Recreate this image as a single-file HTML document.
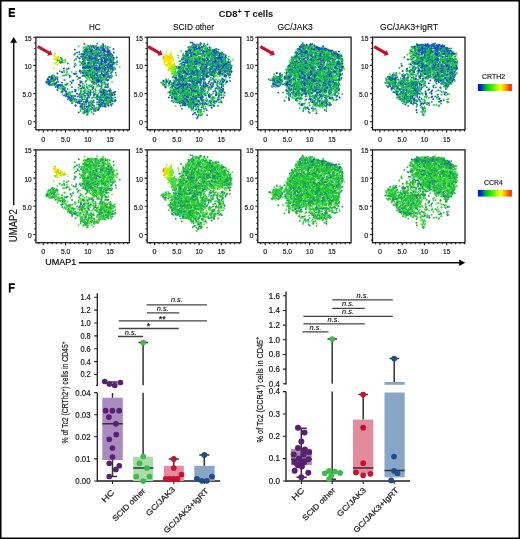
<!DOCTYPE html><html><head><meta charset="utf-8"><style>html,body{margin:0;padding:0;background:#fff}svg{display:block;will-change:transform}text{font-family:"Liberation Sans",sans-serif;stroke:#222;stroke-width:0.22px}</style></head><body>
<svg width="520" height="539" viewBox="0 0 520 539">
<rect x="0" y="0" width="520" height="539" fill="#fff"/>
<defs><path id="c0m0" d="M55 9.9h0m-4.3 1.3h0m3.7-.2h0m1.3 .1h0m12.1 .4h0m-28.9 1h0m21.1-.8h0m-1.6 1.6h0m9.4-.8h0m1.2 .9h0m-25.7 1.4h0m10.2-.2h0m18 .1h0m2.2 .3h0m4.2 .3h0m-25.3 .3h0m4.2 .3h0m1.3-0h0m4.6-.2h0m2.1-0h0m8.8 .2h0m.3-.2h0m-18.5 1.2h0m16.9-.1h0m-8.1 1.7h0m7.8-.4h0m1.2-.5h0m3.1 .7h0m-22.6 .7h0m17.9-.2h0m5 .1h0m-31.2 .7h0m5.6 .1h0m24.2 .5h0m2.7 .3h0m-30.7 1.5h0m4.3 .3h0m8.8-.7h0m-1.4 .9h0m12.6 .6h0m-11.9 .8h0m10.9 .4h0m2.3-0h0m1.1-.5h0m-26.6 .9h0m8.6 .8h0m3.4-.6h0m-13.2 1.5h0m13.1-.7h0m1-0h0m13.3 .1h0m-25.6 1.2h0m17.5-.1h0m.9-.3h0m.5 .5h0m1.9-.3h0m2.9 .5h0m6.2-.2h0m-3.4 .5h0m-24.6 1.5h0m18.5 .4h0m5.4-.9h0m2.8 .7h0m-21.2 .7h0m19-.2h0m-19.7 1.1h0m5.4 .1h0m2-0h0m1.3 .1h0m7.3-.5h0m5.9 .4h0m-45.5 1h0m16.7-.4h0m16.7 .1h0m10.5 .8h0m-15.8 .1h0m-35.2 1.3h0m22.9 .2h0m4.1-.5h0m2 .5h0m3.7-.1h0m6-.2h0m1.1-.2h0m6.2 .8h0m-8 1h0m14.3-.7h0m-22.6 1h0m21.3 .3h0m-21.7 1.3h0m1.2-.7h0m-26.4 1.7h0m33.6-.7h0m2.6 .5h0m-30.4 1.8h0m23.3 1.3h0m7.5-.6h0m-46.3 1.5h0m38.8-.2h0m7.1 .6h0m3.8-.2h0m-39.2 .6h0m37.6 0h0m-55 1h0m2.3 .1h0m1.7-.2h0m2.5 .6h0m3.4-.1h0m39.7-.8h0m4.7 1.5h0m.8 .4h0m2.2 .1h0m-50.3 .1h0m40.3 .1h0m-44.8 1h0m44.5-.1h0m4.3 .7h0m-48.8 .7h0m12 .3h0m.3-.6h0m31.2 1.9h0m14.3 .6h0m-45.6 .7h0m1.5 .9h0m45.6 1.3h0m-3.6 1.1h0m-2.6 1.8h0m-19.6 1.1h0m11.3-.1h0m7 .4h0m7.4-.9h0m-11.8 2.4h0m-12.1 .9h0m4.2 .5h0m-7.7 .4h0m5 .7h0m25-.8h0m-9.9 1.6h0m4.1-.1h0m-33 .5h0m7.2 .2h0m22.9 .3h0m7.1 1.1h0m-34.3 .5h0m1.4 .7h0m8.9-.4h0m14.8-.4h0m1.1 1.2h0m1.3 .5h0m-21.5 .8h0m22.8-.6h0m.2 2h0m-10 1.5h0m4.2-.1h0m-11 2h0m3.7 .2h0m-5.3 .5h0m1.4 .9h0m.2 .2h0m6.2 .2h0m-6.8 1.7h0m6.1 1.1h0"/><path id="c0m1" d="M61.3 6.3h0m-9.5 2.2h0m3.2-.2h0m-6.1 1.6h0m14 .3h0m3.2 .2h0m-4.4 .3h0m8.4-.1h0m.3 .1h0m-21.1 1.5h0m.4-.4h0m13.6 .8h0m5.2 .5h0m-.2 1h0m-11.3 1.2h0m3.3 0h0m13.3-.6h0m-22.5 .9h0m.4 .5h0m-6.3 .8h0m3-.2h0m1.1 1.2h0m10.1 .1h0m1 .3h0m9.7-.4h0m3.7-.1h0m-9.7 1h0m-8.7 .9h0m18.1-.2h0m.3 .7h0m-15.1 .7h0m1.5-.1h0m7.9 .3h0m1.4-.3h0m.4 .7h0m-21.2 .7h0m13.2 .2h0m9.7-.4h0m-11.1 1h0m-4.3 .8h0m5.8 0h0m10.2-.2h0m1.2 .3h0m1.8 .2h0m-19.4 .6h0m1.6 .2h0m5.7 .3h0m-15.6 1.1h0m25.1 .1h0m8.3 .9h0m-33.7 1.1h0m6.6-0h0m13.3-.3h0m4.8-.4h0m-23.7 1.6h0m10.4 .2h0m1.5-.7h0m1.9 .3h0m3.9-.1h0m1.6-.1h0m5.7 .1h0m1 .2h0m-21.3 .9h0m7.3 .2h0m10.6-.5h0m7.7 .1h0m-15.8 .8h0m2.9 .2h0m6.6-.3h0m3.4-.1h0m-7.3 1.9h0m6.1-.5h0m1.1-.1h0m-44.8 .7h0m18 .8h0m16.7 .2h0m3.6-.5h0m-6.2 .5h0m10.6 .4h0m-47.8 .9h0m5.5-0h0m26.6 .2h0m1.4-0h0m16.6-.2h0m-25.6 .9h0m-32.5 2.5h0m39.6-.1h0m6.2 .2h0m3.1-.1h0m9.1-.1h0m4.7 0h0m-14.9 .5h0m-12.8 1h0m11.1 .2h0m11.4 .4h0m-59.5 .3h0m40.7 .1h0m0 .3h0m4-.2h0m-31.9 2.1h0m15.9 .9h0m16.9 .7h0m.9-.8h0m5.5 1.8h0m-56 .1h0m2.2 .4h0m33.1 .4h0m11.3-.3h0m14 .4h0m-59.6 .4h0m18.3-.1h0m19.8 .4h0m-36.1 1h0m33.8 .1h0m5.9 .9h0m-11.7 1.3h0m3.8 0h0m-24.2 .7h0m6.9 0h0m2.6 .7h0m13.8 .1h0m7.1 .4h0m3.7-.2h0m18-.3h0m-44.3 2.2h0m27.7-.1h0m-23 1.4h0m33.1-.7h0m.9 .6h0m5.1-.7h0m-25.5 1.8h0m20.2-.6h0m-36.7 .8h0m1.4 .6h0m25.3-.3h0m11.6 0h0m2.4 .7h0m-38.1 .2h0m10.1 .3h0m7.3 0h0m13-.5h0m9.7 0h0m.6 .5h0m-35.8 .6h0m-6.7 1.3h0m33.4 .2h0m-31.9 .5h0m39.7 .3h0m-42 1.1h0m11.3 .4h0m3.8 0h0m1.8-.2h0m19.7-.3h0m.4-.1h0m-28.3 2.2h0m15.7 .8h0m18 .3h0m-25.7 .9h0m4 .4h0m-5.8 .7h0m6.4 .1h0m17.9-.6h0m-24.6 1.8h0m22.5 .2h0m-22.6 1.1h0m5.3 .7h0m9.5 0h0m-3 .8h0m2.5 .1h0m-15.6 .6h0m8.7 1.3h0m8.2-.1h0m-8.6 .4h0m.5 .2h0m-4.4 1h0m.5-.1h0m5.9 .5h0m-8.2 .9h0m3.2 1.6h0"/><path id="c0m2" d="M52.9 8.9h0m6.8 .5h0m-6 .8h0m13.9-.3h0m-13.3 1.5h0m7.8-.6h0m15.5 .9h0m-21.1 1h0m6.1 .2h0m3.7-.1h0m1 .6h0m.9-.5h0m-18.7 .7h0m4.9 .2h0m1.9 0h0m-15.2 1.6h0m9.2-.7h0m1 .1h0m16.7 .4h0m4.2-.6h0m-18.4 1h0m9.4 .6h0m-24.1 .3h0m34.6 0h0m-23 2h0m4-.3h0m15.6-.5h0m1.9 .2h0m-30.6 1.4h0m9.2 .7h0m9.4-.3h0m12.8 .5h0m-25.1 1.1h0m1.3-.5h0m8 0h0m3.8 .2h0m9.4 .1h0m-22 .5h0m9.9 .2h0m.2-.1h0m7.5 .8h0m9.1-.1h0m2.7-.7h0m-20.7 .8h0m11.8 .8h0m2.5-.4h0m2.5-.3h0m-19.6 1.7h0m13.2 .2h0m9.8-.1h0m-30.3 .3h0m10-.1h0m13.3 .7h0m6.8-.6h0m-24.4 1.7h0m11.7-.8h0m-24.8 2.1h0m13-.1h0m4.6 .6h0m3.3 .3h0m4.4-.9h0m-26.4 1.8h0m9-.9h0m3.7 .5h0m23.4 .2h0m-24.8 .5h0m-.6 1.3h0m2-.1h0m1 .3h0m8 .2h0m10-.1h0m-11.9 .3h0m4.7 .3h0m5 .1h0m.6 .4h0m3.6-.2h0m-20 1.2h0m4.2-.2h0m9.9-.2h0m-22.5 1.3h0m10.3-.5h0m13.4 .1h0m-17 1.2h0m15.3-.3h0m4 0h0m-17.7 1.1h0m3.7 .3h0m12.8-.6h0m-16.5 1h0m.3 .1h0m6.4 .1h0m13.2 0h0m-19.3 1.4h0m11.5-.5h0m3 .3h0m-15.4 .6h0m9.9 .3h0m6.3 .2h0m1.1-.2h0m-49.5 1.3h0m32.4-.1h0m-31.8 .8h0m40-.2h0m-3.1 .8h0m-42.4 1.4h0m2.3-.3h0m20.4 .6h0m20.5-.3h0m5.2 .5h0m.7-.5h0m.7-.1h0m.7 .7h0m7.5-.8h0m-56.9 1.2h0m49.2 .1h0m-54.4 1.1h0m1.9-.4h0m13.7 .7h0m32-.7h0m-22.4 1.1h0m8.7-.2h0m12.8 .3h0m3.1-.1h0m-40.8 .8h0m23.5 .8h0m-20.5 .9h0m7.5-.7h0m39.8 0h0m-21.9 3.4h0m9.3-.1h0m10.7 1.4h0m-2.7 .9h0m1.5 .1h0m8 .1h0m-25.8 .1h0m22.1 .7h0m-.5 .6h0m-1.8 1.4h0m.9-.4h0m5.7 .1h0m2.3-.1h0m-36.5 .7h0m30 .9h0m2.7-.1h0m1.4-.4h0m-23.4 .8h0m10.1 .2h0m7 .3h0m4.9-.2h0m1.7 .3h0m-43 .7h0m16.5-.4h0m8.7-.1h0m9.9 .4h0m3.2 .6h0m-38.8 .1h0m36-.1h0m.6 .7h0m-35.7 1.1h0m39.2 0h0m-37.3 .5h0m.8 .4h0m34.8-.5h0m4.9 1h0m-24 1.7h0m21-.1h0m1.4-.1h0m-23.8 .6h0m3.6 .6h0m3.6-.6h0m10.5 .2h0m-12.4 .8h0m16.8 .7h0m-5.4 .1h0m4.4 .7h0m-31.4 .8h0m14-.3h0m19.1 .7h0m-28.4 .7h0m19.9 .1h0m2.4-.3h0m2.1 .2h0m-20.4 .3h0m2 0h0m-4.1 1.5h0m11.6 1.4h0m-8.9 .8h0m4.7-.6h0"/><path id="c0m3" d="M50.6 9.7h0m4 .7h0m-3.7 1h0m.5 .1h0m19.3-.4h0m-18.5 2.1h0m9.7-.2h0m-4 .9h0m-4.6 1.3h0m2.3 .1h0m10.3-.5h0m4.2-.2h0m-20.4 1.7h0m9.4 .1h0m9.2 .4h0m4.1-.2h0m-22.9 1.8h0m7-.9h0m1.5 .8h0m1.8-.7h0m16.8 .8h0m-22.6 .4h0m15-.1h0m5.3 .8h0m1.7-.5h0m-25.9 .8h0m-2.3 1.6h0m-0 .6h0m.2-0h0m.6-.3h0m22.2 .6h0m-22.9 1.1h0m5.8-.4h0m-0-.4h0m3.2 .8h0m13.8-.4h0m-16.1 1h0m1.4-.1h0m.2-.2h0m14 .3h0m7-.2h0m3.9 .5h0m-36.9 .5h0m5.5 .4h0m-10.7 1.1h0m7.5-.3h0m17.5-.3h0m9 .2h0m6.7-.1h0m-28 .7h0m.3 .5h0m1.9-.1h0m-.5 2.5h0m3.7-.1h0m9.1-.7h0m6.9 .3h0m-24.2 .8h0m2.7 .5h0m19.4-.3h0m-5.8 .9h0m-16.9 1.3h0m7.8-.4h0m19.7 .2h0m-16.1 1.5h0m-11.5 .4h0m7.6 .3h0m.7-.5h0m13.6 .9h0m-34.4 .3h0m11.6 .4h0m6.1 .1h0m4 0h0m-7.1 1h0m8.4 .5h0m-31.9 1.6h0m28.7-.6h0m7 .3h0m5.4-.2h0m-51.5 1.3h0m18.5 .2h0m16.6-.1h0m-37.3 .3h0m3 .8h0m36-.2h0m2.9 0h0m1.6-.2h0m3.4 1h0m.3-.1h0m-49.2 .8h0m41.4 .7h0m2.6 .4h0m1.9 .6h0m1.4-.1h0m8.3 .1h0m-0-.8h0m3.6 .5h0m-14.1 1.3h0m3.2-.4h0m15.7 .7h0m-59.7 2.7h0m4.2-.8h0m36.3 .8h0m11.4-.2h0m-44 .6h0m10 .1h0m12 .3h0m8-.5h0m-26.5 1.3h0m16.7 .3h0m15.9 .2h0m8.2 .6h0m-24.5 1.3h0m-19.1 .6h0m23.6 .1h0m.7-.5h0m15.8 .8h0m-15.3 .2h0m20.6 .7h0m-21.8 .5h0m10.7 .2h0m-4.8 1.5h0m8.1 .6h0m3.1-.3h0m2.5 .2h0m1.4-.5h0m2 .8h0m-39.9 .9h0m21.1-.2h0m15.1 .5h0m3.9-.4h0m4.7 .2h0m-42.3 .8h0m16.4-.1h0m20.3 .2h0m-18.3 .6h0m14.5 .7h0m2.8-1h0m-21.3 1.2h0m8.7 .2h0m3.7-.3h0m-26.9 .9h0m14.2 .6h0m27 .4h0m-8.2 .2h0m1.2 .2h0m-32.1 1.5h0m7.1 1h0m27.6-.1h0m8.7-.8h0m-24.9 1.3h0m14.5-.3h0m-15.7 1.9h0m9.6-.7h0m.7-.1h0m-18.7 1.5h0m17.9-.1h0m2.1-.1h0m.3-.3h0m3.8 .7h0m-4.3 .5h0m5 2.1h0m-24.8 .6h0m16.4-0h0m-8.1 2.3h0m.3-.2h0"/><path id="c0m4" d="M55.9 9.4h0m13.6-.3h0m-13.5 .5h0m9.7 .3h0m6.1-.1h0m-16.4 1h0m9.7 .3h0m-16.4 1.4h0m7.1-.3h0m7.8-.1h0m8.4-.3h0m-21.3 1.3h0m9.7-.5h0m2.7 .6h0m.1-.1h0m.2-.1h0m-15.8 1.1h0m1.8 .4h0m3.8-.2h0m15.6-.5h0m-15.9 1h0m9.8 .4h0m-14.2 1h0m8 .2h0m1-.1h0m.7 0h0m5.2-.7h0m9-0h0m-26.6 1.1h0m6.9 .7h0m22-.7h0m-23 .9h0m3.2 .8h0m11.3-0h0m.7-.2h0m6.1-.6h0m1 .6h0m-14.3 .5h0m11.2 .7h0m4.2-.7h0m-20.5 2.6h0m2-0h0m13.8-0h0m-23.6 .7h0m3.2-.2h0m18.8-0h0m-0-.2h0m4.2-.1h0m-34.4 1.5h0m8.9 .2h0m.6-.3h0m5.5 .3h0m18.9-.3h0m.3-0h0m4-.4h0m-20.8 1.7h0m16.5 .8h0m6.1 .4h0m-32.7 1h0m8.9-.4h0m6.3-.5h0m4.6 .1h0m-26.2 1.4h0m9.3-.4h0m2.9 .4h0m23.6-0h0m-20 .8h0m12.9-0h0m7 .7h0m-27.7 1.3h0m1.1 .5h0m19.1-.5h0m-3.2 1.6h0m5.4-.7h0m2.1-.1h0m-16.2 1.7h0m10-.2h0m4.3-.3h0m4.3 .1h0m5-.3h0m-34.3 2.5h0m23.9-.3h0m-20.4 1.2h0m20.2-.5h0m-8 1.9h0m-20.8 .2h0m7.7-0h0m3.1 .4h0m15.2 .4h0m.4 .6h0m-25.2 1.1h0m14-0h0m-33.5 1.2h0m42.4-.3h0m-12.8 1.2h0m19.3-.6h0m-13.2 1.2h0m2.3 .5h0m3.2-0h0m4.3-.8h0m2.4 .3h0m1 .7h0m-51.3-0h0m41.7 .2h0m9.9 .1h0m-53.2 1.1h0m18.9-.4h0m20.4 .9h0m-44.3 .8h0m55.9-.3h0m-50.7 1.6h0m2.3-.8h0m2.3 1.7h0m-6.4 .2h0m2.6 .5h0m2.7 .2h0m4.5 .1h0m39.9-.7h0m0 .9h0m-38.7 1h0m42.4 .2h0m1.2-0h0m-13.9 .9h0m-27.8 1h0m9.9 .8h0m20.6-.6h0m4.9 .1h0m1.5 1.8h0m5.6 .4h0m-40.9 .9h0m5.8-.5h0m18.3 .5h0m11-.3h0m11.9 .6h0m-33.2 .6h0m21.3 1.3h0m8.4 .1h0m-44.2 1.6h0m22.9-.3h0m-9 1.2h0m20 .1h0m6.4 .1h0m1.1 .1h0m1.5-.1h0m6.5 .1h0m-45.9 1.3h0m2.1-.5h0m.1-0h0m20.6-.3h0m-4.9 1.7h0m9.9-.5h0m.1 .1h0m3.2 .2h0m5.7 .3h0m1.8-.8h0m5-.1h0m-41.6 1.5h0m3.1-.3h0m11.9 .3h0m25.3 1.1h0m3-.2h0m-35.2 1.2h0m.2-.3h0m9.1 .4h0m4.8-.1h0m3.7-.1h0m1.7-.4h0m7.8 .5h0m-28.9 .6h0m14 .9h0m7.3 1.2h0m3.1 1.1h0m-20.3 1.1h0m6.8-0h0m-5.6 2.3h0m12-.7h0m-14.5 2h0m7 3.4h0"/><path id="c0m5" d="M67.2 7h0m.2 1.5h0m-6.6 1.6h0m-8.9 1.4h0m-1.1 .7h0m9.6-.1h0m1.8 .8h0m-6.4 .8h0m1.5 .7h0m7.5-.7h0m5 .5h0m-20.7 .8h0m6.3-.2h0m2.8 .8h0m10.3 1.1h0m6.1 .3h0m-2.8 1.3h0m2-.6h0m2.6 .4h0m-28.9 .7h0m1.8 .5h0m3.2 0h0m1.5-.3h0m.1-.1h0m1.8 0h0m2.4-.3h0m16.2 .1h0m6.3 1.6h0m-33.8 .5h0m18.4 .1h0m.4 .5h0m7-.2h0m1.8 .9h0m-25.8 .6h0m6.3-.2h0m14.5 .3h0m-3.9 .8h0m7.5 .7h0m-7.7 .8h0m.6-.4h0m11.6 .8h0m3.6-.8h0m-34.9 1.4h0m.2-.4h0m1 .3h0m1.6 .3h0m16.7 .1h0m2.4-0h0m-15.8 .8h0m21.1 .1h0m-15.8 1.1h0m13.5-.4h0m-14.8 .7h0m17.5-0h0m-27.2 1.8h0m13.6-.2h0m12.9-.1h0m-45.3 1h0m4.7 .1h0m20.2-.6h0m7.8-.1h0m10.8 .5h0m-13.3 1.4h0m9.9-.9h0m1.3 .8h0m-8.7 .2h0m7.6 .2h0m9.3-.2h0m-29.5 .9h0m12.2 .6h0m12-.5h0m-15.5 1.8h0m8.7-.8h0m6.3 .1h0m-22.1 1.4h0m.4 .1h0m15.8 .3h0m-35.4 .8h0m21.3-.7h0m14.2 .2h0m1.1 .7h0m3.7-.2h0m-37.1 1.2h0m14.8-.2h0m.1-0h0m2.3-.2h0m4.4-.3h0m-8.7 .9h0m-30.7 1.7h0m39.7-.4h0m3.1 .5h0m9.5-.8h0m3.1 .1h0m-56.1 1.4h0m43.7 .1h0m7-.7h0m-46.9 1.1h0m2.5 .3h0m-7 1.1h0m47.4 .2h0m9.4-.1h0m-60.8 1.3h0m11.9-.1h0m27.3-.1h0m13.8-0h0m-49.2 .9h0m41.7-.5h0m-42.3 .9h0m-1 1.4h0m59.2 .7h0m-50.6 1.4h0m42.4-.1h0m-12.8 .6h0m-5.5 1.8h0m9.1 1.9h0m-28.2 .8h0m12.9 .3h0m29.2 0h0m4.9-.6h0m-4.3 1.5h0m9.1 .1h0m-29.1 .4h0m3.5 1.2h0m6-.5h0m-30.4 1.9h0m2.4-.1h0m38.5-.5h0m-27.1 1.4h0m-8.2 1h0m28.4-.4h0m13.8 .7h0m-14.3 1h0m8.1 .4h0m.7 .7h0m2 .9h0m-37.4 .2h0m8.8 .5h0m11-.3h0m-18.1 .6h0m5.8 0h0m.2 .1h0m.7 .7h0m31.1-.2h0m-8.4 .4h0m-15.9 1.4h0m17.3 .4h0m-19 .4h0m8.4 .1h0m7.7 .5h0m7.2-.3h0m-26.4 1.5h0m8.3-.8h0m9.7 1.6h0m-7 .5h0m6.4 .9h0m-20 3.5h0m5.2-.2h0m.9 .3h0"/><path id="c0m6" d="M42.9 9.3h0m9 0h0m17.9 1h0m-19.6 .2h0m9 .5h0m.4-.4h0m7.9 .2h0m-13.7 2h0m3.7 2.6h0m2.3 .5h0m.4 .5h0m-14.3 1.5h0m28.9-.2h0m-26.9 1.3h0m3.4 .2h0m-9.3 1.3h0m22.9-.4h0m1.2-.6h0m2.5 1h0m5.3-.4h0m-26.7 .6h0m27.1 .1h0m-24.6 1.7h0m7.2 .3h0m4.8-.2h0m-13.1 1.6h0m6 .1h0m17.6-.3h0m1.6-.2h0m-6.7 1.5h0m5.1-.5h0m-24.9 1.1h0m6.4 .5h0m7.4-.5h0m15.3 .5h0m-36.8 .5h0m7.6 .6h0m7.7-.3h0m-6 1.2h0m3.4-.7h0m4.3 .7h0m7-.8h0m12.7 .5h0m-16.1 .7h0m11.4 .6h0m0 .7h0m12.2-.4h0m-33 .9h0m15 .2h0m6 .5h0m-18.2 .4h0m0 .4h0m17.1-.6h0m5.2 .5h0m-25.4 .5h0m6.1 1h0m.9-.7h0m9.8 .2h0m-26.9 1.2h0m6.6-.1h0m2.9-.5h0m.9 .2h0m6.2-.3h0m3 .9h0m-31.7 .7h0m25.4 .3h0m-21.7 1.6h0m17.5 .3h0m3.1-.4h0m2.3 .2h0m6.5-.2h0m-45 1.1h0m13.9-.1h0m25 .1h0m6.6-0h0m3.9-0h0m-45 1.4h0m35 .1h0m3.4-.3h0m-44.9 .9h0m.2 .4h0m2.8-.5h0m32.9-.1h0m1.1 .5h0m13.7-.8h0m.1 .3h0m4.7 .3h0m-57.2 .4h0m52.2 .4h0m2.9 .4h0m-26 .7h0m10.1-.1h0m15.2-0h0m-12.5 1.5h0m9.5-.9h0m-45.6 2.2h0m.3 .1h0m-8 1.4h0m5.7 .5h0m12.1 .6h0m37.8-.5h0m-10.3 1.4h0m-32.9 .4h0m39.1 .2h0m-9 1h0m-28.8 1.2h0m18.2 1.2h0m22.2-.2h0m-19.9 .9h0m-16.3 .6h0m16.8 .5h0m6.9-.2h0m14.1 .4h0m-6.5 1h0m-28.9 .5h0m3.3-.2h0m12.3 .5h0m5.4 .4h0m23.4-.8h0m.4 .6h0m.1-.7h0m-49.5 1.4h0m52.2-.2h0m-41.6 1.4h0m40.1 0h0m-31.8 .5h0m-8.1 .9h0m22.7 .9h0m5.5-.2h0m-2.1 1.7h0m6.1 .4h0m2.3-.3h0m1.1 0h0m-28 1.3h0m10.4 0h0m-18.9 1.1h0m1.7-.6h0m1.2-.1h0m15.5-.2h0m20.9 .1h0m-6 1.6h0m-19.8 1.7h0m15.7-.4h0m2.5 .6h0m2.9 .3h0m3.7-.7h0m-24.8 1h0m-4.8 .8h0m.6-.1h0m-.7 3h0m15.8 .8h0m-10.6 2.1h0m.5 0h0"/><path id="c0m7" d="M60.8 8.9h0m3.8 1h0m2.5 .9h0m.7 .6h0m-11.9 .8h0m4.3 1.2h0m-11 2.1h0m11.4-.6h0m6.8 .5h0m-13.2 .9h0m18.4-.1h0m-24.5 1.1h0m14.1-.7h0m3.1 .9h0m7-.3h0m2.7-.5h0m-7 1.3h0m-22.9 1.2h0m10.6 .2h0m14.4-.6h0m1.6 .2h0m1 .2h0m-8.3 .3h0m2.2 .9h0m9.2-.6h0m-22.9 1.5h0m4.8-.5h0m1.8-.3h0m.8 .5h0m7.8 .2h0m6.6-.4h0m-34.5 .9h0m14.3 .4h0m10 .3h0m7.5-.1h0m2-.7h0m-.6 1.7h0m-14.3 .9h0m-0 .3h0m16.4 .3h0m.3-.3h0m-17 2h0m2.1-.7h0m1.4 .5h0m6.5-.1h0m-4.9 .9h0m9.4 .3h0m-22.6 1.1h0m1.1-.7h0m6.6 .1h0m2 .1h0m14.5 0h0m-24.5 2.2h0m2.5-.6h0m2 0h0m10 .9h0m9.1-.4h0m-8.6 .4h0m-13.3 2.9h0m24.7-.4h0m-22.3 .8h0m7.3 .1h0m7.8-.3h0m-18.2 1.4h0m6.6-.4h0m17.1 .6h0m4.7 .3h0m-42.2 .9h0m2.5-.1h0m4.9-.5h0m6.9 .2h0m2.7 1.2h0m4.6-.5h0m-11.8 1.7h0m7.3-.1h0m2.1-.2h0m-40.8 .9h0m33.4 0h0m18.9 .1h0m3.6-.2h0m.6 .2h0m.7 .3h0m1-.8h0m-18.1 1.5h0m1.9 .2h0m6.9 0h0m5.7-.4h0m1.7-.4h0m3.1 .9h0m-32.6 .3h0m17.4 .6h0m0-.4h0m-45.2 1.4h0m1 .9h0m2.3-.2h0m52 0h0m-35.8 1.4h0m26.2-.7h0m-49.6 1.3h0m5.5 1.5h0m14.1 .7h0m29.8-.4h0m9.5 .1h0m-14.4 2.4h0m-35.8 .5h0m16.3 .2h0m10.9-.3h0m1.2 .6h0m17.1-.8h0m6.9 .3h0m-45.1 1.2h0m24.4-.1h0m14.1-.3h0m-38.5 1.4h0m-.2 2.5h0m20.8-.1h0m.8-.1h0m-23.1 .5h0m19.5-.3h0m10 .4h0m19.7-.1h0m-41.5 .8h0m36.2 .2h0m-25.6 1.1h0m2.4 .5h0m12.5-.4h0m1 .3h0m7.7 .1h0m3.8-.1h0m-35.4 1h0m7.5-.6h0m24.5 .3h0m6.7 .2h0m-21.9 .8h0m22-.1h0m-28.2 .7h0m-0 .6h0m18.2-.4h0m3.2 0h0m-16.5 1.6h0m13.8-.7h0m4.3 .7h0m-30 .4h0m-5.3 1.1h0m6.8-.1h0m11.1 .4h0m11.5-.2h0m1.3-.1h0m.6 .3h0m1-.3h0m6.8 .5h0m6.3-.5h0m-28.6 .7h0m25.6 .2h0m.1 0h0m.3 .3h0m.3-.1h0m-29.2 .6h0m15.6 .1h0m-27.4 1.3h0m40.5 .5h0m-11.9 .2h0m-19.1 1.3h0m6.8 .8h0m5.8 0h0m-3.4 2.7h0m-4.1 2.5h0"/><path id="c0m8" d="M48.6 6.7h0m8.5 1.8h0m.7 1.2h0m.6 1.1h0m9.1 .5h0m-17 .9h0m3-.5h0m1.5 1.2h0m13.8-.1h0m2.8-.2h0m2 .9h0m-.6 .2h0m-1.6 1h0m.5 .3h0m-16.4 .8h0m18.9 .7h0m-28.2 .4h0m1.7 .1h0m3.5 .2h0m5.2-.6h0m4.7 .5h0m-7.3 1h0m5.4 .1h0m9.9 .3h0m1.9-.8h0m.5 .2h0m-24.4 1.3h0m7.7 .1h0m6.8-.6h0m1.6-.2h0m-13.8 1.8h0m4.1-.7h0m-10.1 1.5h0m5.6-.4h0m3.9 .7h0m.6-.6h0m4.9 .4h0m9.7-.4h0m4.1 .6h0m5-.9h0m-21.2 1.1h0m2.8 .6h0m16-.5h0m-22.8 1.5h0m8.2-0h0m1.9-.7h0m4 .8h0m4.7-.6h0m3.8 .4h0m-12.8 .5h0m7.9 .6h0m4.9 .3h0m-27.8 .7h0m.2-.3h0m.8 .1h0m5.4 .5h0m15.4-.9h0m.1 .9h0m6.1-.7h0m-22.8 .8h0m5.6 .9h0m7-.8h0m-17.5 1.2h0m18.9 .3h0m6.4-.5h0m4.1 .2h0m-6.7 1h0m4.5 .3h0m-24.7 1.1h0m6-.5h0m8-0h0m4.4 .4h0m7.9-.2h0m-24.6 .7h0m1.7-0h0m.9 .7h0m2.6-0h0m1.8-.2h0m13.2-.1h0m1.8 .1h0m-24.7 .8h0m14.7-.5h0m1.1 .8h0m2.2-.5h0m2.9-.1h0m7.4 .4h0m-15.5 1.2h0m14.3-.7h0m-31.9 1.6h0m10-.1h0m-27.7 2h0m-4.9 1.1h0m25.6-.4h0m23.6-.1h0m-32 1.1h0m22.1-.2h0m11.1 .9h0m-13.2 .5h0m2.3 .4h0m6.3-.6h0m.6 .5h0m1.3-.8h0m-11.1 1.2h0m9.7-.2h0m-54.4 1.2h0m2.2-.1h0m40.1 .3h0m6.8 .6h0m-45.7 .5h0m27.4-.3h0m13.3 .1h0m16.1-.3h0m-62 1.6h0m.7-.1h0m3.6-.3h0m41.8 .4h0m3.4 .4h0m-44.5 .6h0m44.7 .3h0m2.1-.6h0m-50.1 .7h0m49.6 .8h0m-17 .3h0m16.3 .4h0m-41.8 .9h0m-1.9 1h0m5.9 .6h0m-5.7 0h0m3.9 .8h0m2.2 .2h0m19.6 0h0m-22.7 1.4h0m6.4 2.3h0m-6.5 .6h0m6.9 0h0m11.6 .3h0m28 0h0m1.1 .1h0m-39.2 1.1h0m38.1-.5h0m6.1 .1h0m5.1 .6h0m-26.5 .2h0m11.4 0h0m1.7 .4h0m1.7-.1h0m-37 1.4h0m20.7-.1h0m2.9-.3h0m11.8 .4h0m10-.5h0m-44.8 1.3h0m36.3-.1h0m11.4 .4h0m-24.2 .2h0m12.8 .3h0m1 .1h0m5.1 0h0m2.9-.3h0m-40.6 1.6h0m3.1-.5h0m22.2-.1h0m3.7-.3h0m-20.2 1.2h0m23 0h0m-30.1 1.2h0m14.2-.1h0m19.8-.2h0m2.4 .1h0m-27.5 1.5h0m17.3-.1h0m6.5-.5h0m-12.5 1.6h0m11.7-.2h0m6-.1h0m4 .2h0m-33.9 .9h0m5.4-.3h0m16.7 .3h0m-17.9 .6h0m-5.7 1.6h0m28-.5h0m-25.5 1h0m16.3 .7h0m2.3-.3h0m4.1-.3h0m5.9 .4h0m-35.5 1.4h0m5.4 .4h0m24.3-0h0m-17.8 .8h0m-2.3 2h0m13.2 .8h0m-2.7 1h0m-8 1.1h0"/><path id="c0m9" d="M59.1 8.7h0m1.3 .2h0m5.2-.4h0m.6 .8h0m7.7 1h0m-26.2 .4h0m3.8 .1h0m1.4 .5h0m2.1-.1h0m7.2 2.2h0m-14.9 1h0m9.9-.3h0m3.2 .2h0m.7-.4h0m-2.5 1.3h0m-7.7 1.1h0m3.9-.5h0m4.4 .1h0m.8 .3h0m6.1-.4h0m.3 .4h0m-23 .9h0m9.3 0h0m-14.4 .5h0m16-.1h0m.3 .9h0m3.8-.3h0m-8.3 1.4h0m11.8-.2h0m5.8-.4h0m2.9-.4h0m-23.6 2h0m27.3-.4h0m-22.4 1.1h0m23.6 .3h0m-11.4 .3h0m8.3-.2h0m4.3 .2h0m-27.5 1.5h0m9.4-.3h0m18.3 .3h0m-33.2 .8h0m9.5 .1h0m10.9 .3h0m17.5-.6h0m-36.3 1.5h0m2 0h0m9.1-.1h0m4.8-.7h0m-14 1.2h0m21.2 .7h0m-14 .3h0m13.1 .1h0m-23.1 1h0m5.3 .3h0m6.1 .2h0m13.2-.8h0m-1.8 1h0m-10.7 1.8h0m.5 0h0m10.4 0h0m-19.3 1.4h0m17.5 .2h0m12.1 .3h0m-49.7 1.2h0m19.8-.9h0m1.3 1.7h0m8.6-.3h0m8.5-.2h0m-14.4 1.2h0m.2 .1h0m3.5 .2h0m7.5-.1h0m5.3-.4h0m.4 .4h0m.7-.6h0m-19.7 1.9h0m19.9-.5h0m2.9 .2h0m-19.6 .4h0m-.1 1.5h0m18.7-.2h0m-53 .8h0m40.4 .6h0m11.9 .2h0m5.5-.5h0m-18.6 1.2h0m6.5-.7h0m-45.4 1.6h0m34.7-.3h0m-35.8 1.1h0m40.1 .6h0m2-.5h0m5.4-.2h0m-50.6 1.6h0m1.5-.1h0m34.4 .1h0m16.4-.8h0m-6.8 2.9h0m4.8-.3h0m-49.2 2h0m2 .1h0m14.2-.8h0m33.8 .3h0m-12.7 1.4h0m8.7 .3h0m-38.6 1.8h0m5.3-.3h0m.7 .5h0m37.7 1.7h0m-7 1.2h0m3.8-0h0m-12.6 .5h0m18.2 .3h0m-35.6 .9h0m23.6 .2h0m17.8-.5h0m-21.9 .8h0m12.2 .8h0m-36.4 .8h0m18.9-.4h0m13 .7h0m6.5 .6h0m5.5-0h0m-34.8 .7h0m7.3 .4h0m1.9-.5h0m18.1-0h0m1.4 .1h0m7.7-.2h0m-15.3 1.6h0m9.1-.2h0m.3-.4h0m-7.7 1.4h0m16-0h0m-13.5 1.3h0m6.3-0h0m4.7-.2h0m-33.8 1h0m31.4 1.3h0m1.2-.7h0m-17.8 1.7h0m2.6-.1h0m13.3 .5h0m1.6 .1h0m-11.7 1.1h0m-5.9 .8h0m.1 1.5h0m11.7-.6h0m8.5-.1h0m-12.1 1.3h0m-15.4 .9h0m3.8-0h0m4.1-0h0m-6.8 1.6h0m8.4 0h0m4.1 .2h0m-14.2 2.7h0m4.5 .4h0"/><path id="c0y0" d="M21.4 22.6h0"/><path id="c0y1" d="M21 20.9h0"/><path id="c0y2" d=""/><path id="c0y3" d="M21.5 19.9h0m.8-.3h0m0 1.4h0m-2.5 1h0"/><path id="c0y4" d="M21.5 23h0"/><path id="c0y5" d="M20 21.8h0"/><path id="c0y6" d="M18.6 16.6h0m-.9 2h0m1 .7h0m2.5 1.9h0m-2.9 .6h0"/><path id="c0y7" d="M19.3 16.7h0m.6 4.3h0m.5 1.9h0"/><path id="c0y8" d="M20 20.1h0m-.5 1.2h0m.1 1.2h0m2 .4h0"/><path id="c0y9" d="M18.6 18.9h0m3.1 5.2h0"/><path id="c0t0" d="M18.8 26.2h0"/><path id="c0t1" d=""/><path id="c0t2" d=""/><path id="c0t3" d="M19.2 26h0"/><path id="c0t4" d=""/><path id="c0t5" d="M21.5 27.3h0"/><path id="c0t6" d=""/><path id="c0t7" d=""/><path id="c0t8" d="M20.9 25.2h0m-.3 2h0m-2.7 3.6h0"/><path id="c0t9" d=""/><path id="c0e0" d="M25.8 22.6h0"/><path id="c0e1" d="M21.5 22.4h0"/><path id="c0e2" d="M24.4 24h0m1.9 1h0"/><path id="c0e3" d="M24.9 23.2h0m2 .5h0m-2 1.6h0"/><path id="c0e4" d="M24.1 23.5h0m3.9 1.4h0"/><path id="c0e5" d="M21.8 22.7h0m1.2 0h0"/><path id="c0e6" d="M24.8 20.6h0m-3 2.7h0m7.3-.6h0m-5.2 2.2h0"/><path id="c0e7" d="M29.6 24.7h0"/><path id="c0e8" d="M22 20.3h0m.4 1.9h0m2.2 .5h0m3.5 1.2h0"/><path id="c0e9" d="M25.9 21.8h0m-.2 2.9h0m-.7 1h0m7 .5h0"/><path id="c1m0" d="M59.1 9.9h0m-16.6 1.1h0m7 0h0m1 .5h0m2.1 .1h0m7.5 .7h0m9.5 .2h0m1.9-.1h0m-25.5 .6h0m5.1-.4h0m14.7 .8h0m-5.8 .7h0m.4-.6h0m5.2 .1h0m-14.1 1.6h0m.9-.1h0m4.6 .3h0m3.6 .4h0m3.1 .3h0m1.9-.2h0m1.5-.4h0m3.9 .4h0m1.3 .1h0m-32.9 .9h0m4.5 .6h0m4.3-.9h0m3.1 .2h0m1.6 0h0m5.5 .5h0m17.3-.5h0m-39.8 1.1h0m13.7 .4h0m7.9-.6h0m4.8 .3h0m6.2-.5h0m.1 .1h0m4.1 .3h0m1.9 .3h0m-30.5 1h0m12.7-.5h0m18.5 .3h0m-29.9 1.4h0m-8.1 .3h0m4.4 .3h0m8.8-.2h0m1.9 .4h0m7.5-.5h0m12.7 .7h0m-28.9 .8h0m21.5 .1h0m-24.4 1.1h0m5.6-.4h0m6-.1h0m3-.4h0m5.3 .6h0m12.4-.2h0m-35 .9h0m1.2-.2h0m10.8 .6h0m11.3-.3h0m4 .4h0m15.6-0h0m-27.2 .5h0m14.9 .2h0m12.2 .3h0m-40.4 1.1h0m1.9-.3h0m.5-.2h0m7.1-.1h0m-12.8 1.6h0m17.4-.2h0m.1-.3h0m1.1 .1h0m18.4 .5h0m-22.5 .2h0m5.8 .2h0m-26.3 1.5h0m7.7-.4h0m1.5 .3h0m16.8 .1h0m2-.5h0m15.8-.1h0m5.1 .4h0m-31 .6h0m5.3-0h0m3.8 .2h0m6.2-0h0m-28.3 .5h0m4.9 .3h0m3.3 .2h0m5.1-.1h0m5.6-.2h0m6.4 .7h0m7.1-.4h0m3-.2h0m3.3-.1h0m-39.9 .8h0m19.3 .8h0m.8-.3h0m4.1 .3h0m1.1-.6h0m6.5 .1h0m3.5 .4h0m3-.1h0m-34.5 1.1h0m2.2-.1h0m2.1-0h0m1.9-.5h0m22.3 .1h0m13.8-.1h0m-39.6 1.6h0m5.9 .1h0m9.6-0h0m10.9-.1h0m-37.4 .5h0m5.3-.2h0m9.2 .9h0m4.7-.4h0m7.2 .2h0m6 .1h0m1.9-.5h0m7.7-0h0m-36.4 .9h0m11.3 .1h0m12.4 .6h0m13 .1h0m-34 .8h0m.4-.3h0m18.4-0h0m6.8-.1h0m16.5-.3h0m-34.8 1.8h0m13.8-.2h0m18.6-.1h0m-35.9 1.4h0m-10.4 .5h0m10.5-.2h0m-8.1 1.5h0m9.4-.6h0m1.1 1.4h0m-18.5 1.4h0m5.6-.4h0m.5-.3h0m4.1 .3h0m2.1-.2h0m.8 0h0m7.9-.2h0m2.7 .4h0m2-.5h0m1.9 .2h0m12.4-.1h0m1 .7h0m10.1-.6h0m-61.2 1.2h0m15-.2h0m7.5 .4h0m.1-.6h0m10.1 .4h0m3.8-.1h0m26.9 .5h0m3-.6h0m-63.2 1.2h0m38.6 .3h0m12.4-.7h0m5 .5h0m3.7-.2h0m-47.2 1.4h0m2.1-.2h0m19.3 .1h0m-17.6 .5h0m11.1 .4h0m2.6-.3h0m22.8 .1h0m2.1 .3h0m-45.8 1.2h0m17-.1h0m4.4 .2h0m9.6 0h0m4.8 0h0m-35 1h0m41.2 0h0m-38.5 .3h0m3.2 .2h0m6.3 .3h0m16 .1h0m.7-.9h0m-17.3 1.4h0m2.5-.4h0m1 .7h0m31.3 .1h0m-24.9 .3h0m20.2-.1h0m4.9 .7h0m-26.8 .7h0m2.4 .1h0m23.6 .4h0m-48.6 .9h0m6.7-.1h0m-.2 .7h0m20.2 0h0m1.3 .5h0m17.4-.7h0m1.2-.2h0m-50.3 1.2h0m9.8 .6h0m7-.1h0m16.2-.2h0m3.9-.1h0m-35.8 1h0m13.3-.2h0m6.3 .3h0m9.6-.1h0m3.6 .2h0m-33.9 .9h0m6.2 .4h0m.3-.1h0m10.7 0h0m2.6-.6h0m28.7 .3h0m-46.1 1.1h0m1.8-.1h0m.6-.4h0m21.1 .6h0m-21.4 1h0m35.9 .2h0m2.8-.4h0m-41.5 1h0m7.5 0h0m.2 .5h0m2.4-.3h0m8.1-.7h0m3.4 .5h0m-13.5 1.1h0m5.1 .1h0m11.3 1.2h0m5.7-.1h0m-10.6 .7h0m4.7 0h0m19.5 .1h0m-42.2 .8h0m6.5-.1h0m5 .3h0m29.8 1.1h0m-27.8 .4h0m7.6 .5h0m16.6 0h0m-28.4 1h0m1.5-.1h0m11.6-.1h0m7.6 .3h0m8.2-.5h0m-13.7 1.9h0m-4.1 6.8h0m4.8 .8h0m3.3-.2h0m-4.1 2.7h0"/><path id="c1m1" d="M50.8 8.9h0m7.2-.3h0m.1 1.9h0m-11.3 .6h0m-.9 1.4h0m.2-.7h0m2.1 .8h0m10.5 .1h0m9.2-.1h0m.6 .7h0m-21.2 .4h0m15.1 .7h0m5.2-.8h0m-25.9 1.4h0m24.7-.4h0m-17.7 1.6h0m3.8 .2h0m13.3-.7h0m-22 1.5h0m12.6 .3h0m3.4-.9h0m8.6 .3h0m1.7-.3h0m6.6 .7h0m-1.6 .4h0m-31.6 1h0m2.2 .3h0m2.9 .1h0m12.4 0h0m-24.1 .8h0m30.4 .5h0m6.8-0h0m.4-.6h0m2-.2h0m0 .3h0m-37.4 1.4h0m4.9 0h0m3.3-.4h0m14.2-.3h0m8.4 .5h0m-15.8 1h0m14.2 .2h0m8.2 0h0m-36.4 .4h0m13.5 .7h0m.5-.2h0m2-.5h0m1.9 .5h0m14.6 .3h0m1.7-.3h0m3.9-.3h0m-44.6 .9h0m14.1-.3h0m22.5 .2h0m.8 .4h0m4.8 .1h0m-37.7 1h0m3.7-.4h0m25.5 .5h0m.5-.2h0m12.8-.4h0m-41.6 1.1h0m11.1 .3h0m9.8-.4h0m10.7 .2h0m-36.3 .9h0m16.4 .1h0m2.2 .1h0m9.4-.2h0m.7 .7h0m4-.7h0m4.5 .6h0m5.4-.7h0m.8-.1h0m-25.6 1.1h0m14 .4h0m6.6-.4h0m4.4 .7h0m3.1-.3h0m.7-.4h0m1 .7h0m-17.4 .4h0m6.4 .2h0m-37.7 1.4h0m3.4-.3h0m9 .1h0m1.5 .1h0m12 .1h0m-12.7 1.1h0m1.7-.6h0m8.6-.3h0m.1 .7h0m5.8-.6h0m9.5 .3h0m-39.8 .6h0m10.2 .4h0m1.9 .3h0m12.4 .1h0m.7-.7h0m8.5 .8h0m8.8-.3h0m-37.7 1.2h0m24.9-.3h0m10.6-0h0m6.4 .1h0m-37.5 .5h0m1.8-.1h0m7.3 .1h0m28.1 .5h0m-47.5 .9h0m16.3 .2h0m20.4-.2h0m6.9-0h0m.4-.2h0m7.1 .6h0m-33.6 .7h0m2.7-.6h0m-10.9 1.3h0m9.5-0h0m8-.4h0m8.4 .2h0m4.3 .2h0m1.2-.4h0m3.3 .7h0m7.7-.4h0m-43.7 1.1h0m5.6-.3h0m.8 .3h0m.9 .2h0m.8-.1h0m8.1 .4h0m11.5-0h0m1.7-0h0m4.3-.5h0m8.3-.2h0m-54.9 1.2h0m8.6-.4h0m8.6 .4h0m18.2 .4h0m-17.4 .8h0m5.5 .3h0m2-.8h0m1-0h0m-18.8 1.2h0m3.6 .3h0m.9-.1h0m2.1-.5h0m4.3 .9h0m.3 .4h0m4.9 .1h0m13.1 .3h0m2.2-.3h0m-32.5 1.3h0m.2-.7h0m.3 .2h0m23.7 .5h0m17.6-.5h0m-46.3 1.6h0m11.1-.4h0m3.4-.3h0m27.8 .1h0m-52.1 1.3h0m15.3-0h0m2.6 .2h0m8.1-.5h0m6.7-0h0m1.2 .7h0m-33.8 .3h0m2.9 .3h0m2.6-.4h0m3.2-0h0m8.4 .5h0m1.5-.4h0m11.5 .3h0m.9 .4h0m-18.5 1h0m8.5-.3h0m2.4 .1h0m5.5-.5h0m25.2-0h0m3 .5h0m-57.9 .7h0m4.1-.2h0m7.9 .4h0m7.5 .3h0m8.6-.4h0m2.1 .4h0m.5 .1h0m15.8-.1h0m-37.5 1h0m6.7 .1h0m6-.9h0m3.7 .1h0m1.6 .7h0m15.6-.5h0m-29.1 1h0m2.2-.2h0m2.5 .7h0m3.3-.4h0m7.9 .5h0m-14.8 .9h0m9.7-.7h0m-15 1.1h0m12.7-.2h0m28.1 .1h0m-33 2.1h0m1.1-.1h0m8.8-0h0m4.5 .6h0m.3-.3h0m.7-.1h0m18 .1h0m-28.5 1.4h0m2.7-.7h0m4.8 .6h0m5-.4h0m.7-.2h0m.7 .2h0m-26.2 1.3h0m2.2-.1h0m6.8 .4h0m12.3-.7h0m2-.1h0m-16.8 1.2h0m-9.2 1.2h0m3.4 .3h0m12.8-.8h0m7.6 .7h0m4.6-0h0m9.7 .2h0m6.7-1h0m7.5 .9h0m-44.8 .2h0m3.8 1.6h0m19.1-.1h0m-26.3 .5h0m14.1 .9h0m11.3-.6h0m4.8-0h0m-16.2 1.6h0m22-.8h0m7.6 .5h0m-45.5 .3h0m2.1 .1h0m17.8 .7h0m11.4-.4h0m1.9-.1h0m-32.2 1.3h0m6.7-.5h0m.9 .7h0m19.4-.2h0m-26.8 .5h0m6.5 .9h0m29-.1h0m-18.6 .6h0m-5.5 1.3h0m.7-.6h0m4.3 .1h0m3.3 .1h0m-6.9 .9h0m3.4 .3h0m21.6-.5h0m-32.8 1.3h0m.4-.3h0m11.1 .4h0m21.7 .3h0m-15.2 1.2h0m-2.7 1.6h0m3-.4h0m-.8 3.3h0m2.5 .9h0"/><path id="c1m2" d="M43.4 5.2h0m1.9 .5h0m1.2 1.5h0m13.8 .1h0m-14.5 .4h0m-4.7 2.2h0m2 .2h0m1.7 1.9h0m23.3 .3h0m.4 .2h0m-25 .7h0m9-.1h0m10.7-.6h0m-16.8 1.6h0m-2.7 1.2h0m16.3 .1h0m14.5-.1h0m-34.9 .2h0m16.2 .8h0m-17.1 .8h0m.1 0h0m5.5 0h0m10.5-.5h0m-10.7 1.1h0m1.8-.1h0m2.4 .3h0m17.8 .4h0m4.2-.3h0m-29.9 1h0m3 1h0m10.7 .2h0m12.2-.4h0m11.2 .7h0m-37.4 .3h0m29.3 .1h0m5.1 0h0m-16.6 .7h0m18.4 .4h0m-31.1 1.5h0m17.9-.1h0m.4 0h0m11.5-.9h0m2.9 .9h0m-37.6 .2h0m4.7 0h0m3.9 .1h0m1.9-.1h0m3.6 0h0m22.9 .8h0m-41.4 1h0m6.2-.5h0m.9 .4h0m7.3-.7h0m3.2 .3h0m15.9-.4h0m2.8 .5h0m9.7 .4h0m-34.9 .7h0m18.2-.5h0m12 0h0m1.5 0h0m3.4 .1h0m-41 1.7h0m16 0h0m5.6-.9h0m4.8 .1h0m2.6 .4h0m10.4 .3h0m-18.9 .2h0m6.3 1h0m7.9-.2h0m1.2-.5h0m-48.2 1.5h0m5.8-.4h0m2.4-.1h0m6.2 .2h0m10.9 .1h0m5.6-.3h0m6 .6h0m5.1-.2h0m8.2 .1h0m-47.3 .8h0m31.7 .2h0m1.4 .2h0m9.8 .9h0m5.5 0h0m-47.4 .7h0m.1 0h0m2.4 .3h0m8.3-.6h0m14.5-.2h0m9.9 .8h0m1.6-.6h0m13.8 .3h0m-51.3 1.4h0m22.5-.3h0m1.8-.1h0m17.5-.4h0m-33.2 1.8h0m.5-.2h0m12.1-.5h0m20 .3h0m4.7 .3h0m3.5-.3h0m-48.8 .6h0m12-.2h0m10.2 .7h0m.1-.1h0m1.6 .3h0m7.8 .1h0m-24.8 .9h0m9.5-.8h0m.2 .2h0m2.6 .1h0m15.7-.2h0m5 .6h0m-31.7 .9h0m2.2 0h0m-14.2 1.2h0m19.2-.5h0m7.5 .3h0m10.7-.4h0m16.7-.1h0m-46.6 1.5h0m.2 1.1h0m19.8-.4h0m3 0h0m-26.5 .7h0m2.6 .6h0m1.2-.2h0m3.2 .4h0m35.2 .1h0m-37.5 .2h0m11.8 .2h0m6.2-.3h0m.1-.1h0m-27.3 1.9h0m7.5-.8h0m4.7 .9h0m1.8-.7h0m11.4 .2h0m.6 .5h0m-19.1 .8h0m6.2-.5h0m6.5 .2h0m28.9-.2h0m-59.7 .9h0m10.6-.2h0m4 .5h0m3-.5h0m15.9 .4h0m1.7 .3h0m9.6-.6h0m4.2 .8h0m-20.6 .2h0m11.1 .9h0m16-.5h0m-56.7 .8h0m18.4-.2h0m7.6 .3h0m1.8 .4h0m22.1-.3h0m-48.8 .6h0m13.2 .5h0m1.2 .3h0m5.8-.5h0m11.9 .1h0m-31.1 1.3h0m12.6-.6h0m3 .7h0m-0-.4h0m1.3-.3h0m23.2 .3h0m7.6 0h0m8.7 .5h0m-46.5 .8h0m.6-.3h0m2 .4h0m1.5 0h0m30.6-.1h0m2-.5h0m9.6 .4h0m-37.9 .9h0m-7.2 .5h0m12.5-.1h0m-17.4 2.6h0m.9 .2h0m1.3 .1h0m30.8-.4h0m-34.7 .9h0m21.8 .4h0m32.9-.1h0m-51.4 .9h0m24.7 .4h0m1.1-.8h0m-15.2 1.1h0m1.3 .6h0m4.8-.2h0m26.9-.2h0m-34.5 1.3h0m3.1-.4h0m1.8 .4h0m4.1-.5h0m9.4 0h0m8.6 .1h0m-24.8 .8h0m11.5 .4h0m6.1 .1h0m-11.1 1.4h0m22.5 .6h0m-.9 .4h0m-40.4 1.8h0m9.5-.7h0m17 .6h0m-22.8 1.2h0m2.2-.9h0m-.6 1.8h0m6.3-.5h0m6.5-.2h0m3.4 .4h0m17.7-.6h0m-31.3 1.8h0m7.8 .5h0m.7 .1h0m.9 .2h0m4.9 0h0m4.4 .6h0m-7.4 2.6h0m20.4 .3h0m-16.6 5h0"/><path id="c1m3" d="M57.1 7.2h0m-9.9 .3h0m2 .5h0m7.2 1.2h0m-14 .5h0m1.8 .5h0m1.2 .1h0m3.3-.7h0m10.8 .3h0m-10.2 3.4h0m.4 .1h0m13.6-.2h0m2-.5h0m-12.4 1.7h0m2.6-.4h0m7.9-.4h0m.2 .7h0m1.2-.8h0m1.7 .5h0m-26.6 1.2h0m9.1-.3h0m9.2-.1h0m3.9-.2h0m6.9 .1h0m5 .6h0m-38.1 1h0m13.8-.4h0m7.9-.3h0m17.2 .2h0m-28.6 1h0m3.3 0h0m14.3 .6h0m.5-.6h0m-33.4 1.4h0m13-.7h0m12.4 1h0m1.6-.4h0m13.2 .2h0m-19.4 1h0m3.8-.4h0m.7 .1h0m7.8-.2h0m12.1 .3h0m5.7 .4h0m-50.4 .9h0m3.8-.2h0m13.7-.4h0m1.1 .7h0m14.6-.1h0m5 0h0m-32.2 .5h0m6.1 .2h0m12.6 .3h0m16.8-.5h0m3.6 .6h0m-37.3 .2h0m4.2 .4h0m6.5 0h0m15.8 .1h0m5.7-.3h0m1.9-.1h0m4 .2h0m8.1 .4h0m-40.1 .1h0m4.7 .1h0m.3 .4h0m3.9 0h0m10.9 .2h0m-23.3 .6h0m26.8 .4h0m1.4-.7h0m.1 .6h0m6 .2h0m-34.4 .8h0m2.2-.3h0m28.1 .1h0m-29 1.3h0m10.4 .2h0m1.7-.8h0m12.9 .4h0m5.2-.1h0m6 .1h0m-46.8 1.1h0m31.8-.1h0m2.2-.2h0m10.6 .6h0m-42.7 1h0m17 .1h0m26.6-.7h0m-14 .9h0m15 .2h0m-39.2 .8h0m14.7 .5h0m9.5-.4h0m.7-.3h0m-34.5 1.5h0m5.1-.5h0m5.5 .3h0m5.1 .2h0m6.3-.3h0m10.2 .2h0m10.6 .3h0m-38 .8h0m4.7 .3h0m16.7-.7h0m1.5 .6h0m14.4-.6h0m-34.5 1.8h0m4.9-.6h0m11.3 .2h0m1.2 .3h0m7.4-.6h0m-0 .5h0m2.6-.4h0m8 0h0m7.6 .3h0m-47.4 .5h0m1.8 0h0m11.8 .1h0m.9 .4h0m4.4-.1h0m23.3 .5h0m-42.8 .2h0m10.7 .2h0m6.6 .3h0m6.4 .3h0m2.7-.7h0m3.5 .5h0m8.2 .1h0m3.8-.6h0m4.4 .3h0m-40.7 .6h0m15.9-.1h0m1.4 .7h0m12.4 0h0m6.2-.8h0m5.8 .6h0m-51.3 .5h0m1.6 .4h0m1.2 0h0m1.8 .8h0m14.8-.3h0m10.6 .9h0m3 .1h0m7.1-.1h0m-35.8 .3h0m2.6 .5h0m5.7-.5h0m8.6-.2h0m8.1 .2h0m9.8 .6h0m4.7-.1h0m-43.2 1.2h0m37.4-.1h0m-32.2 1.1h0m16.3-.6h0m1.7 0h0m26-.2h0m.4 0h0m-57.9 1.3h0m18 .6h0m.1-.2h0m1.5-.7h0m5.4 .1h0m-12.6 1.4h0m38.2-.5h0m-53.4 1.7h0m35.7 .1h0m22.2-.3h0m-58.6 1.1h0m4.3-.1h0m5.2-.1h0m10.4 0h0m9.4 .5h0m6-.2h0m-22.4 .3h0m17.5 .1h0m-16.4 1.7h0m8.1-.9h0m11 .3h0m22.1 0h0m-43.8 1.2h0m2.2 .2h0m.1-.5h0m8.3 .4h0m2.7-.6h0m27 .2h0m5.7-.1h0m-39.7 1.9h0m20.9 .4h0m-33.4 .7h0m1.5 .2h0m5.7 0h0m25.1 .3h0m.8-.1h0m-16.9 .8h0m9.7 .6h0m1 .1h0m2.5-.2h0m-17.9 .3h0m1.8 .2h0m11.9 .6h0m5.6-.3h0m2.7 .3h0m-29.6 .5h0m11.7 .3h0m.4-.6h0m.2 .3h0m4.4-.2h0m3-.1h0m-18.7 1.9h0m4.5-.5h0m1.4 .2h0m10.1-.6h0m.6 .4h0m4.2 .3h0m26.4 0h0m-44.6 .4h0m9.8 .1h0m2.1 .7h0m1.6-.9h0m10.3 .3h0m.5 .5h0m-28 .6h0m10.1 .4h0m34.6-.8h0m-46 1.5h0m2.4-.5h0m19.3 0h0m10.4 .5h0m18.7-.3h0m-45.8 1.4h0m21.3-.7h0m-21.9 1.5h0m1.6-.2h0m9.3 .5h0m4.1-.7h0m.7-.1h0m6.2 0h0m11.6 .6h0m8.6-.6h0m-41.6 1h0m8.5 .1h0m2.5-.1h0m4.8 .8h0m24.5-.3h0m-29.4 1.3h0m7.3 .1h0m-2.3 .6h0m-5.4 1.2h0m4-.4h0m18.7 .4h0m3-.5h0m-22.3 1.3h0m8.9 .4h0m3.5-.4h0m8.1 .2h0m-25.2 .4h0m7.3 .9h0m9.6 1h0m-12.7 .5h0m18.3 .4h0m2.9-.7h0m-6.8 1.9h0m-12.4 2.5h0m-1.1 .9h0m8.3-.2h0m.6 1.6h0m3.1-.1h0m.9-.1h0m-3.2 .6h0m-2.3 3.3h0"/><path id="c1m4" d="M53.8 6.1h0m-3 1.2h0m1.1 1.8h0m-5.3 .5h0m7.5 .5h0m-9.4 .5h0m2.2 .5h0m11.2 0h0m-11 1.4h0m3.4-.9h0m4.8 .3h0m-4.1 1.3h0m12.2-0h0m-13 1.2h0m1.2-.6h0m-9.5 1.5h0m1.1 .6h0m.6 .1h0m6.8-.1h0m-9.4 1h0m2.8 .4h0m7.1-.6h0m12.9 .3h0m2 0h0m9.2-.4h0m-39 1.7h0m4.8-.1h0m2.8 0h0m11.2 .2h0m15.1-.6h0m8.4 .3h0m-39.9 1.1h0m8.2-.3h0m10.7 .6h0m4.4-.8h0m9.1-.1h0m-34.7 1.6h0m5.8-.3h0m19.1 .2h0m6.8 .2h0m5.9 .2h0m5-.1h0m-27.7 .5h0m3.5 .6h0m10.5-1h0m6.7 .3h0m6.2 .6h0m-41.9 .8h0m3-.5h0m17.4 .4h0m8.8 .1h0m8.3-.4h0m3.1 .4h0m1.4-.4h0m-35.8 1.4h0m8.1 .1h0m6.4-.5h0m-1.1 1.1h0m.4 .1h0m2.5-.2h0m.2-.2h0m4 .8h0m4.8-0h0m-24.9 .3h0m3.1 .1h0m7.1 .5h0m17.5-.6h0m3.8-0h0m-22.2 .9h0m-8.3 1.1h0m7.9 .5h0m.3-.4h0m1.8-0h0m11.5 .6h0m2.2-.8h0m.9 .9h0m1.5-.7h0m.2 .1h0m6.9 .4h0m3.2-0h0m2.8-.3h0m-48.2 .7h0m7.8 .4h0m13.9-.3h0m11.8-.3h0m1.2 .4h0m7.2 .2h0m-34.1 .6h0m.1 0h0m1.6 .8h0m.6-.6h0m.8-.2h0m.3-.1h0m33.2 0h0m-46.6 1h0m25.8 0h0m.5 .9h0m19-.6h0m-13.2 1.1h0m7.8-.3h0m.3 .2h0m10.5 .1h0m-47.4 1.2h0m20.1-.3h0m11.8 0h0m4.5 .4h0m3.7-.4h0m-33 .7h0m5.7 .3h0m14.1 0h0m18.7 .5h0m-47.4 .2h0m.8 .1h0m11.9 .3h0m12.7-.2h0m3.2-.3h0m15 .2h0m6.6 .2h0m-52 .9h0m8.9 .1h0m6.2 .2h0m24.3 .1h0m1.1-.3h0m6.3 .5h0m-37.5 .9h0m4.2-.7h0m15.9-0h0m11.7 .8h0m-39.6 1h0m14.7-.6h0m.9-0h0m.8 .3h0m2.7-.3h0m3.4-0h0m2 .1h0m16.8-.1h0m-36.5 1.2h0m6.2-.1h0m3.6 .1h0m11.8 .4h0m-26.1 .9h0m-8.5 .7h0m17.4-.4h0m2.6 .8h0m13.9-.6h0m-21.4 1.5h0m10.6-.3h0m27.4 1.1h0m-57 1.2h0m13.2-0h0m2.2-.1h0m28.9-0h0m-47.1 1.1h0m21.2-.8h0m5.3 .3h0m4.6-.1h0m3.6-0h0m16.2 .7h0m-39.7 1h0m6.7-.8h0m11.6 .8h0m7.9-0h0m12.7-.1h0m-31.6 .4h0m-10.3 1.5h0m4.2-0h0m3.4-.1h0m3.7-0h0m3.1 .4h0m6.7-.1h0m-14.8 .7h0m-0-.1h0m19.4 .3h0m25.2-.5h0m-20.4 .9h0m10.2 .6h0m11-.6h0m-58 .8h0m10 .5h0m13.6-.1h0m13.3-.4h0m7.3 .5h0m-35.2 1.4h0m9.5-.2h0m2.4-.7h0m-12.2 1.3h0m12.4 .4h0m5.1-.1h0m5.8 .3h0m5.5 0h0m17.1-.6h0m-47.7 1.4h0m2.6-.5h0m13.4 .6h0m13 .1h0m-27.5 .8h0m3.8-.3h0m.7 0h0m10.5-.1h0m6.1 .6h0m20.1-.8h0m8.1 .2h0m-42.7 .9h0m1.3 .8h0m5.5-.4h0m6.9 0h0m19.1-.5h0m-39.6 1h0m.6 .3h0m13.8 .2h0m3.8-.6h0m6.3 .3h0m-24.1 1.1h0m11.8 .4h0m.3-.7h0m7.2 .6h0m5.4-.3h0m10.8 .2h0m-11.4 1.2h0m-9.6 .8h0m5.6 .2h0m.7-.2h0m1.8 0h0m.4-.5h0m.5 .3h0m4.8-.2h0m7.6 .2h0m-38.2 .7h0m11.8 .7h0m3.3 0h0m7-.3h0m.7 .1h0m-22.3 .6h0m11.3 .3h0m2.4 .1h0m4.4 .3h0m1.1-.1h0m1.5 .7h0m2.6 .1h0m-16.9 1.2h0m18.7-.4h0m6.4-.1h0m-17.1 1.3h0m7.2-.3h0m5 .4h0m15.9-.2h0m-26.6 .6h0m9.2 0h0m23.9 .4h0m-32.8 1.2h0m5.1-.3h0m.8 .5h0m16.5-.7h0m-5.8 1.5h0m-19 .9h0m7.7 .1h0m15.8 0h0m-15.4 .4h0m19.9 .2h0m4.1-.2h0m-15.2 1.4h0m-11.5 1.5h0m12.6 .2h0m-6.3 2.4h0m-4.9 3.2h0m3.5 .3h0"/><path id="c1m5" d="M47.6 7.6h0m5.7 .1h0m3.1 1.1h0m-11.6 1h0m3.2 .2h0m.3 .6h0m11.4 .5h0m-18.2 .7h0m19.1 .4h0m-18.1 1.1h0m11.7-.3h0m13 .2h0m-28.5 1.1h0m18.3-.1h0m2.3-.5h0m0 .7h0m-16.4 .6h0m.1-.2h0m6.5 .6h0m-7.3 .2h0m25.4 .3h0m7.5 .6h0m-35.1 .7h0m25.7 0h0m1.9 .2h0m6.7-.2h0m-34.3 .9h0m.7-.4h0m16.9 .4h0m16.5-.4h0m-34.5 1.1h0m20.8 .5h0m1.6-.5h0m10.4 .4h0m6.1-.3h0m-10.4 1.3h0m6.9-.5h0m.3 .4h0m-27.8 1.3h0m7.4-.1h0m-20.2 .8h0m10.7-.3h0m6.7 .5h0m8.5-.3h0m20.9 .3h0m-43.3 .9h0m11.8-.6h0m12.9 .9h0m1.7-.3h0m3.4 0h0m7.2-.5h0m1.9 .7h0m-29 1.1h0m.7-.1h0m9.2-.3h0m8.7 .2h0m2.2-.5h0m5.1 .4h0m3.6 .2h0m5.7-.1h0m-22 .8h0m.9-.2h0m9.2-.2h0m3.9-.2h0m4.5 .9h0m-19.2 .2h0m2.8 .7h0m4.6-.4h0m.6 .3h0m-21.6 1h0m14.6 .1h0m5.3-.3h0m1.1 .5h0m-31 .4h0m18.7 0h0m3.7 .4h0m13.7-.3h0m5.4 .2h0m-31.4 1.2h0m7.9-.7h0m12.4 .6h0m2 .1h0m6.4-.2h0m7.6 .1h0m-26.9 .9h0m1.6-.1h0m6.2-.5h0m.7 .2h0m4.7 .5h0m13.4-.1h0m-51.7 .4h0m.8 1.2h0m1.4 .2h0m6.1 .4h0m3.2-.7h0m26.9 .6h0m5-.7h0m2.5-.1h0m3.9 .4h0m-44.4 1.6h0m31.4-.1h0m4.3-.2h0m1.8-.6h0m2.3 .4h0m-27.7 1.1h0m17 .1h0m7.3 .2h0m7.2-.2h0m-43.5 .7h0m.8 .2h0m17.9-.5h0m5.1 .3h0m12 .5h0m4.6-.4h0m4.8-.1h0m.1 0h0m-22.3 1h0m12 .1h0m-32 1h0m2.6-.1h0m3.4 .2h0m16.8-.4h0m4.4 0h0m4 .1h0m-25.6 .9h0m4.4 .4h0m3.9 .1h0m24.7 .2h0m-47.3 .3h0m29.4 .1h0m.1 .6h0m5.6-.6h0m11 .1h0m-39.6 .9h0m6.1 .7h0m-15.6 1h0m1-.8h0m8.5 .5h0m7.6 .1h0m3.5-.1h0m-10.3 .8h0m-4.7 .5h0m3.7 .9h0m-14.6 .4h0m16.3 .1h0m3.5 0h0m2.1-.3h0m.6 .9h0m1.5-.4h0m1.2-.5h0m-20.7 1.5h0m20.9 .1h0m.6 0h0m.9 .1h0m1.7-.4h0m.7 .4h0m4.2 .2h0m-16.9 .7h0m-20.9 1.1h0m44.6 .1h0m10.4-.7h0m-48.2 1.5h0m2.1-.7h0m2.3 .5h0m4.3-.2h0m.4-.2h0m18.6 .1h0m7 .5h0m-19.3 .4h0m-16.5 1.3h0m11.7-.4h0m-7.4 1.4h0m8 .4h0m5.7-.4h0m.6 .2h0m4.1-.6h0m1.6 .1h0m5.1 .2h0m3.4 .1h0m11.8-.1h0m-37.9 .8h0m7.4 .1h0m35.4 .6h0m2.1-.6h0m-48.6 1.1h0m8.5 .1h0m15.1 .5h0m3.2-.6h0m-29.9 1.3h0m2.5 0h0m7.8 0h0m1.8 .1h0m.5 .1h0m8.1-.7h0m-21.7 1.8h0m8-.2h0m16.8-.4h0m1.6-.1h0m1.9-.2h0m3.4 0h0m14.2 .7h0m-38.8 1h0m21.1-.1h0m22.6-.3h0m-44.8 .8h0m.4 .3h0m7.9 .6h0m1.3-.3h0m19.2-.7h0m14.6 1.2h0m-38 1.1h0m4.5 .4h0m6.9-.2h0m8.4-.3h0m7.2 .6h0m-20.9 .9h0m8.2-.5h0m1.7-.1h0m11.4 .2h0m14.1 .5h0m-48.7 .7h0m2.7 .4h0m6.8 0h0m17-.2h0m-16.1 .5h0m7.6 .2h0m.5-.2h0m3.1 .6h0m-12.9 .8h0m8.4-.4h0m25.9 .2h0m-24.2 1.5h0m16-.3h0m1.2-.3h0m6 .5h0m-25.4 1.1h0m-6.1 .8h0m3.6-.5h0m7.4 .7h0m.8 .1h0m8.5-.7h0m-19.9 1.4h0m2.1 .3h0m12.9-.8h0m6.4 .4h0m-17.2 1.1h0m.5 .5h0m3.7 .4h0m7.9 .8h0m-8.5 .7h0m5.4 2.1h0m8 .2h0m.4 5h0"/><path id="c1m6" d="M49.1 7h0m-4.3 1.7h0m6.9 .9h0m.1 .4h0m5.3 1h0m1.7-.3h0m4.9 .1h0m-22.3 1.3h0m3.7-.3h0m-4.9 1.7h0m10.3-.3h0m1-.4h0m10.6 .4h0m-28.3 .8h0m7.4 .1h0m4.9 0h0m6.2 .4h0m-10.9 .1h0m.3 .5h0m4.6-.2h0m3.1 .3h0m14.3-.2h0m7.7-.2h0m-24.2 1.7h0m1.9-.3h0m12.3 .1h0m1-.6h0m2.6 .5h0m-6.5 1.3h0m-13.1 .8h0m2-.5h0m11.9 .5h0m4.8-.3h0m10.6-.1h0m-26.9 1.4h0m-0-.1h0m12.2 .3h0m10.7-.2h0m-30.7 1.2h0m.2-.7h0m4.6 .3h0m2.6-.3h0m16.1 .7h0m4.6-.2h0m-28.7 .4h0m1.4 0h0m13.4 .2h0m3.7 0h0m19 .3h0m-32.3 1h0m2.4 0h0m16.8-.5h0m2.5-.1h0m.7 .4h0m2.6-.2h0m11.1-.2h0m-35.7 1.9h0m.9-.5h0m.2-.1h0m4.8-.2h0m.8 .7h0m18.7 0h0m4.2-.3h0m-30 .6h0m11.5 0h0m2.7 .8h0m-13 .5h0m30.8-.3h0m.5 .4h0m2.8-.4h0m3.3 .1h0m-39.1 1.2h0m17.3-.3h0m.8 .1h0m10.7 .6h0m-30.9 1h0m7.6-.5h0m3.5 .5h0m13.9-.8h0m7.1 .3h0m-30 1h0m2 0h0m5.2 .4h0m5.2-.6h0m.5 .2h0m1 .1h0m9.1 .2h0m8.8-.4h0m4.1 .1h0m2-.3h0m-45.6 1.3h0m9-.4h0m26.2 .7h0m1.9-.5h0m3.4 .3h0m-33.6 .6h0m6.3 .8h0m-4.8 .6h0m-11.4 1.1h0m12.6 .3h0m.7-.2h0m15-.4h0m3.1-.3h0m11.5 .5h0m.9 .4h0m1.4-.6h0m-40.3 1.2h0m13.2-.5h0m2.6 1h0m16.3-.3h0m1.2-.1h0m6.6 .4h0m-34.9 1.7h0m2.4-.7h0m5.7 .9h0m28.4 .1h0m1.5-.6h0m2.8-.2h0m-52.1 1.4h0m2.4 .2h0m.5-.4h0m2.9 .3h0m10.5 .2h0m6.7-.2h0m20.5-.6h0m-34 2.7h0m3.7 .2h0m3.6-.8h0m10.7 .7h0m-30.7 .9h0m4.1-.7h0m5.2 .8h0m.3-.5h0m32.1 .1h0m-34.1 1h0m.1-.3h0m13 .4h0m5.5 .3h0m-24 1.1h0m14.2-1h0m3.9 .9h0m-16 .8h0m.1 .2h0m29.1-.1h0m-40.8 1.1h0m5.1-.4h0m10.8 .3h0m1.8-.1h0m24.9-.3h0m-30.5 1.4h0m6.4-.6h0m6.1 .8h0m2.2-.3h0m-33.6 1h0m1.8-.2h0m17.9 .9h0m0 0h0m3.2 .3h0m11 .1h0m21.1-.7h0m4.7 .3h0m4-.1h0m-51.9 1.1h0m7.2 0h0m5.8-.3h0m19.5 .2h0m19.2-.1h0m-59.7 1.1h0m9.6 .1h0m3.5 .4h0m24-.5h0m-34.6 .9h0m7.2 0h0m12.8 .6h0m2.2-.2h0m11.5 .3h0m-24.7 .1h0m-5.2 1.4h0m5.8 .5h0m3.1-.7h0m4.7 .7h0m2.1-.8h0m17 .8h0m1.1-.3h0m4.5 .2h0m-35.4 .3h0m14 .5h0m.3-.5h0m-18.4 1.2h0m9.7 0h0m17.2-.3h0m4.5 .3h0m1-.2h0m15.7 .2h0m-38.3 1.7h0m17.1-.9h0m-0 .1h0m1.8 .5h0m20.3-.3h0m-35.4 1.4h0m3.1 0h0m2.2 .1h0m4.6-.2h0m5.9 .2h0m4.9-.7h0m-31.3 1.3h0m3.9 .3h0m5.6-.6h0m12.9 .3h0m10.1 .4h0m-36.1 .3h0m1.1 .3h0m1.8-.3h0m.9-.2h0m8.3 .2h0m12.6 .2h0m7.9-.3h0m10.3 0h0m7.3 .8h0m.8-.3h0m-47.4 1h0m1.3-.1h0m6 0h0m9.2 .4h0m4.6 0h0m6 0h0m-27.4 .4h0m13.4 .2h0m-8.1 1.1h0m2.4 .1h0m33.4-.2h0m-25.3 1.3h0m2.6-.6h0m21.3 .7h0m-37.8 1.1h0m3.9-.7h0m1.6 .2h0m2.2-.4h0m5.8 .6h0m.7-.2h0m1.1 .5h0m-16.6 .2h0m3.1 .3h0m11 0h0m29.8 .4h0m-45.8 1h0m3.8 .1h0m13.4-.5h0m21.8 .5h0m-22.6 .7h0m10.8-.4h0m15 .5h0m-31.5 .3h0m4.8 .3h0m1.1 .2h0m3.1-.2h0m4 .9h0m17.6-.2h0m-26.7 1.4h0m3.7-.1h0m9 .1h0m8.8-.1h0m3.4 .2h0m-36 .8h0m19.7 .5h0m7-.1h0m-6.3 1h0m.9 1.7h0m-3.3 1.4h0m5.3 1h0m.6 1.9h0m1.7 .6h0"/><path id="c1m7" d="M53.1 5.9h0m3.9 .9h0m-10.8 3h0m9.8 0h0m-3.9 .7h0m16.9 1.9h0m-21.7 .6h0m14.6-.4h0m.4 .8h0m6.5-.7h0m-13.2 1.3h0m9.9-.3h0m-26.4 2.1h0m20.7 .5h0m4.8-.8h0m10 1h0m-21.5 0h0m.6 .4h0m8.8 .2h0m2.1 .2h0m2.6-.1h0m2-.6h0m4.8 .7h0m2.6 .1h0m-38.8 1.1h0m13.7 .9h0m15.9-.3h0m.2-.5h0m5 .7h0m-32.8 .7h0m21.7-.3h0m3.2 .1h0m3.5 .2h0m-4.4 1.3h0m-27 .3h0m1.6 .3h0m2.9 .1h0m8.5 .5h0m15.1-.5h0m3.6 .5h0m-29.5 .8h0m5.1-.1h0m7.4-.1h0m23.5-.4h0m-42.9 1.2h0m12.1 .4h0m12.5-.1h0m12.1-.1h0m2.5-.2h0m7.1 0h0m-39.2 1.2h0m1.3 .2h0m19-.3h0m1.4 .3h0m-27 1h0m1.1-.6h0m8.8-.1h0m21.9 .9h0m.1-.8h0m2.2 .3h0m-22.9 1.4h0m11.4-.6h0m3 .1h0m1.9 .6h0m10.1-1h0m-34.8 1.5h0m3.9 .2h0m2.6 .1h0m12.4-.5h0m4.3 0h0m1.7 .1h0m1.1-.3h0m3.6 .6h0m13-.2h0m4.3 .2h0m-34.3 .7h0m18.9-.2h0m2.2-.1h0m2.8 .8h0m3.3-.9h0m1.9 .8h0m2-.6h0m1.3 .3h0m-48.5 .9h0m8.5-.3h0m6.9 .7h0m30.2-.6h0m2.1 .7h0m2.6 0h0m-48.6 1.1h0m4-.3h0m7.3-.3h0m18.1 .5h0m1.1 .1h0m6.2 0h0m7.9-.5h0m-43.4 1.5h0m3.6-.9h0m4.4 .9h0m12.1-.1h0m1.1-.8h0m5.6 .6h0m5.1-.6h0m9.6 0h0m-33.2 1.4h0m12.6-.3h0m2.2 .8h0m3.9-.6h0m-27 .7h0m9.4 .4h0m6.4-.3h0m8.5 .6h0m2.7-.7h0m12 .1h0m4.8 0h0m3.2 .6h0m-39.2 .7h0m19.8-.4h0m13.3 .6h0m-33 .6h0m3.1 .6h0m3.2-.2h0m4.3-.6h0m2.2 .3h0m8.6-.2h0m-33.7 .9h0m1.6 .3h0m13.4 .2h0m-14.2 1h0m5.2 0h0m11-.5h0m2 .1h0m2.1 .7h0m4.9 .1h0m6.4-.5h0m17.3-.1h0m-48.8 1.2h0m.4 .2h0m24.5 0h0m-30.3 1h0m4.9-.3h0m3.4 .4h0m7.5-.6h0m39.6 .5h0m-41.3 .4h0m1.7 .3h0m4.6-.3h0m8.2 0h0m10 .5h0m-28.5 .8h0m9.7 .3h0m4.8-.1h0m1.7-.5h0m.4 .4h0m20.8 .4h0m-45.5 .7h0m2.5-.1h0m12.1-.1h0m7.5-.5h0m-21.9 1.1h0m2.8 .7h0m10-.4h0m3.4 0h0m1.3 .4h0m0 .2h0m6.8-.5h0m22.5 .3h0m3.5-.4h0m-60.4 .8h0m30.7 .2h0m-19.9 .9h0m15.3 .2h0m2.9-.1h0m15.7-.1h0m6.3 0h0m-38.7 1.5h0m15-.3h0m-18 .7h0m10.1 .4h0m5.7 .4h0m12.1-.3h0m13.7-.1h0m-44.8 1.2h0m8.3-.5h0m11.5 .4h0m1 .8h0m.3 0h0m1.4-.5h0m3.3 .7h0m20.9-.1h0m-38.5 .9h0m.9 .2h0m4.6-.2h0m8.3-.4h0m8 .9h0m5.6-.7h0m-23.3 1.5h0m2.5-.1h0m-13.1 1h0m4.6-.4h0m3.9-.3h0m25.9 .3h0m-24.2 1.4h0m35.2-.4h0m-44 .7h0m12.7 .5h0m-12.9 1.2h0m5.1-.2h0m2.3-.3h0m18.3 .1h0m23.4 .1h0m-43.6 .8h0m4 .3h0m.6-.3h0m1.4-.2h0m4.4 .9h0m24.5-.5h0m-26.3 .7h0m11.1 0h0m.2 .4h0m-4.7 .9h0m-23.4 1.6h0m4.1-.4h0m22.1-.4h0m2.4 .7h0m1.5-.7h0m-23 1.2h0m4.9 .5h0m7.5-.2h0m-8.1 .6h0m2.6 .6h0m13.8-.2h0m-15.8 .8h0m2.7 .4h0m2.1-.7h0m.2 0h0m1.7-.1h0m1 1.1h0m6.1 .2h0m8.2 .2h0m7.3 .3h0m-23.7 1.1h0m3.2-.2h0m28.3-.1h0m-39 .9h0m.7-.1h0m16.9 .2h0m3.4 .3h0m-21.1 .1h0m.2 .9h0m.6-.8h0m1.4 1.1h0m29.3 .4h0m-18.5 .6h0m-2.8 2.6h0m12.6 0h0m-23.7 .1h0m19.1 1.2h0m-.1 5.6h0m-2.5 .3h0"/><path id="c1m8" d="M49 8.5h0m-.5 1.2h0m3.4 .3h0m2.8-.3h0m7.5 .4h0m-10.2 .9h0m1.1 .1h0m-5.9 1.3h0m2.2-.6h0m20 .1h0m-27.7 1.4h0m.6-.5h0m17.8 .6h0m.5-.2h0m5.1-.2h0m1.3 .3h0m-11 .7h0m10.5 .3h0m2.8-0h0m-29.6 .3h0m3.9 .8h0m1.9-0h0m14.8-.5h0m9.2-0h0m1 .2h0m-31.4 1.4h0m16.9-.6h0m7.1 .5h0m4.7-.5h0m2.1-.4h0m.7 .2h0m2.4 .5h0m-26.5 .8h0m.4 .3h0m.7-.6h0m1.6 .8h0m12 .6h0m11-.3h0m-33.3 .8h0m5.4 .2h0m-3.4 1.6h0m19-0h0m11.6-.4h0m1.5 .5h0m-20.6 .8h0m15.2 .1h0m1.9-.7h0m1.1 .7h0m2.5-.1h0m-24.8 .4h0m3.5-0h0m20.5 .2h0m.8 .3h0m.8 .1h0m-24.8 .3h0m7.6 .1h0m18.7 .3h0m-23.5 .7h0m14.4 .5h0m2.1-.2h0m-28.1 .8h0m7-.1h0m4.5 .7h0m22.4-.7h0m6.7 .4h0m-43.2 .4h0m7.8 .6h0m32.9 .2h0m-41.4 .9h0m11.5-.3h0m.9-.3h0m5.9 .1h0m2.9 .3h0m16.9-.2h0m.8 .5h0m.4-.3h0m2.8-.5h0m-41.8 1.5h0m34.2 .4h0m2.8-.3h0m.6 .3h0m2.4-0h0m.4-.2h0m1-.2h0m2.8-.2h0m-5.7 1.1h0m3.8-.2h0m-47.6 1.8h0m26.8-0h0m12.8-.7h0m4.3 .6h0m-34.1 .1h0m11.7 .2h0m30.7-0h0m-48.6 1.5h0m.4-.2h0m17.7-.1h0m9.8 .2h0m8.5 .3h0m2.2-.4h0m-29.1 .9h0m4.3-.3h0m.4 .1h0m32.5 .5h0m-44.7 .9h0m7.3 .2h0m10.3-.5h0m2.4 .1h0m8.5 .4h0m11.7-.6h0m-43.7 1h0m3.1 .4h0m1.3 .2h0m8.2-.2h0m4-.4h0m20.9 .4h0m12.8-.5h0m-52.9 1.4h0m7.3 .5h0m5.6-.6h0m12 .4h0m16.8-.5h0m7.4 .6h0m-41.3 .3h0m20.2-.1h0m4 .7h0m12.1-.5h0m-25 .9h0m14.9 .1h0m12.2-0h0m1.4 .7h0m-44 .8h0m.1-.8h0m3 .6h0m.3-.6h0m5.7 .8h0m15.5-.7h0m17.6 .4h0m-42.9 1.3h0m16.1-.1h0m9.2-.6h0m-31.1 1.1h0m6.2 0h0m12.7-.1h0m-17.7 1.9h0m2.1-.7h0m.9 .2h0m20.8-.5h0m2.7 .5h0m1.3-.3h0m-21.1 1.4h0m-20.3 .5h0m3.5 .5h0m26.1 0h0m27.6-.2h0m-50.9 1.3h0m29.6-.5h0m16.1 .4h0m7.6-.4h0m3.6 0h0m-57.3 1.7h0m3.8-.4h0m13.6 0h0m10.4 0h0m11.3 .2h0m12.9 .3h0m-43.4 1h0m3-.5h0m1.7 .2h0m2.9-.2h0m1.9 .1h0m2.1 .3h0m15.7-.6h0m-31.9 1.4h0m9.3-.7h0m1 .1h0m.6-.1h0m4.6 0h0m.7 .9h0m5.6-.1h0m10.9-.7h0m-3.8 1.6h0m1.7-.3h0m-38.2 1.4h0m6.5-.2h0m7.8-.6h0m7.7 .1h0m15.7 .1h0m-25.5 1.4h0m-1.6 1h0m8.2 .2h0m6.7-.4h0m2.4 .5h0m9.5 0h0m-14.1 .8h0m5.2 .1h0m-1.3 .4h0m2.2 .1h0m2-.2h0m25 .1h0m-24.1 1.6h0m-23.2 1.1h0m-1.7 .6h0m-0-.3h0m16.7 .6h0m.4-.4h0m10.9-.3h0m-2.3 1.1h0m7 .7h0m2.9-.1h0m7.1-.2h0m-32.7 .9h0m-0 .1h0m3.8 .1h0m10 0h0m3.4-.5h0m.1 .2h0m-31.6 1.4h0m14.6-.4h0m10.3 .4h0m8.8-.2h0m16.1-.3h0m2.8 .7h0m-45.9 1h0m20.8-.4h0m4-.6h0m-23.9 1.9h0m9.9-0h0m5.4-.2h0m2.9 0h0m7.2-.7h0m16.4 .7h0m-34.9 1h0m.8 .2h0m2.8-.6h0m14.8 .2h0m9.6 .4h0m-12.3 1h0m-19.4 .5h0m2.3 .3h0m6.2-.5h0m5.4 .5h0m16.8-.3h0m3.3 0h0m-29.1 .8h0m9.7 .6h0m8-.2h0m-10.9 1.1h0m2.5-.4h0m1.8 .2h0m1.1 .3h0m.6-.4h0m5.1-.2h0m-17.4 1.3h0m5-.4h0m21.1 .8h0m-22.2 1.3h0m7.1 2.7h0m1 8.7h0"/><path id="c1m9" d="M52.1 7.4h0m-3 .5h0m-4.1 .9h0m-1.2 1.2h0m12.1 .2h0m-13.6 .6h0m20.2 .5h0m-9 1h0m4.3-.8h0m7.9 .9h0m-7.8 .4h0m2.2 0h0m9-.2h0m-16.1 1.6h0m-10.8 1.2h0m3.1-.9h0m2.2 .1h0m12.8 .7h0m1.4-.6h0m-21.2 1.3h0m10.8 .1h0m11.4 0h0m7.6 0h0m-31.8 1.2h0m10.7 .1h0m.2-.2h0m5.1-.5h0m2.6 .6h0m3.4-.1h0m.6-.7h0m-2.7 1.1h0m5.6 .3h0m5.5-.2h0m1.3 .5h0m-16.9 1.2h0m12.6-0h0m-27 .8h0m21.7-.6h0m.8 .4h0m3.6 .2h0m-17.9 .3h0m9.7 .9h0m7.5-.3h0m-20.3 .5h0m4.6 .1h0m1.9 0h0m15.1 .7h0m9.1 0h0m1.8-.3h0m-12 .8h0m7.5 .4h0m-36.8 .7h0m9.7-.4h0m5.7 .1h0m.8 .2h0m10.8-.1h0m13.5 .6h0m.5-.4h0m1-.2h0m-23.9 .7h0m3.3 1h0m15.7-.4h0m4.8 .1h0m-33.2 .4h0m1.8 .5h0m9.4-.2h0m15-0h0m-35.9 .6h0m33.9 .8h0m-21.4 .6h0m14.3-.1h0m7.2 .2h0m6.3-.5h0m6.7 .8h0m-45.3 .4h0m19.2 .2h0m23.5-.2h0m1.4 .2h0m4-.3h0m-47.7 1.3h0m5.5 .3h0m12.9 .1h0m1-0h0m26.3-.7h0m-47.4 1h0m2.7 .5h0m11 .1h0m13-0h0m4.3-0h0m6.2 .2h0m3.9-.1h0m-44.1 .8h0m1.8 .2h0m1.6-.4h0m7.3-0h0m1.3 .3h0m1.6-.2h0m29.2 .4h0m-40.4 .9h0m.4-.8h0m24.2 .5h0m10.4-.2h0m12.4 .1h0m-22 1.2h0m14.5-.1h0m-43.6 .8h0m2.2 .5h0m6.9-.5h0m3.6-.3h0m5 .2h0m5 .6h0m15.4-.2h0m-39.6 .8h0m4.1 .2h0m1.3 .1h0m23.7-.2h0m-0 .4h0m4 .1h0m8.2-.2h0m-42.3 .2h0m23.4 .3h0m14.3 0h0m-27.9 1h0m5.8-.2h0m22.9 .6h0m8-.4h0m6.4 .7h0m-42.5 .4h0m12.2 0h0m2-.3h0m-15.6 1h0m26.2 .9h0m-29.3 .9h0m9.4-.3h0m4.1-.3h0m1.6-.1h0m-30.7 1.5h0m13.3-.6h0m17.7 .1h0m19.1 .6h0m-31.1 .2h0m.8-0h0m7.9 .1h0m-18.1 1.4h0m10.7 .2h0m1.9-.1h0m15.6-0h0m-42.5 1.4h0m14.2-.3h0m9-.5h0m36.4 1.4h0m-45.5 1.2h0m12.6 .2h0m3.7-.1h0m-28.4 .2h0m7.9-0h0m25.7 .3h0m4.4 .5h0m-9.3 .9h0m3.4 .1h0m6.8-.6h0m20.7-0h0m-51.3 1.3h0m13.7-.6h0m.6 .5h0m10.9-.5h0m1.1 .6h0m4 .2h0m1-.3h0m2.6 .3h0m2.9-.4h0m-28 1.1h0m4.5-.2h0m7.8 .5h0m26.2-0h0m-34.6 .8h0m8.4-.5h0m1.7 .7h0m3.8-.2h0m12.8-.3h0m6.8-.2h0m-42.1 1.7h0m1.2-.2h0m3.3 .3h0m7.6-.8h0m9.9 .6h0m7.6 .2h0m-34 1h0m.8-.8h0m1.4 .7h0m11.9-0h0m-17 .9h0m2.5-.5h0m17.6-0h0m4.4 .7h0m.6 .1h0m8.7-.3h0m5.6-.6h0m-30.3 1.7h0m8.6-.5h0m2-0h0m2 .1h0m8.1-.2h0m2.4 .5h0m1.6-.3h0m16.7 .3h0m-41 .8h0m3.5 .2h0m3.9-.5h0m5.1 .4h0m14-0h0m-30.2 .6h0m.4-.2h0m12.3 .1h0m3 .8h0m21.4-.9h0m9.9 .5h0m-41.1 .8h0m2.8 .5h0m14-.2h0m.9-0h0m1.7 .4h0m1.4-.9h0m-25.1 1.1h0m36.7 .4h0m-18.9 .5h0m21 .7h0m4.2-.4h0m-41.1 1.2h0m18.8 .4h0m-17.4 .3h0m1.7 .7h0m3.6-.5h0m7.6 .3h0m2.3-.3h0m17.7 .3h0m-31.1 .5h0m4.8 .4h0m4.7-.3h0m6.5 .1h0m13.5-.4h0m10.5 .5h0m-42.2 .8h0m24.6 .4h0m1.7-.4h0m14.2 .2h0m-24.3 1h0m4.8 .3h0m8.6-.2h0m-19.4 .3h0m3.8 .5h0m-3.9 1.2h0m1.9-.2h0m.3-.2h0m3.1 .2h0m4.2 .7h0m3.8-0h0m-11.7 1h0m.7 .8h0m7.5 3.2h0m2.5-0h0"/><path id="c1Y030d040" d="M26.3 29h0m.1-.3h0m.2 .4h0m1.3 .3h0m-3.4 1.5h0m.6-.3h0m1.9 .1h0m.5 .4h0m1.5-.5h0m-5 2.5h0m1.6 0h0m.4 .4h0m2 .5h0m-2.6 1.1h0m2.3-.2h0m.8 .1h0m-2.8 2.3h0m.2-.8h0m1 1h0m.1-.5h0m-.5 1h0m1.3 .4h0"/><path id="c1Y040e040" d="M27.1 31.9h0m.8 .5h0m.6 .1h0m-1.9 2.1h0m2 .8h0m-1.7 1h0m1-.2h0m1-.5h0"/><path id="c1Y080e820" d="M23.6 18.1h0m1 1.7h0m.1 .5h0m.1 .3h0m-1.3 1.5h0m-.6 .6h0m1.5 2.5h0m.7 2.6h0m1.1 .4h0m-2.6 .6h0m.5-.1h0m1.4 .5h0m-2.8 1h0m.3 .1h0m.3 .1h0m.4-.4h0m1.3-.4h0m-2.4 1.4h0m.5 .2h0m1.6 .3h0m.4-.1h0m-4 1.1h0m2.7-.1h0m1.2 1h0m-1 .2h0m.9 1.8h0m-.6 1.7h0"/><path id="c1Y0a8f000" d="M26.1 22.9h0m1 4.3h0m.1-.4h0m-2.1 1.3h0m1.2 1h0m-.9 .7h0m1.3 .5h0m1-.2h0m-2.8 .5h0m1.1 .5h0m-.4 1h0m.4 .3h0m-2.2 .8h0m3-.2h0m-.4 .6h0m-1.7 3.3h0m1.4 0h0"/><path id="c1Y0d8f000" d="M23.7 16.9h0m-1.2 .8h0m-2 1.6h0m1.9 .2h0m-.3 .3h0m.3 .3h0m.3 .2h0m-1.4 .8h0m-1.2 .8h0m-.5 1h0m2.5-.2h0m.4 2h0m.9 .2h0m-1.7 3.1h0m0 .2h0m-1.1 .8h0m.7 1.2h0"/><path id="c1Y0f0f000" d="M22.4 18.1h0m1 .6h0m-.6 1.8h0m.3-.2h0m.9-.5h0m-.2 2.4h0m1.3-.3h0m.6 .5h0m.4-.7h0m-4.1 1.4h0m1.3-.3h0m1.7 .4h0m-2 1.2h0m1.2-.3h0m0 0h0m-.1 .8h0m.4 .5h0m.7 0h0m-2.3 .1h0m.9 .4h0m-.7 .8h0m-1.7 .8h0m2.1 .3h0m1.3-.1h0m-2.6 1.2h0m.4 .9h0m.6 3.2h0"/><path id="c1Y0ff9000" d="M18.6 18.2h0m-1.9 1.1h0m-.6 1.7h0"/><path id="c1Y0ffd000" d="M24.2 15.4h0m-5.4 2.4h0m4.2-.1h0m-5 1.4h0m2 .2h0m0 1.2h0m.9-.2h0m.4-.3h0m1.2-.2h0m.1 .4h0m.3 0h0m-5.3 .5h0m0 .7h0m4-.5h0m-1.3 1.5h0m-2 .2h0m1.3 .7h0m1.9 .2h0m-3.9 .5h0m1.2-.4h0m2.4 2.1h0m.8 .3h0m.3 .5h0m-1.9 .7h0m-2.2 .5h0m1.1 .1h0"/><path id="c1Y0ffe800" d="M19.4 15.2h0m-1.8 5.3h0m.2-.7h0m.5 .5h0m.8-.2h0m-1.6 .7h0m2.1 1.1h0m.1-.1h0m-2.7 1h0m0-.1h0m1.1 .3h0m.6 .5h0m1.6 .6h0m.2 0h0m-3.8 1h0m1.8-.5h0m-1 1.2h0"/><path id="c1Y130d040" d="M24.6 19.8h0m.2 .8h0m-.4 4.6h0m.7 2.6h0m1.1 .4h0m-2.6 .6h0m.5-.1h0m1.4 .5h0m.8-.2h0m.1-.3h0m.2 .4h0m1.3 .3h0m-5.2 .8h0m.3 .1h0m.7-.3h0m1.3-.4h0m-2.4 1.4h0m.5 .2h0m1.4-.3h0m.2 .6h0m.4-.1h0m0-.8h0m1.9 .1h0m.5 .4h0m1.5-.5h0m-5.2 1.8h0m.2 .7h0m1 .3h0m.6-.3h0m.4 .4h0m-2 .1h0m4 .4h0m-3.1 1.4h0m.5-.3h0m2.3-.2h0m.8 .1h0m-4.2 2.1h0m1.4 .2h0m.2-.8h0m1 1h0m.1-.5h0m-.5 1h0m1.3 .4h0"/><path id="c1Y140e040" d="M26.1 22.9h0m1 4.3h0m.1-.4h0m-.9 2.3h0m-.9 .7h0m1.3 .5h0m1-.2h0m-2.8 .5h0m1.1 .5h0m-.4 1h0m.4 .3h0m1.1-.5h0m.8 .5h0m-1.1 .6h0m1.7-.5h0m-2.1 1.1h0m.2 1h0m2 .8h0m-1.7 1h0m1-.2h0m1-.5h0m-4.2 1.2h0m1.4 0h0"/><path id="c1Y160e030" d="M23.7 16.9h0m-1.2 .8h0m1.1 .4h0m-3.1 1.2h0m1.9 .2h0m-.3 .3h0m.3 .3h0m.3 .2h0m2 0h0m-3.4 .8h0m-1.2 .8h0m3.4 .2h0m-3.9 .8h0m2.5-.2h0m.8 0h0m-.4 2h0m.9 .2h0m-1.7 3.1h0m-0 .2h0m-1.1 .8h0m.7 1.2h0m2 .2h0m-2.2 2.1h0"/><path id="c1Y180e820" d="M22.4 18.1h0m1 .6h0m-.6 1.8h0m.3-.2h0m.9-.5h0m-.2 2.4h0m1.3-.3h0m.6 .5h0m.4-.7h0m-4.1 1.4h0m1.3-.3h0m1.7 .4h0m-2 1.2h0m1.2-.3h0m0 0h0m-.1 .8h0m.4 .5h0m.7 0h0m-2.3 .1h0m.9 .4h0m-.7 .8h0m-1.7 .8h0m2.1 .3h0m1.3-.1h0m.3 .4h0m-2.9 .8h0m.4 .9h0m.6 3.2h0m.6 .2h0"/><path id="c1Y1a0f000" d="M19.4 15.2h0m-1.8 5.3h0m.7-.2h0m.8-.2h0m-1.6 .7h0m2.1 1.1h0m.1-.1h0m-2.7 1h0m1.1 .2h0m.6 .5h0m1.6 .6h0m.2 0h0m-3.8 1h0m1.8-.5h0m-1 1.2h0"/><path id="c1Y1c0f000" d="M24.2 15.4h0m-1.2 2.3h0m-3 2.8h0m.9-.2h0m.4-.3h0m1.2-.2h0m.1 .4h0m.3 0h0m-1.3 .7h0m-1.3 1.5h0m-.7 .9h0m1.9 .2h0m-.3 2.2h0m.8 .3h0m.3 .5h0m-1.9 .7h0m-1.1 .6h0"/><path id="c1Y1f0e800" d="M17.8 19.8h0m-.8 2.9h0"/><path id="c1Y1ff6000" d="M18.6 18.2h0m-1.9 1.1h0m-.6 1.7h0"/><path id="c1Y1ffd000" d="M18.8 17.8h0m-.8 1.3h0m2 .2h0m-2.4 1.4h0m0 .7h0m.7 1.2h0m-.7 1.4h0m1.2-.4h0m-.6 4.1h0"/><path id="c2m0" d="M43.8 7.5h0m8.6 .2h0m-6.2 1.7h0m4.7 1.1h0m-3.6 .7h0m3.1 .1h0m.3-.3h0m1.6 .3h0m-11.7 .4h0m11.8 .6h0m1.6-.5h0m1.3 0h0m-12.6 1.6h0m-1.8 .6h0m3.1 .1h0m8.5 .2h0m.4-.4h0m1.4-.1h0m5 .2h0m8.5-.3h0m-23.2 1.2h0m22.2 0h0m-13.5 1.2h0m.8-.4h0m19 .4h0m-28.6 1.1h0m13-.1h0m-7.1 1.2h0m15.5-.3h0m1.4 .1h0m1.7-.3h0m4.1-.1h0m5.4-.1h0m3.7 .6h0m-18.8 .9h0m13.2 0h0m-37 1.2h0m.8-.2h0m8.6 .2h0m.4-.3h0m9.3 .2h0m.3 .2h0m.8-.8h0m1.8-.1h0m11.9 .4h0m6.2 .2h0m.4-.2h0m-17.3 1.1h0m14.8-.5h0m4.1 0h0m-36.1 1.6h0m16.1 .2h0m13 .1h0m-39.6 .7h0m.1 .2h0m19.3-.2h0m2.2-.2h0m3.9 .4h0m6.3-.3h0m.9 .1h0m6.8-.5h0m-32 1.3h0m6.1 .2h0m1.5-.2h0m2.8 .6h0m.8-.3h0m-10.8 .9h0m9.2-.4h0m1.2 0h0m.9-.1h0m-10.1 1.8h0m5.9-.9h0m5 .5h0m2.3 .1h0m2.3 .2h0m-13.2 .8h0m14.6 0h0m13.5 .2h0m7.6-.2h0m-50.9 1.2h0m2.7 .1h0m6.9-.9h0m.9 .3h0m2.9 .6h0m9-.6h0m1.6-.2h0m9 .1h0m1.1 .6h0m.8-.6h0m15.6 .5h0m.4 .1h0m1.3-.7h0m-51.3 1.7h0m9.6 .1h0m15.2 0h0m3.7 0h0m.5-.4h0m-17.7 .9h0m1.8-.2h0m32.3 .7h0m-27.3 1h0m13.1-.8h0m.7 0h0m2.4 .2h0m.9-.2h0m-34.4 1.6h0m9.1-.4h0m.7 .7h0m22.2-.9h0m2.2 .7h0m1-.1h0m3.8-.2h0m7.5-.3h0m-49.4 1.2h0m8.9 .4h0m9-.7h0m.5-.1h0m22.2 .9h0m9.9-.6h0m-49.3 1h0m9.1 .3h0m12.7 0h0m9.9-.3h0m7.8-.2h0m1.9 .4h0m-36 .9h0m26.1 .4h0m6.2-.4h0m12.4 .5h0m-62.5 .1h0m13 .5h0m4.8 .2h0m8.9-.5h0m12.7 .5h0m10.3-.2h0m2 0h0m.8-.1h0m1.9-.3h0m7.9 .6h0m-45.9 1.2h0m3.2-.8h0m13.7 .3h0m.1-.4h0m13.3 .3h0m3.7 .1h0m4.7 .3h0m7.8 0h0m-53.4 .9h0m11-.1h0m2.7 0h0m9.7-.2h0m11.7 .1h0m3.8 0h0m10.2 .4h0m2.2-.5h0m2.6 .6h0m-59.4 .6h0m9.6-.2h0m1.4-.2h0m6.3 .3h0m.7 .2h0m13.6-.3h0m-15.8 1.2h0m2.6-.1h0m7.1 .5h0m11.4-.6h0m3.3 .7h0m10.3-.9h0m-58.7 1.7h0m27.4 .1h0m1.2-.4h0m1.2 0h0m24-.4h0m-48 1.8h0m9.7-.4h0m3.1 .3h0m7.4 .1h0m11.7-.7h0m1.4 .6h0m2.6-.2h0m3.4-.4h0m6.1 .5h0m9 .2h0m-60.6 .6h0m31.9 0h0m1.7 .2h0m11.5-.3h0m-0 .3h0m4-.4h0m6.1-.1h0m-35.8 1.5h0m7.3-.5h0m3 .7h0m9.5-.1h0m2.1-.3h0m1 .4h0m-23.5 .5h0m11.9 0h0m4.1-.4h0m6.5 .3h0m4.1 .3h0m18.8 .4h0m-39.9 .5h0m21.1 .1h0m-43 .8h0m11.5-.1h0m26.5 .2h0m-18.4 1.1h0m7.6-.3h0m21.2 .2h0m3.4 .5h0m1.1-.1h0m2.6-.7h0m-52 1.6h0m9.4-.8h0m8 .4h0m3.7 0h0m10.3 .3h0m2.9 .1h0m.9-.3h0m.6 .3h0m3.8 .2h0m1.2-.9h0m14.4 .4h0m-61.1 .5h0m26.3 1h0m.3-.6h0m8.5 .4h0m16.3-.5h0m6.1 0h0m4.3 .6h0m-45 .6h0m2.9 .2h0m3.6-.6h0m8.3 .2h0m2.6-0h0m25.2 .5h0m4.8-.4h0m-42.5 1h0m5.1-.3h0m13 .6h0m5.5 .1h0m12.1-.6h0m-40.7 1.3h0m1.1 .1h0m14.9-.4h0m7.7 .4h0m1-.2h0m2.4 .2h0m-18.6 1h0m7 .1h0m.4-.4h0m17.1-.2h0m4.5-.1h0m2.2 .1h0m1.4 .2h0m6.3 .7h0m-47.4 .4h0m12.3 .5h0m2.9-.8h0m5.4 .9h0m3.5-.9h0m23.2 .8h0m-43 .4h0m5.3 .4h0m4.1 .9h0m10 1.2h0m10.8-.5h0m6.3-.3h0m-19.2 1.9h0m9.4-.8h0m9.6 .8h0m.2-.6h0m-10.6 2.3h0m2.7 .4h0m-12.6 .8h0m3.8 1.4h0m1.6 .3h0m-.9 .9h0m.2 .5h0m8.1-.2h0m2.1-.6h0m-22.2 2.6h0m13.8 .2h0m-.7 .3h0m4.2 .5h0m3.2-.5h0m-7.2 .9h0m4.3-0h0m3.9 .3h0m-7.8 2.5h0"/><path id="c2m1" d="M46.5 10.4h0m1.6-.8h0m4.6 0h0m.1 0h0m1.3 .4h0m3.3 1h0m-15 .7h0m14.8 .4h0m12.9 .1h0m-30 1h0m6.6-.1h0m10.9-.4h0m4.4 .5h0m3.1-.2h0m.8-.3h0m-27.8 1.6h0m27.3 .1h0m-12.7 .4h0m14.9-.1h0m3.1 .3h0m-33.1 .6h0m4 .7h0m3.9-.2h0m17.4-.3h0m-5.1 .7h0m13.5 .1h0m-5.3 1h0m-.5 1.7h0m11.6-.8h0m2.4 .7h0m1.1 .2h0m-12.6 .6h0m1.1-.3h0m.9 .7h0m-8.7 .7h0m11.6 0h0m8-.6h0m.8 .7h0m-48.1 1.2h0m5.1 .1h0m5.6-1h0m9.5 .8h0m4-.7h0m14 0h0m4.2 .5h0m-24.6 1.3h0m.2-.1h0m.5-.6h0m5.8 .3h0m.4 .3h0m-16.2 .3h0m42.6 .2h0m-46.2 1.4h0m2.2-.3h0m6.6 0h0m.7-.2h0m17 .1h0m12.1 .5h0m2.3-.4h0m1.8-.3h0m-31.5 1.4h0m12.3-.5h0m3.9 .6h0m-33.4 1h0m9 0h0m5.6-.4h0m18.9 .3h0m-34.4 1.4h0m5.1-.6h0m4 .1h0m5.4 .3h0m4.2 .2h0m13.9-.8h0m12.6 .2h0m1.2 .2h0m-38.2 1.3h0m8.3-.6h0m2.1 .2h0m19.1-.2h0m3.4 .8h0m6.9-.9h0m-37 1.8h0m.1-.8h0m14.3 .5h0m4.3 .2h0m21.7-.6h0m.6 .3h0m-13.9 .9h0m7.4-.4h0m-33.8 1.6h0m10.7 .2h0m2.7-.7h0m11 .2h0m-34.9 1.1h0m24.2-.2h0m6 0h0m1.9-.1h0m3.8 .2h0m-36.9 1.1h0m24.4 .4h0m-12.2 .5h0m8.7 .3h0m23.2 .2h0m.4-.5h0m2.6 .2h0m-56.4 1h0m13.7 .4h0m17.7-.6h0m19.1-.3h0m3.9 .1h0m-60.5 1.5h0m33.8 .3h0m13.4 0h0m6.8-.5h0m.2 0h0m4 .4h0m4.8-.5h0m-49 .7h0m36 .7h0m2.9-.6h0m-45.1 1.3h0m4.6-.4h0m7.8 .9h0m4.8-.8h0m1.1-.1h0m3.1 .7h0m11.7-.2h0m1.9-.2h0m9.1 .5h0m1.2 .2h0m7.2-.3h0m-53.3 .6h0m6.2 .1h0m15.1-0h0m5.3-.1h0m18.6-0h0m.6-.2h0m5.1 .2h0m1.5 .1h0m-38.1 1.1h0m34.8 .3h0m1-.7h0m8.5 .4h0m-0 .2h0m-67 .5h0m2.2 .2h0m14.5 .3h0m14.1 0h0m-33.3 .8h0m18.9-.4h0m21.9 .5h0m1 .2h0m25.3-.5h0m-46.4 1.3h0m3.1-.4h0m9.9 .4h0m4.1-.1h0m21.7 0h0m2.5-.4h0m-55.2 1.3h0m32.5-.2h0m6.9 .4h0m11.8-.3h0m3.8-.2h0m-58.2 1.3h0m32.4 .5h0m2.9-.5h0m19.6 0h0m-48.5 .9h0m6.5 .3h0m3.9-.5h0m7.4 .7h0m5.4 .1h0m.3-.3h0m1.2-.4h0m3.6 .5h0m1.4 .1h0m2.2-.7h0m2 .1h0m10.4 .5h0m2.9-.6h0m7.3 .1h0m-38.1 1.5h0m1.1 .1h0m6.5-.8h0m8.5 .4h0m.1-.4h0m.8 .6h0m23.5 .3h0m-30.4 .8h0m28.5 .1h0m-37.9 .5h0m3.8 .3h0m1.1 .4h0m9-.6h0m15.7 .5h0m11.3-.4h0m-41 1.3h0m1.4 .1h0m7.1-.8h0m1.1 .6h0m5.2-.6h0m9.2 .5h0m5.4-.2h0m1.4 0h0m10.7 .3h0m-39.1 1.1h0m2.6-.1h0m7.5 .1h0m5.2-.1h0m18.7-.5h0m5.6 .1h0m-46.1 1.3h0m9.1 .4h0m29.6-.6h0m-43.8 .9h0m.1 .4h0m7 .1h0m6.9-.5h0m11.1 .4h0m2.4-.5h0m-32.6 1.6h0m13.2-.6h0m8.1 .5h0m1.8-.3h0m4.4 .3h0m3.3-.7h0m10.6 .7h0m-28.6 .4h0m16.3 .5h0m.2-.3h0m16.5-.1h0m-28.6 1h0m12.6 1.8h0m22.3-.7h0m-28.9 .9h0m.4 .2h0m2.9 .4h0m5.5 .9h0m-17.7 .9h0m17.9-.1h0m-19.2 1.2h0m15.6-.1h0m6.1 .5h0m9.8 1.5h0m2.2 2h0m-27.7 .5h0m27.8 1.5h0m-6 .4h0m-20.3 2.6h0m12.9 2.5h0"/><path id="c2m2" d="M52.6 7.1h0m-5.6 1.2h0m1.4 .4h0m4.8 .7h0m1.5 1h0m4.1 .9h0m5.2 .1h0m4.5 .4h0m-23.7 1.3h0m3 0h0m5.1 .1h0m3.6-.4h0m13 .6h0m1.4-.1h0m.3-.3h0m-27.1 1.1h0m5.2-.4h0m.9 0h0m9.6 0h0m1.6-.2h0m8.1 .6h0m4.1 .3h0m-31.5 .5h0m6.4 .3h0m-10.2 .3h0m8.3 .1h0m15.7 .2h0m3.8-.3h0m6.2 .2h0m-29.1 1.6h0m8.6-.4h0m10.2-.3h0m4.5 .6h0m-7.1 1.2h0m11.7-.5h0m5.5 0h0m3.7 .6h0m-41 .1h0m4.4 .3h0m17.7-.3h0m13.4 .3h0m-19.7 .7h0m1.5 .6h0m8.5 .1h0m7.8-.6h0m-16.7 1.2h0m5-.1h0m-5.2 1.6h0m13.1-.9h0m5.8 .1h0m.7 .8h0m2-.4h0m-34.1 1.5h0m9.4-.9h0m23.2 .4h0m-37.6 1.1h0m1-.6h0m.2 .3h0m13 .3h0m1.6-.3h0m12.5 .2h0m.7-.5h0m7.4 .6h0m-37.5 1.1h0m2.8-.1h0m22.2 .1h0m9.4 .2h0m8-.9h0m.6 .4h0m3.4-.2h0m-47.8 1.4h0m.8-.4h0m.4 .7h0m6.8-0h0m17.6-0h0m10.6-.7h0m.7 .1h0m5.6-0h0m-33.4 1.5h0m17.8-.2h0m18 .2h0m-35.7 .3h0m14 .6h0m19-.5h0m3.7 .8h0m-37.5 .1h0m3.4 .7h0m20.1 .2h0m11.7-.9h0m.9 .1h0m1.2 .4h0m-37.3 .6h0m8.7 .7h0m15.1-0h0m10.4-.2h0m6.4-.7h0m-54.5 1.1h0m2.2 .1h0m2.7 .3h0m8.1 .1h0m1.7-.2h0m2.4 .5h0m15.7-.8h0m5.7 .9h0m1.9-.7h0m6.2-.1h0m4.3 .6h0m-21.3 1.2h0m21.1-.8h0m.2 .7h0m-47.1 .2h0m.7 .4h0m13-.1h0m2.4 .5h0m14.3-0h0m10.7-.7h0m7.7 .2h0m.6-0h0m-41.7 1.1h0m.6 .3h0m27.6 .1h0m7.6-0h0m-43.3 .3h0m10.3-0h0m1.2 .1h0m5 .2h0m3.3-.1h0m2.9 .5h0m.5-.2h0m10.3 .2h0m2.9-.8h0m8 .7h0m-59.9 .7h0m14.6-0h0m3.5 .2h0m24-.4h0m7.1-.2h0m-19.5 1.3h0m4-.2h0m4 .1h0m11.4 .3h0m-34.6 .9h0m23.2-0h0m-9 1.3h0m6.7-.7h0m1.9-0h0m9.1 .3h0m-42.7 .8h0m13.9-.1h0m6.1-.1h0m8.8 .2h0m11 .2h0m8.8 .2h0m6 .3h0m-55.6 .5h0m.3 .6h0m13.4-.4h0m7.3-0h0m2.1-.5h0m5.3 .4h0m12.2 .5h0m3.2-.9h0m-54.2 1.6h0m5.6-.1h0m1.6-.5h0m1.2 .3h0m13.5 .5h0m4.2 .1h0m4.7-.2h0m4.5-.8h0m6.9 .7h0m.9-.5h0m3.6 .4h0m5.1-.1h0m2.5-.3h0m9.2 .3h0m1.7 .2h0m-60.8 .7h0m.4 .4h0m2.6 .2h0m29.6-.7h0m6.5 .4h0m8.3-.5h0m18.9 .1h0m-52 1h0m7.8-.2h0m2.1 .9h0m3.9-0h0m2.3-.4h0m6.5-.1h0m4.6 .1h0m10.6-.4h0m.6 .5h0m-50.4 1.1h0m21.9 .1h0m28.5-.9h0m3.1 .7h0m-56 1.2h0m4.9-.5h0m7.2 .4h0m14-.3h0m2.8-.5h0m27.3 .9h0m4.6-.3h0m-45.6 1.1h0m5.8 .2h0m2.6-.8h0m3.4 .6h0m.5-.4h0m15.6 .4h0m7.8-.5h0m-48 1.6h0m.2-0h0m9.6-.3h0m6.2 .4h0m.1-.1h0m13-.2h0m13.2-.5h0m4.9 .3h0m1.1-.2h0m9.2-0h0m-59.7 1.2h0m5-0h0m12.9-.3h0m17.9 .7h0m4.6-.4h0m-24.9 1.2h0m8.8-.2h0m17.9-.1h0m6.8 .4h0m.9-0h0m1.3-.3h0m2.3 .1h0m-29.2 1.3h0m14.4-.4h0m19.4-.2h0m-34.4 1.7h0m.9-.3h0m3.3-.2h0m8.6 .1h0m7.5 .4h0m6.4-.3h0m14.5-.1h0m-33.1 1.2h0m11 .1h0m2.1-.7h0m.3 .1h0m10.1 .2h0m6.3-.3h0m3.3 .6h0m-40.9 1h0m.8-.6h0m6.4 .8h0m1.2-.4h0m-28.1 1.4h0m15.4-.2h0m5.7-.1h0m7.4-.1h0m10.1 .3h0m9.1-.8h0m.4 .6h0m5-0h0m-32.5 1.2h0m6.2 .4h0m11.6 .8h0m-22.2 .3h0m15.4-.1h0m5.7 .4h0m.5 .9h0m21-.4h0m-36.5 1.8h0m17.6-0h0m8.1-.2h0m-9.1 .3h0m2.2 .3h0m-30.3 1.1h0m17 .4h0m26-.8h0m-43.1 1.3h0m7-0h0m15.6-.1h0m25.2-.2h0m-24.6 2.6h0m5.2 .1h0m5.4-0h0m3.1 1h0m-23.6 .9h0m20.1 .1h0m5.6 .2h0m2.9-.1h0m-9.7 1h0m5.2-.1h0m-21.3 2h0m2.2 .1h0"/><path id="c2m3" d="M47.4 9.2h0m.2 .9h0m.3-.2h0m.9 .5h0m8.4-.8h0m-11.6 1.9h0m7.8-1h0m.8 .2h0m5.8 .2h0m-4.4 .9h0m1 .5h0m.6-.5h0m3.4-.1h0m-14.1 1.5h0m10.2 .1h0m2.1 0h0m.8-.6h0m9 .3h0m-16.5 1.4h0m12.4-.3h0m7.4 0h0m-22.7 .6h0m-.4 1.7h0m9.1-.3h0m17.1 .4h0m-23.1 .5h0m.7-.2h0m.8 .5h0m6-.1h0m9.3 .1h0m.6-.8h0m10.1 .2h0m.5 .3h0m-33.1 .8h0m6.8 .3h0m4.9 .1h0m9.4 0h0m.6 .3h0m3.7-.4h0m3.8-.4h0m.6 .8h0m-29.8 .4h0m.4 .2h0m-7.8 1.3h0m.6-.3h0m12.9 .3h0m8.9-.4h0m1.5-.4h0m16 .6h0m-35.3 1h0m23.9 .3h0m3.2-.3h0m6.7 .2h0m-23.1 .6h0m1-.2h0m10.7 .4h0m2.6-.4h0m-33 1.3h0m1.9-.2h0m6.6 .5h0m13.7-.8h0m6.2 .4h0m-29.6 .9h0m7.9 .4h0m6.2-.1h0m6.6 .2h0m-18.3 .8h0m22.7-.6h0m1 0h0m1 .3h0m13.3-0h0m5.5 .4h0m-45.7 .6h0m18.1 .5h0m18.6-.3h0m2.9-.4h0m9.7 .6h0m-46.7 1.2h0m10.6-.8h0m9.3-0h0m1.9 .3h0m7.3-.4h0m.1 .2h0m2.8 .5h0m11.8-0h0m.2-.5h0m-47.3 1.4h0m1.1 .1h0m3.6-.1h0m1.3-0h0m7.2-.6h0m3.5 .6h0m4.3 .1h0m3.4-.4h0m5.4-.1h0m5.9 .4h0m7.1-.6h0m4.2 .5h0m2.4-.5h0m-42.5 1.1h0m3.5-.1h0m2.1 .8h0m3-.4h0m5.4 .3h0m10.3-0h0m10-.8h0m0 .3h0m2.2-.1h0m-44.2 1.5h0m10.1-.5h0m28.5 .8h0m11.6-.4h0m-53.5 1.1h0m20.3 .3h0m3.8-.1h0m4.4-.8h0m25.2 .3h0m1.3-.2h0m-56.3 1.6h0m1.5-.4h0m.2 .3h0m17.8 .2h0m23.8-.6h0m14.3-0h0m-20.7 1.4h0m14.5-.3h0m.5 .6h0m-50.5 .3h0m7.4 .2h0m.2 .1h0m2.1 .4h0m8.3-.2h0m8.8 .2h0m11.5-.2h0m-37.8 .7h0m7.5 .2h0m18.2-.2h0m2.6 .2h0m8-.6h0m13.4 .4h0m1 .4h0m-45.3 .6h0m4.1-.1h0m0-.1h0m1.5-0h0m17.9 .6h0m.1-.6h0m3.7-.1h0m4.2-.1h0m8.7 .5h0m-44.3 1.1h0m6.8-.4h0m8.7 .6h0m0-.7h0m10.4 .3h0m4.8-.4h0m10 .8h0m2.5-.3h0m-44 .8h0m.1 .6h0m.1-.8h0m18.6-.1h0m7.2 .8h0m6.8-.2h0m10.8-.4h0m.7 .2h0m-30.9 .9h0m9.5 0h0m4.3 0h0m18.2 .2h0m-44 1.4h0m6.1-.4h0m39.8-.3h0m-61.5 1.6h0m3.3-.7h0m7.2 .3h0m11.2 0h0m29.1 .3h0m2.8-.3h0m7-.2h0m1.1 0h0m-62.2 1.4h0m2.9-.3h0m12.5-.4h0m11.3 1h0m13-.1h0m12.9-.4h0m4.8 .2h0m-52.5 .5h0m14 .1h0m42-.3h0m-57.6 1.7h0m12.5 .1h0m20.5-.2h0m10.7-.2h0m10.5 .1h0m6.6 .1h0m-65.8 .4h0m33.5-0h0m23.8 1h0m-41.7 .6h0m6.2-.5h0m0 .7h0m1-.3h0m1.8 .1h0m14.3 .3h0m-8.5 .8h0m18.2-.4h0m3 .6h0m4.1-.3h0m-43.6 1.1h0m22.8 .2h0m17.8-.1h0m4.7-0h0m9.8-.4h0m-46.5 .9h0m7.3 .6h0m6.8-.7h0m5.1-.1h0m22 .7h0m1.2-.2h0m-60.2 1.1h0m11.2 .2h0m1.9-.6h0m16.5 .4h0m.8 .2h0m20.3-0h0m-33.4 .6h0m4.2 .3h0m3.6-0h0m4.4-.8h0m6.9 .2h0m3.5 .4h0m22.5 .4h0m-34.5 .3h0m29.7 .6h0m-45 .3h0m4.4 .1h0m34.9-0h0m.5 .4h0m-37.3 .3h0m16.4 .3h0m2.1-0h0m8 .3h0m2.7 .1h0m14 .1h0m-34.5 .9h0m25.7-.2h0m9.5 .5h0m-40.2 1h0m2.6-.3h0m15-.3h0m11.4-.1h0m6.6 .2h0m-34.6 1.3h0m14.9 .1h0m12.5-.8h0m-29.1 1.7h0m38.5-.6h0m-25.6 1.1h0m18.6-0h0m4.5-.2h0m-37.2 1.2h0m20.3-.1h0m4.9 .6h0m-23 1h0m4.5-.5h0m33.5-0h0m7 .5h0m-39.1 .5h0m10.7 .5h0m20.1-.4h0m-26.2 1.5h0m8.2-.4h0m11-.3h0m-4 .9h0m5.5-0h0m-26.2 1h0m26.3 .4h0m-20.8 1.1h0m9.7-.5h0m9.8 1.1h0m-24.4 1.1h0m23.5 .4h0m-3.5 1.5h0"/><path id="c2m4" d="M45.8 8h0m1.1 .9h0m2.7 1.5h0m1.6-.1h0m.9-.4h0m7.2 .4h0m1.5 .6h0m-1.6 1.2h0m1.3-.4h0m-15.1 .8h0m2.7 1h0m12-.2h0m8-.3h0m-21.1 1.3h0m10.2 .4h0m6.1-0h0m1.3 .7h0m-25.2 1h0m8.4 .1h0m.9-.9h0m8 .8h0m1.4-.5h0m18.9-.1h0m-22.4 1.5h0m2.4-.3h0m7 .1h0m4.9 .3h0m6.1 0h0m-13.4 .3h0m.2 .2h0m-25.1 1.1h0m3.4 .4h0m5-.4h0m7.1-.4h0m6.3 .1h0m1.5-.2h0m6.4 .9h0m13.5-.3h0m1.4-.5h0m-46.8 1.6h0m3-.6h0m12.6 .7h0m8.2-.2h0m5.7-.6h0m.1 .1h0m1.3 0h0m4.1 .2h0m2.7 1.4h0m-28 .7h0m5.4 .5h0m20.6-.6h0m.1 .4h0m-20.5 .5h0m5.3-.2h0m9.9 1h0m5.9-.5h0m-28.1 1.3h0m1.3-.2h0m3.8 .3h0m17.5-.5h0m4.2-.1h0m-16.2 .9h0m4.8-.1h0m22.5 .7h0m-48.2 .3h0m2.7 .5h0m8.5 .1h0m4-.3h0m28 .1h0m6.5-.2h0m2.2 .2h0m-42.3 1.3h0m2-.6h0m7.8 .2h0m11.4-.3h0m9.4 .5h0m-40.4 1h0m32.3-.5h0m7.6 .8h0m3.1-.4h0m4-.4h0m3.5 .9h0m-44 .8h0m7.4-.2h0m8.8 0h0m19.7 .1h0m2.7-.3h0m-39.6 1h0m3.2-.3h0m9.6 .2h0m6.6 .2h0m26.7 .2h0m.1 0h0m-44.5 .4h0m17.3 .2h0m6.3 .4h0m.6 0h0m9.4-.5h0m-41.9 1h0m1.3 .3h0m9.7 .3h0m20.4-.7h0m17.2 0h0m-43.1 1.8h0m20.4-.2h0m26.1-.7h0m0 1h0m-53.9 .2h0m12.2 .4h0m4.2-.4h0m10.8 .4h0m6-.5h0m3.2 .3h0m-15 1.5h0m8.1 .1h0m6.7-.7h0m8.1 0h0m2.2-.1h0m-38.4 .8h0m12.6 .8h0m3.8 .1h0m17.2-.4h0m1.8-.1h0m-38.8 1.1h0m6.9 .2h0m.5 .1h0m11.9-.7h0m5.1 .3h0m1.8 .2h0m8 .1h0m16.4-.5h0m-47.4 1.7h0m9.1-.7h0m1.6 .1h0m2 0h0m1.6 .6h0m9.2-.2h0m12.8-.2h0m-52.8 1.4h0m11.6-.2h0m13.9 .1h0m.9-.4h0m11-.3h0m5.8 .7h0m.6-.3h0m4.2-.1h0m1.7 .1h0m10.8 .4h0m.1-.6h0m-49.6 .8h0m23.3 0h0m6 .5h0m12.4 .2h0m-47 .5h0m20.8-.1h0m15.7 .4h0m4.4 .3h0m1.4-.9h0m-38.8 2h0m19.6-.8h0m6.5 .6h0m5.7 .1h0m13.5-.2h0m5.6 0h0m-47.7 .7h0m18.1 .2h0m4.6 .3h0m21.7 0h0m1.2-.3h0m2.4 .4h0m-60.7 .4h0m27.3 .1h0m6.9-.5h0m.1 1h0m3.5-1h0m4.4 .9h0m12.5-.9h0m-47.2 1.6h0m22 .3h0m.6-.9h0m2.3 .8h0m8.3-.6h0m14.2 .2h0m-52.7 .8h0m15.3 0h0m.2 .2h0m1.4 .5h0m3.3-.7h0m.7 .1h0m18.3-.2h0m15.5 .4h0m3.3-.2h0m-65.4 1.4h0m32.1-.4h0m.7 .2h0m.2-.1h0m.5 .2h0m2.9 .3h0m25.1-.2h0m2.3-.7h0m-50.1 1.4h0m.3 .4h0m31.2 .1h0m2.1-.2h0m17.3-.4h0m-49.8 1.1h0m3.4 .4h0m3 .1h0m8.4-.4h0m9.4 .2h0m-12.8 .6h0m11 .3h0m0-.1h0m.5 .3h0m5.4-.1h0m1.9-.6h0m.9 .2h0m.9 .1h0m18 .3h0m-44 .4h0m14.3 .8h0m1.5-.7h0m9.1 .5h0m14.6-.4h0m-33.2 1.1h0m5.2 .1h0m4.6 0h0m2.8 .4h0m.1-.1h0m4-.1h0m1.7-.5h0m4.3 1.1h0m8-.2h0m4.3 .6h0m1.6-.1h0m-20.4 .6h0m3.6 .5h0m-28 1.3h0m3-.7h0m13.5-.1h0m20.5 .1h0m-30 .8h0m4.3 .8h0m3.4-.6h0m18.7-.3h0m-32.6 1.8h0m2.9-.6h0m10.5 .5h0m-15.6 1.7h0m-1.6 1.3h0m9.5 .2h0m37.9-.6h0m-47.5 1.2h0m13.1 .2h0m12.1-.3h0m16.6-.2h0m-3.8 1.6h0m-42.3 1.2h0m12.6-.3h0m15.6 0h0m5.6-.3h0m-.9 2.2h0m2 .2h0m5.1-.5h0m-1.8 1.4h0m-5.8 .7h0m3.7 .3h0m-3.1 1.3h0m1.5-.5h0m5 0h0m1.8 1.1h0m-11.9 2.7h0m-10.5 1.1h0m21.3-.1h0m.1 .1h0m-16.2 1.6h0"/><path id="c2m5" d="M46.1 7.4h0m7.7 1.6h0m5.2 .6h0m-13.7 1.6h0m16.8-.2h0m-21.9 .6h0m14.8-.1h0m1.4 .4h0m-6.1 .8h0m3.4 .2h0m3.1 .5h0m.1-.4h0m3.6-.4h0m-18.2 1.3h0m9.9 .7h0m10.3 .1h0m.7-.2h0m3.4 .1h0m5.9 .2h0m-34.8 1.4h0m24.8 0h0m3.8-.3h0m-24.2 1.4h0m.6 .1h0m4.2-.1h0m11.8-.7h0m4.2-.1h0m3.3 .1h0m5.4 .1h0m4.9 .4h0m-37 1.1h0m6.4-.1h0m2.9 .3h0m8.5-.1h0m21.9-.3h0m4.5 0h0m-38.6 .8h0m2.4-.1h0m6.4 .5h0m1 .1h0m14-.8h0m3.5 1h0m11.5-.1h0m-28.8 .2h0m.6 .6h0m.2-.6h0m6.2 .6h0m5 .2h0m11-.2h0m-41.4 .3h0m3.3 .1h0m1.6 .6h0m11.8 .2h0m26-.4h0m-35 .8h0m21.2 .1h0m9.2 .1h0m6.2-0h0m3.2 .3h0m-43.1 .8h0m5.2-.3h0m8.5 .1h0m10.8-.3h0m3.2 .1h0m1.9 .6h0m10.1 .2h0m2.9-.2h0m-37.9 .4h0m22.1-.1h0m3.6 .9h0m5.1-.3h0m2.6 .3h0m-35.2 .1h0m4.8 .7h0m14.6-0h0m-24 1h0m11.3-.7h0m2.9 .1h0m7.7-0h0m4.7-.1h0m3.6 .1h0m4.5-.1h0m1-0h0m9.1 .3h0m-49 .8h0m16.3 .6h0m23.8 .1h0m8.5-.7h0m-50.4 1.4h0m20.6-0h0m20.2 .2h0m10.1-.5h0m-40.5 1.3h0m1.4 .4h0m.4-.1h0m4.6-.6h0m12.2 .7h0m.2-.6h0m6.1 .4h0m.4-.4h0m1.5 .5h0m11.3-.2h0m-51.7 1.1h0m2.5-.8h0m7.6 .7h0m29.1-0h0m5.6 .2h0m-38.5 .3h0m10.3 .2h0m2.2-.2h0m1.6 .1h0m-22.2 1.6h0m1.8-.1h0m8-.6h0m13.6 .5h0m.5-.4h0m2.3 .6h0m1.6-.8h0m22.3-0h0m-2.4 1.4h0m3-.2h0m-44.5 1.4h0m12.8-.3h0m5.1-0h0m17.8 .2h0m8.4-.5h0m.8 .4h0m-47.8 .7h0m4.3 .6h0m1.6-.6h0m.6-.1h0m2 .7h0m12.6-.5h0m3.2-.3h0m20.2-0h0m-33.4 1.1h0m3.9 .4h0m28.9 .1h0m-0-0h0m-32 1.1h0m1.6-.1h0m20.1-.6h0m3.2 .5h0m3.6 .1h0m8.3-.4h0m-44.1 1h0m21.5 .8h0m4.7-.1h0m5.8-.8h0m-50.6 1.1h0m15 .6h0m-0-0h0m.7-.8h0m5.8 .9h0m21.5-.7h0m5.3 .7h0m6.1-.3h0m-49.2 .7h0m14.5 .6h0m8.1-.5h0m11-.4h0m5.9 .9h0m-24.1 .1h0m1.2 .6h0m11.6-.3h0m3.6-.2h0m8.1 .6h0m10.1-.1h0m-50.3 .6h0m5.3 .2h0m21.6 .5h0m1.4-.2h0m13.1-.3h0m1.2 .4h0m1.7-.2h0m-48.2 .6h0m3.8 .2h0m.6-0h0m12.3 .5h0m12.8-.7h0m5.3 .6h0m7.6-.4h0m7.1-.2h0m-44.4 1h0m7.9 .6h0m23.1-.2h0m12-.4h0m7 .8h0m-54.5 .4h0m9.1-0h0m1.3-.3h0m11.4 .3h0m6.7-.2h0m13.4 .1h0m3.6 .7h0m14.1-.1h0m-58.4 .8h0m30-.2h0m.5-.4h0m3.7 .5h0m8.1-.5h0m3.4 .5h0m-50.5 1.2h0m20.1-.6h0m12.1 .2h0m8.8 .5h0m14.8-.2h0m7.9-.5h0m-47.5 1h0m.5 .7h0m2.9-.8h0m32.3 .3h0m-21.1 1.3h0m3.2 .3h0m4-.2h0m6.8 .1h0m1.4-.5h0m2.4-.3h0m4-.1h0m3.2 .6h0m5.7-.5h0m-46.7 1.4h0m13.7 .3h0m6.6-.3h0m10.2-.3h0m-23.5 .9h0m2.6 .1h0m16.8 .6h0m-16.8 .8h0m3.9-.2h0m2.6 .2h0m16.7-0h0m-30.7 .5h0m11.3 .6h0m.1-.3h0m7.4-.3h0m10.2 .5h0m-23.2 1.1h0m19.5-.1h0m9.7-.4h0m-26.4 1.3h0m6.3-0h0m30.2-0h0m-48.6 1h0m11 1.3h0m23.1-.3h0m.6 .4h0m12.6-.9h0m-25 1.4h0m4.8 .4h0m-27.7 1.6h0m40.3 .3h0m5.5-.1h0m-33.9 1.1h0m35.4 1.6h0m-24.5 2.7h0m13.3-1h0m6.9 1.5h0m-26.7 2.2h0m19.6-.1h0m.8 .7h0m-17.3 2.8h0m-2.6 2.4h0"/><path id="c2m6" d="M45 5.8h0m6.9 4.1h0m.8 1.6h0m-3 .8h0m10.2-.1h0m-12.9 .5h0m3.3-.1h0m6.9 .5h0m3 0h0m5-.1h0m1-.4h0m-24.7 1.4h0m8.8 0h0m4.5 .2h0m.6 .1h0m1-.3h0m-16.2 1.4h0m1.6-.2h0m2.7-.3h0m17.4-.1h0m-7.8 .8h0m7 .8h0m-11.2 .8h0m1.8 0h0m25.6 .1h0m4.8-.3h0m-31.4 .6h0m.5 .8h0m6.1-.4h0m14.9-0h0m-13.1 1.4h0m-10.6 .8h0m10.8-.1h0m1.3 .4h0m.1-.7h0m.2-.1h0m3.3 .7h0m9.2-.1h0m-34.8 .9h0m6.2-.6h0m9.3 .7h0m3.8 .8h0m8.3-.6h0m4.3 .7h0m-19.7 .8h0m17.6 .4h0m13.8-.7h0m-50.2 1.1h0m8.9 .6h0m.5-.7h0m8.4 .6h0m2.1 0h0m1-.3h0m4.9 .4h0m.3-.3h0m6-.2h0m3.1-.2h0m12 .2h0m-24.6 1.2h0m-16.7 1.3h0m4.9-.7h0m16.2 .5h0m-.3 1h0m4.9 .1h0m9.4-.7h0m-19 1.7h0m6 .1h0m1.7-.2h0m13.9 .1h0m-45.5 .7h0m4.3-.5h0m2.5 .7h0m12.4-.2h0m15.4 0h0m4.5 .4h0m10.3-.2h0m.9-.3h0m4.3-.4h0m-47.7 1.3h0m28-.2h0m11.9 .4h0m4.3 .3h0m-49.4 .9h0m4.3-.5h0m26.9 .5h0m-22.4 .7h0m4.9 .2h0m.3-.5h0m6.8 .8h0m.2-.7h0m2.8 .4h0m12.6 .3h0m5.7-.4h0m6.4 .3h0m3.5 0h0m-33.9 .3h0m5 .3h0m2.3 .6h0m23.6-.4h0m-50.7 .8h0m6-.4h0m3.7 1h0m3.4 0h0m4.5-.8h0m1.5 0h0m1.4 0h0m2.1 .7h0m8.5-.5h0m4.6 .6h0m16-.2h0m-55 1.1h0m3.1-.2h0m1.5-.4h0m11.7 .2h0m4.7 .4h0m15.7-.8h0m1.9 0h0m3.6 0h0m1.9 .6h0m2.9-.3h0m5.6 .3h0m1.6-.1h0m-42.8 1.2h0m33.3-.3h0m4.4 .3h0m1.6-.5h0m1.8 .1h0m2.2 .5h0m-49.6 .1h0m3.2 .9h0m12.6-.8h0m2.6 .5h0m1.8-.4h0m2.5-.2h0m1 .3h0m28.4 .5h0m-48.6 .5h0m10.9-.2h0m6.7 .8h0m3.6-.3h0m2-.5h0m.2 .9h0m9.4-.9h0m6.7 .1h0m-38.9 1h0m.3 .5h0m3.4-.4h0m19.9 .4h0m1.1 .3h0m4.2-.6h0m10.8 .3h0m-47 1.2h0m20-.1h0m6.9 0h0m3.7 .2h0m1.5-.2h0m8.7-.3h0m4.7 .2h0m-56.5 .5h0m.2-.2h0m.2 .3h0m.2-.3h0m19.9 .8h0m1.2-.4h0m14.9-.3h0m3.3 .7h0m4.2-.4h0m11.4-.3h0m3.7 .4h0m1-0h0m-65.8 1.2h0m11.1 .2h0m3.1-.3h0m33.1 .3h0m10.5-.9h0m1.6 1h0m4.1-.5h0m-57.8 .9h0m11.5 .5h0m.5-.1h0m7-.5h0m26.7-.1h0m5.1 .5h0m2.4-.5h0m3-.1h0m1.5 .8h0m-57.4 .2h0m3.9 .2h0m2 .5h0m8.3-.5h0m3.5 .5h0m45.5 .1h0m-64.2 .3h0m10.6-0h0m12.1 .4h0m10.9-.2h0m8.9 .3h0m.6-.3h0m2-.3h0m1.2 .1h0m1.4 .1h0m-30.9 1h0m4.6-.2h0m2.4 .5h0m29.7-.3h0m4 .2h0m-53.7 .8h0m20.7 .1h0m14.1 .5h0m5.5 .1h0m0-.3h0m1-.5h0m6.2 .2h0m4.8 .3h0m2.5-.5h0m-61.5 1.8h0m26.5-.4h0m18.8 .3h0m9.8-.4h0m1.3-.2h0m5.6 .6h0m-38 .8h0m5-.2h0m12.1 .4h0m4.9-.5h0m.2-.1h0m.1 .1h0m5.3 .2h0m6.7-0h0m.3-.4h0m-17.5 1.1h0m.6-.1h0m9.7 .7h0m.4 .1h0m8.7-.1h0m-45 .2h0m13.8-0h0m7 .7h0m1.1-.1h0m19.6 .1h0m-39 .7h0m.7 .4h0m4.6-.3h0m-8.7 .8h0m2.7 .5h0m19.2-.1h0m2.4-0h0m5.7-.1h0m5.9 .1h0m3.3-.1h0m10.6-.2h0m-41 1.5h0m28.9-.4h0m-22.6 .9h0m7.8 .7h0m1.9 .4h0m7.7-.1h0m19.5 .1h0m-38.4 1.3h0m29.6-0h0m3.6 .1h0m-34.2 .5h0m19.6 .2h0m6-.1h0m1.9-.3h0m5.1 .4h0m-37 1.1h0m1.8-.4h0m25.8 .1h0m-21.3 .5h0m17.6 .5h0m1.1 1.9h0m6.3-0h0m6.4 .5h0m2.7 .7h0m-16.2 1.1h0m.2 1.2h0m7.7-.2h0m2 .4h0m.5 1.8h0m-5.9 .3h0m-18.6 1.7h0m12.1-.5h0m-8.8 1.2h0m14.4 .3h0m3.9 1.2h0m-13.3 2.2h0"/><path id="c2m7" d="M45 8.8h0m-.1 1.6h0m3.3 .1h0m15.1 .7h0m.9-.1h0m-11 .9h0m.8-.4h0m10.9 1.3h0m-22.2 1.4h0m4.5-.7h0m.9 .4h0m-1.8 .9h0m2.6-.2h0m3 .5h0m12.8-.3h0m6.9 .1h0m-27.5 .6h0m3 .1h0m2.5 .7h0m4.7-.9h0m4.8 .6h0m-17 .7h0m15.7 .6h0m16.3-.4h0m-35.5 .7h0m12.1-.1h0m2 .2h0m.6 .3h0m16-.3h0m13.6 .5h0m-37 .7h0m4.6-.5h0m12.1 .1h0m6.6 .7h0m-35.5 .9h0m8.5-.6h0m8.1 .2h0m.6 .3h0m13.5-.5h0m15.4 .2h0m1.2-.1h0m-39.5 1.7h0m19.5-.3h0m2.8-.5h0m.1 .4h0m1.9-.2h0m4.6-.1h0m12.8 .7h0m-48.4 .8h0m15.6-.4h0m10.8 .2h0m9.1-.3h0m13.7-.1h0m-48.7 1.6h0m10.3 .1h0m.5-.4h0m.7 .5h0m3.7-.7h0m6 .5h0m15.5-.6h0m2.9 .8h0m9.9-.6h0m-45.5 .7h0m8.4 .7h0m7.6-.7h0m16 .1h0m-31.7 1.5h0m3.7-.3h0m29.6-.1h0m-37 .9h0m1-.1h0m1.2 .4h0m1.6 .5h0m6.3-.3h0m3.2 .2h0m7 .1h0m7.1-.7h0m21.5 .4h0m-25.5 .5h0m9.7 .4h0m3.6 .1h0m.9 0h0m7.5 .1h0m-45.6 .3h0m1.6 .8h0m33.7-.7h0m-24.4 1h0m6.7 .4h0m2.6-.1h0m8.7 .3h0m.5-.6h0m19 .6h0m-50.3 1.6h0m4.1 .5h0m2.7-.8h0m7.3 1h0m.2-.6h0m16 .1h0m4 .1h0m10.3-.4h0m.4 .4h0m6-.3h0m-42 1.6h0m13.5-.4h0m5.7 .3h0m5.4 0h0m6.7-.3h0m-34.6 .8h0m5.4 .5h0m.5-.8h0m1.5 .6h0m.1-.4h0m8.5 0h0m1.4 .6h0m4.8-.2h0m2.5-.4h0m-26.3 1.1h0m.3 .4h0m-0 0h0m5.8-.5h0m9.3 .1h0m6.1 .3h0m12.5-.5h0m10.2 .7h0m-36.2 1h0m13.5 0h0m2.4 .1h0m.3-.4h0m4.8-.2h0m6.2 .7h0m1.8-.2h0m-41 .6h0m10.7 .5h0m3.2-.8h0m22.3 .2h0m-45.5 1.6h0m20.4-.7h0m.9 .5h0m9.5 0h0m23.8-.4h0m-55.4 1.5h0m8.9-.3h0m8.7-.4h0m9.5 .6h0m6.4 .2h0m2-.5h0m2.1 .1h0m-28 1.3h0m4-.7h0m5 .3h0m.6 .2h0m8.7-.2h0m10.2-.1h0m9.2 .1h0m-55 .9h0m14.6 .4h0m1.8-.1h0m-4 .6h0m3.1 .5h0m22.3-.5h0m3.2-.1h0m2.3 .8h0m24.6-.9h0m-48.2 1.1h0m1.4-.1h0m3.2 .9h0m13.8-.5h0m29.6-.4h0m-34.6 1.6h0m.6 .2h0m7.4-.3h0m1.3 .5h0m8.5-.8h0m1.1 .7h0m-43.3 .5h0m7 .6h0m12.3-.9h0m11.4 .1h0m2.1 .5h0m2.8-0h0m3 .1h0m8.1-.3h0m1.2-.3h0m-56 1h0m2.9 .6h0m4.1-.2h0m10.2 .3h0m9.6-.1h0m23.4-.6h0m-44 1.3h0m4.7 .4h0m22.8-.1h0m.8-.1h0m1.9 .2h0m17.4-0h0m7.3-.1h0m-44.8 1.1h0m17.5-0h0m3.7-.4h0m.6 .5h0m12-.4h0m14.8 .1h0m-58.8 .4h0m30.7 .4h0m11.8-.1h0m6.3 .2h0m5.3 .3h0m3.1 .1h0m-41.1 1h0m27.1-.7h0m-5.7 1.6h0m12.7-.4h0m5.8 .4h0m-47.6 .3h0m11.5 .2h0m3.9-.2h0m1.6 .4h0m5.9-0h0m3-.6h0m7.1 .2h0m3.3 .6h0m6.7-.1h0m-38.1 1h0m3-.3h0m7.5 .4h0m6.7-.3h0m5.6-0h0m-26 1.2h0m18.3-0h0m1.2 .1h0m12.7-.7h0m-19.4 1.1h0m10.7 .4h0m16.2-0h0m-36.9 .5h0m24.8 .7h0m-29.2 .8h0m8-.3h0m-7.8 .9h0m27.5 .4h0m-15 .6h0m15.5 .6h0m3.8-0h0m2.8 .1h0m11.1-.7h0m-39.4 1.4h0m3.7-.5h0m6.6 .6h0m15.8-.5h0m1 .6h0m3.6-.7h0m2.1 .3h0m-14.3 .8h0m-17.3 1.7h0m29.8-.5h0m2.9 .2h0m-29.2 .7h0m16 .7h0m9.1 .9h0m1.5-.6h0m-15.7 .9h0m11.3 .2h0m-23 2.5h0m16.4-.8h0m-11.6 1.1h0m22.4 7.2h0m-16.7 1.8h0"/><path id="c2m8" d="M51 11.4h0m-4.8 .2h0m10.5 .6h0m10.5 .2h0m-10.4 .2h0m12.5 .3h0m3.3 .4h0m1.7-.1h0m.7 .9h0m-30.8 .6h0m2 .5h0m1.2 .1h0m2.1-.7h0m22.2 .7h0m-32.4 .5h0m34.8 .5h0m-34.4 .5h0m.9 .6h0m2-.7h0m7.2 .2h0m13.1-.1h0m11.2 .2h0m-20.5 1.5h0m8.4-.4h0m.3 .2h0m14.9-.1h0m3.1 0h0m-41.7 .7h0m7.7 .2h0m7.4-.5h0m3.9 .2h0m4.2 .6h0m-25.5 .8h0m18.7 0h0m2.6-.4h0m12.8 .6h0m.4-.4h0m8.8-.4h0m2.4 .5h0m-45 1.1h0m1.2-.3h0m3.6 .4h0m6.3-.6h0m24 .4h0m2.2 .3h0m-27.9 .2h0m-0 0h0m3.7 .6h0m3.2-.3h0m6.1 .5h0m.6 0h0m2.7-.2h0m3.7-.2h0m2.6 .4h0m-15.9 .5h0m11.9 .2h0m2.3-.4h0m-19.5 1.2h0m15.5-.2h0m17.6 .7h0m-46.5 .8h0m2.6-.5h0m4.3 .7h0m13-.1h0m21.6-.5h0m3.8 .1h0m-43.9 1.2h0m12-.1h0m13.5 0h0m5.2-.4h0m13.1 .8h0m-21.1 .1h0m2.6 .3h0m.5 .3h0m1.7-.1h0m12.5 0h0m6-.2h0m-43.8 1.2h0m.2 .3h0m11.3-.4h0m2.9-.2h0m-21.2 .8h0m1 .1h0m6.3 .1h0m3.7 .1h0m5.3 .5h0m14.8-0h0m19.1-.1h0m3.7 .3h0m-48.4 .8h0m12-.4h0m5 .6h0m7.1-.7h0m5.8 .4h0m1.4-0h0m9.2-0h0m.8-.2h0m6.4-.3h0m-44.3 .9h0m6.9 .4h0m2.2 .3h0m5.9-.5h0m-.6 .8h0m8 .3h0m8.2-.3h0m8.6-.1h0m2.7 .8h0m-50.5 .7h0m3.5-.1h0m6.6-0h0m42.2-.1h0m-52.2 1.7h0m3-.4h0m8.9 .1h0m.9-.7h0m8.5 .4h0m.8-.2h0m22.3 .7h0m1.1-.4h0m5.5-.1h0m-53.5 1.5h0m3.2-.1h0m4.3 .1h0m3.4-.5h0m4.8 .3h0m26-.4h0m6.5 .1h0m-48.8 1.5h0m15.4-.2h0m6.3 .2h0m2.6-.8h0m9.2 .7h0m10.4-0h0m9.8-0h0m-60.1 .5h0m32 .3h0m17.8 .2h0m-49.6 1.2h0m24.5-.1h0m3.9-.3h0m1.7-.1h0m4.4-0h0m1.7-.4h0m12.1 .1h0m3.7 .7h0m8.6-.9h0m-56 2h0m3.7-.3h0m25.7-.1h0m10.8 .1h0m1.5-.1h0m3.3 .2h0m2.2-.5h0m.2 .7h0m7.2-.1h0m-61 1.1h0m7.4-.1h0m3.9-.7h0m9.8 .1h0m3.4 .6h0m5.4-.1h0m1.1-.2h0m5.5 .3h0m9-.4h0m4.2-.4h0m-52.1 1.8h0m8.9-.8h0m1.5 .7h0m1.5-.6h0m20.7 .5h0m1.2 .2h0m.5-.3h0m-36.5 .8h0m6.2 .2h0m13.7-.2h0m11.9-0h0m6.1 .4h0m15.3-0h0m3.9 .1h0m8.4-.7h0m-65 1.6h0m3.1 .1h0m3.5-.4h0m9.1 .4h0m24-.4h0m15.8-.5h0m4.2 .3h0m-19.6 1.2h0m5.4-.5h0m-40.4 1.3h0m8.5 .3h0m17 .2h0m.7 .2h0m22.9-.4h0m1.1-.4h0m.9 .2h0m2.8-.1h0m-57.9 1.6h0m.4-.5h0m11 .3h0m16.7 .1h0m.8 .1h0m4.1-0h0m15.3-.9h0m1.7 .5h0m3.7-.2h0m6-.1h0m-61.6 .9h0m1.8 .6h0m7.8-.2h0m4.2 .5h0m.5-1h0m1.7 .7h0m5.4-.3h0m14.9 .4h0m6.5-.8h0m13.4 1h0m5.4-.1h0m-59.4 .2h0m2 .9h0m26.7-.7h0m5.6 .6h0m7.1-.2h0m2.6-.4h0m5.3 .1h0m.8-.4h0m4.9 .9h0m3.7-.4h0m1.7-.3h0m1.9 .6h0m-44.6 .3h0m17.9 .7h0m-0-.8h0m15.7 2.2h0m10.3 .4h0m-48.2 .7h0m2.2 .3h0m4-.1h0m6.7-.2h0m14.2 .6h0m-29.9 .6h0m16.3 .1h0m2.5-.3h0m19.5-.2h0m1.4 .5h0m-38.8 .8h0m27.7-.3h0m6.1-.1h0m3.4 .6h0m-5.2 .6h0m1.5 .1h0m-15.3 1.2h0m3.3 .4h0m3-.3h0m5.7-.5h0m13.8-.1h0m-40.8 1.8h0m29.5-0h0m9.6-.6h0m5.9 .3h0m-39.2 .5h0m5.7 .2h0m12.2 2.5h0m7-.6h0m3.9 .8h0m14.5-.4h0m-29.5 1.3h0m20.1-.5h0m2.5 .1h0m-21.9 1.2h0m9 1.7h0m6.6 1.3h0m-4.3 1.1h0m4.8 .1h0m-10.4 .5h0m5.3 .3h0m-20 .8h0m28 .1h0m-22.4 2.9h0m4.7 .1h0m-3.1 1.1h0m7.7 4h0"/><path id="c2m9" d="M51.3 7.9h0m-1.8 1.2h0m-2.4 .6h0m2.1 .5h0m-7.8 1h0m5.9-.4h0m4.3 .1h0m2.5 0h0m6.8 0h0m1.3-.1h0m-7.9 1.5h0m-9.3 .9h0m.7 .1h0m6.6-.7h0m6.4 .6h0m7.2-.1h0m.5 .2h0m1.5-.1h0m-29.4 1.3h0m14.3 .2h0m3.2 .7h0m6.2-.5h0m-0-.3h0m5.7 .4h0m-16.4 1h0m8.8 .1h0m6.8-.3h0m1.7 .1h0m1.9-.4h0m-20.2 1h0m10.9 0h0m2.7 .1h0m6.5 .2h0m4.3-.1h0m1.4 .4h0m-36.7 .6h0m2.5-.2h0m4.2 .7h0m1.4-.4h0m10.5-.2h0m2.8 1.5h0m7-.2h0m3-.4h0m.1 .7h0m3.6 .2h0m1.6-.6h0m.5 .1h0m-35.9 .9h0m14.9 .4h0m8.5-.2h0m1.1 .1h0m.8 .3h0m3.5-.2h0m6.9-.2h0m2.7 .3h0m3.1 .1h0m-45.9 .8h0m1.4 .2h0m.2-.5h0m5.7-0h0m.7-0h0m16.7-.2h0m5.9 .1h0m.6 .1h0m11.4-0h0m-43.5 1.1h0m21.8 .2h0m1-.5h0m8.3 .4h0m2.2-.4h0m2.5-.1h0m11.9 .5h0m-49.6 .7h0m6.1 .6h0m11.1-.6h0m16.3-.1h0m9.7 .4h0m-42.5 1.1h0m11.7-.5h0m29.8 .7h0m-39.4 1.1h0m18.5-.4h0m1.7-.1h0m3.4-.1h0m15.3-.3h0m1.1 .7h0m2.1-.2h0m-45.2 1h0m5.5 .2h0m5.6-.8h0m11.4 0h0m6 .7h0m.3 .2h0m9.5-.5h0m.8-.2h0m1.8 .5h0m1.1-.1h0m-39 1.2h0m4.8-.1h0m4.5-.6h0m1.4 .8h0m3.4-.7h0m7.4 .1h0m1.5 .5h0m1.9-.1h0m14.5-.5h0m-43 1.4h0m3.1-.3h0m.6 .1h0m2.6 .3h0m8.6 0h0m21.2-.5h0m14.1 0h0m-48.5 1.6h0m7.2-.6h0m4.2 .2h0m2.8-.4h0m.1 .8h0m2-.7h0m3 .7h0m2-.8h0m26.2 .3h0m-43.7 .7h0m12.5 .1h0m.6 0h0m-17.3 1.3h0m.7-.1h0m5.3 .2h0m1.8 .4h0m1.5 0h0m13.3-.2h0m12.1 0h0m6 .1h0m-38 .9h0m9.6-.7h0m5.4 .3h0m26.5 .2h0m-43.2 1.2h0m9.2 .2h0m3.3-.8h0m6.5 .3h0m9.9-.1h0m.2 .4h0m1.3-.3h0m-33.3 1.5h0m4.9-.5h0m8.2-.3h0m4 .4h0m10.7 .4h0m5 0h0m.2-.4h0m-34.5 1h0m.9-.5h0m1.5 .8h0m0-.4h0m5.7-.3h0m18.1 .1h0m3.7 .8h0m10.6-.5h0m2.7-.4h0m-40.5 1.9h0m2.4-.6h0m1.9-.4h0m8.7 .6h0m3.6 .3h0m11.6-.1h0m5.7 .1h0m15.1-.4h0m-44.6 1.4h0m3.8-.6h0m-18 1h0m27.9 .1h0m3.9-.3h0m3.8 .1h0m7.1 .6h0m8.7 .2h0m4.8-.5h0m-61.1 1.5h0m4.8-.1h0m4.6-.2h0m11.9-.4h0m3.5-.1h0m18.8 .2h0m2.5-.4h0m3 .6h0m2.4-.3h0m9.7 .2h0m-63.5 1.5h0m3.7-.2h0m16.8 .2h0m34.6-.1h0m-53.2 .9h0m10.7-.8h0m12.7 .8h0m23.8-.2h0m4.4-.4h0m-49.9 1.1h0m4.1 .6h0m25-.7h0m4 .5h0m7.8-.6h0m7.7-0h0m6 .6h0m-1.6 .3h0m3.5 .1h0m2.6 .6h0m0-.4h0m-38 1.3h0m2.1 .2h0m3-.7h0m18.5 .3h0m5.2 .3h0m-46 .6h0m14 .4h0m2.9 .2h0m7.5-.2h0m12.4-.3h0m.1 .1h0m7.9-.3h0m-51.2 1.7h0m18.4-.2h0m25.1-.2h0m7.9-.1h0m3.2 .1h0m2.8 .3h0m3.1 .1h0m2.8-0h0m.1-.2h0m-57.5 .4h0m18.7 .6h0m.7-.4h0m7.7 .1h0m2.6 .4h0m.9-.2h0m12.9 .1h0m13.1-.3h0m-40.8 1.4h0m1.8-.7h0m11.8 .8h0m5.6-.8h0m15.2 .1h0m3.5 .2h0m2.1 .5h0m-43.9 .6h0m6.6 .5h0m33.7-.1h0m-28.5 .8h0m4.7-.4h0m25.6 .5h0m2-0h0m.9-.4h0m-43.6 .8h0m4.2 0h0m9.8 .6h0m9.7-.2h0m1.6-.1h0m-31 1.5h0m9.3-.8h0m24.6 .1h0m-26 1h0m2.3 .1h0m32.3 .3h0m4.9-.6h0m-36.7 1h0m10.3 .4h0m20.7 .5h0m7-.1h0m-39.5 .6h0m12.3-.4h0m12.1 .2h0m3.3 .3h0m-37.4 .8h0m50 .3h0m-50.2 .4h0m54.2 .3h0m-53.4 1.5h0m8.9-.9h0m19.5 .2h0m17.6-.2h0m-42.5 2.9h0m18.6-.8h0m2.4 .1h0m13.6-.1h0m-34 1.1h0m7.7 .8h0m.5 .2h0m24.6-.1h0m-28.9 2h0m28 1.4h0m4.7 .2h0m-15.7 1.1h0m1.3-.5h0m4.6 .1h0m5.1 .2h0m5.3 .2h0m-16.8 1h0m3.3-.2h0m3.3 .4h0m-10.2 .6h0m11.4-.4h0m-2.1 1.4h0m-6.4 .6h0m13.8-.1h0m-26.7 1.3h0m13.3 1.8h0"/><path id="c2b0" d="M41.9 9.6h0m19 .9h0m-5.8 1h0m8.6 .5h0m3.6-.5h0m8.4 3.5h0m1 .3h0m3.3 2.4h0"/><path id="c2b1" d="M66.8 11.3h0m-11.1 .7h0m25.4 2.4h0m-3.2 .3h0m.6 .8h0m.4 1.3h0"/><path id="c2b2" d="M45 6.8h0m6.6 2.5h0m4.5-.6h0m-12.7 1.6h0m26.9 3.9h0m-.9 .7h0m2.3-.2h0m2.1-0h0m5.7 1.7h0m-3.9 1.7h0"/><path id="c2b3" d="M43 8.9h0m13.3 .1h0m.2 .4h0m2.8 1h0m.7-.2h0m.1 .3h0m5.6 .8h0m-22.8 1h0m11.2-.7h0m10.1 2.1h0m7.2-0h0m1.8 .9h0m8.1 3.2h0"/><path id="c2b4" d="M47.1 10.2h0m8.2 .8h0m10.1-.3h0m-1.3 2h0m6.7 1.6h0m6.9 5.6h0"/><path id="c2b5" d="M56.8 8.2h0m-13.9 1.2h0m17.6 2.9h0m.7-.7h0m8.6 1.5h0m10.5 4.3h0"/><path id="c2b6" d="M48.5 8.2h0m-3.3 1.2h0m13.2 1.8h0m-18.8 .9h0m22.8-.1h0m5.5 1h0m10.3 2.7h0m-2.7 1.1h0m7.8 2.1h0m-3 1.7h0"/><path id="c2b7" d="M48.8 7.5h0m16.5 1.5h0m-23.9 3h0m35.9 4.2h0m2.8 4.1h0"/><path id="c2b8" d="M55.8 9.8h0m13.6 4.2h0m9 .5h0m-9.8 .8h0m6-.4h0m-2.1 .9h0m9.7 1.6h0"/><path id="c2b9" d="M53 7.2h0m1.6-.2h0m3.8 3h0m.6-.1h0m3.5 2.2h0"/><path id="c3m0" d="M57.5 8.4h0m-10.5 .2h0m20.2 .7h0m-26.7 .4h0m17.9 .1h0m-9.9 1.5h0m8.1-.1h0m3.2 0h0m6.3 .1h0m4.7-.3h0m5.7 .5h0m-30.6 .4h0m17.5 .6h0m3.2-.3h0m-0-.5h0m1 .3h0m-20.5 .7h0m2.2 .1h0m7.1 .6h0m5.6-.4h0m-21.7 1.3h0m10.5-.1h0m1.2 0h0m1.1 .2h0m24.8-.3h0m-28.5 1.3h0m5.2-.4h0m4.3 .2h0m11.7-.6h0m-25.2 1h0m6.3 .7h0m21.1-.3h0m1.4-.1h0m-18 1.4h0m6.1-.2h0m6.8-.5h0m4.3 .4h0m-30.8 .9h0m5-.3h0m5.6 .2h0m1.7 .2h0m3.3 .2h0m8.8-.7h0m7.1 .8h0m-24.2 .6h0m19.6 .5h0m7-.6h0m-20.3 .8h0m14.9 .5h0m-31.1 .8h0m6.8 .1h0m1.9 .5h0m.5-.5h0m12.6-.1h0m13.2 0h0m-40 1.3h0m9.8-.5h0m11.1 .2h0m10.1 .1h0m13-.3h0m3.8 .4h0m-35 1.3h0m5.2-.8h0m-0 .9h0m2.2-1h0m26.2 0h0m-33.4 1.9h0m6.8-.7h0m8.8 .1h0m7 .3h0m5.6 .1h0m.5-.2h0m-19.7 .5h0m6.8 .8h0m-.4 .2h0m9.6 .6h0m7.4 .1h0m3.8-.5h0m-35.4 .9h0m2.2 .7h0m3-.3h0m2.6-.3h0m2.8 .2h0m.8 .3h0m2.6 .1h0m19.4-.6h0m-20.8 1h0m2.1-.1h0m9.9 0h0m1 .5h0m-33.3 1.3h0m11-.8h0m.6 .8h0m8.3-.2h0m7.9 .1h0m3.5-.1h0m-22.3 .4h0m1 .7h0m8-.8h0m.8 .4h0m11.4 .4h0m-30.6 .5h0m5.4 .3h0m11.9-.1h0m4.8-.3h0m16.2 0h0m-38.9 1.6h0m2.6-.3h0m3.8 0h0m-6.9 1h0m1.3-.1h0m1.1 .1h0m13.5-.2h0m8.7-.1h0m-14.6 1.3h0m2.4-.1h0m2.1 .4h0m1.5-.1h0m-15.3 .3h0m12 .2h0m13.8 .1h0m.1 .5h0m6.8-.3h0m5.5 0h0m-26.8 1.2h0m21.4-.4h0m-32.3 1.4h0m38.6 .1h0m-58.8 .6h0m10.8 .6h0m1.5-.7h0m2.8-.1h0m19.1 .1h0m10.3-.2h0m2.5 0h0m12.3 .5h0m-23.2 .6h0m9.4-.1h0m11.9 .2h0m2.6 .5h0m-64.8 .6h0m1.6-.3h0m1.9 .3h0m12.3 .4h0m3.8-.3h0m28.4-.4h0m.2 0h0m3.8 .7h0m9.5 1h0m1.4-.6h0m-48 1.3h0m3.9 .1h0m11.5 .3h0m26.7-.5h0m.1 .1h0m1.3 .4h0m-51.5 .8h0m9.7 .3h0m33.1-.4h0m11.3-.5h0m.4 .2h0m4.5 .3h0m-4.9 1.3h0m-7.2 .7h0m6.9-.3h0m2.7-.3h0m-61.4 1.6h0m19.5-.3h0m.9 .7h0m5 0h0m-22.4 .7h0m8.4-.6h0m10.1 .7h0m-18.8 .3h0m17.5-.1h0m14.7 .8h0m-31.7 .5h0m7.4-.2h0m15.7-.1h0m10.2 1.5h0m8.9 .2h0m4.7-.1h0m-47.9 .5h0m5.3-.1h0m5.9 2h0m42.1-.6h0m-29.5 .6h0m2.5 .1h0m19.4 .5h0m-42.4 1.3h0m11.3-.3h0m6-.1h0m3 .1h0m9.4 0h0m-29.7 1h0m5.2-.1h0m7.7-.2h0m-2.8 .7h0m15.3 .5h0m-24.7 .8h0m1.8 .6h0m.6 2.4h0m6.5 .6h0m31.5-.2h0m-39.8 .4h0m10 1.9h0m3.1-.5h0m3.3-.1h0m-10.3 1.3h0m1.7 .1h0m4.2 .3h0m11.4 .9h0m20.3-.2h0m-36.7 .5h0m27.7-.1h0m-14.7 2.9h0m3.3 .3h0m-12.2 .8h0m8.4 .6h0m5 .5h0m3 1h0m-7.7 4.5h0m5.4-.2h0"/><path id="c3m1" d="M45.8 7.6h0m-1.7 1.4h0m3.9 .1h0m12.6 .3h0m-9.8 .8h0m5.6 .2h0m-13.8 .6h0m.8 .2h0m2-.7h0m8.7 .9h0m6.8-.7h0m13.8 .2h0m-20.7 1.2h0m1.4-.5h0m9.7 .1h0m-19.3 1.5h0m12.2-.1h0m-11.3 1.3h0m7.9-.1h0m-9.2 .6h0m13 .2h0m6.3 .3h0m-26.9 .8h0m8.8 .3h0m8.3-.5h0m1.4 0h0m1.7 .3h0m13.1-.2h0m7.3 .2h0m-37.7 .6h0m11.4-.3h0m7.9 .4h0m1.4 0h0m1.1-.1h0m.9-.3h0m-20.8 1.1h0m37.3 .1h0m-41.6 1.4h0m14.9 .3h0m5.2-.3h0m-2.6 1.1h0m.6-.4h0m3.9 .4h0m8.5-.3h0m3.5 .3h0m4.2-.1h0m2.2-.5h0m-25.6 1.3h0m6.3-.1h0m11.7-.4h0m1.6 .5h0m3.9 .3h0m6.4 .2h0m-21.1 .6h0m6.9-.1h0m2.1-.5h0m4.4 .4h0m6.9 .4h0m1.5-.3h0m-27.4 .6h0m4.8 .1h0m2 .6h0m9 .1h0m-10.9 .7h0m-21.3 1.3h0m11.9-.8h0m4.6 .6h0m16.4-.1h0m1.7-.3h0m9.4 .2h0m-37 1.3h0m13.3-.8h0m.4 .5h0m1.3 .2h0m11.4-.2h0m-44.4 .5h0m15.4 .2h0m21.6 .7h0m8.3-.8h0m-27.5 1.1h0m2.2 .3h0m.3 .4h0m3.6-.7h0m11.8 0h0m.7 .5h0m13.9-.3h0m-26.4 1.4h0m12.4-.7h0m11.4 .5h0m6.9-.4h0m-26.2 1.7h0m5.8-.5h0m4.7 0h0m4.1-.3h0m2.6 .4h0m-23 1h0m1.2 .1h0m3.1 .2h0m9.8-.4h0m3.9 .3h0m3.3-.3h0m1.4 .5h0m-40 .4h0m31.8 1.5h0m1.6 .1h0m4.5-.5h0m-11.2 1.4h0m.5 0h0m7.3-.2h0m2.5 0h0m-29.4 .6h0m30.9 0h0m9 .4h0m-42.9 1h0m13.7-.3h0m5.4 1.4h0m3 .3h0m4.8-.2h0m-44 .5h0m1.2 .7h0m46.1-.7h0m-31.2 1h0m9.7-.1h0m15.5 .4h0m.4 .2h0m6.7 .1h0m11.9 0h0m.2-.7h0m-41.2 1.1h0m25.7-.3h0m.5 .6h0m7.6 .1h0m5.2 .2h0m-57.8 .9h0m6-.2h0m36.9-.4h0m1.8 .4h0m-51.1 1.3h0m8-.8h0m7.2 0h0m36.2 .5h0m7.6-.2h0m2.3 .6h0m1.4-.5h0m-55.8 .8h0m3.3-.3h0m8.3 .4h0m-20.1 1.6h0m5.2-.4h0m18.7 .1h0m3.9-.2h0m27.5-.1h0m8.9-.2h0m1.1-.2h0m-47.7 2h0m13.4-.5h0m31.5 0h0m-61.2 1h0m10.3 0h0m.1-.3h0m7.6 .4h0m1.5-.2h0m.7 .5h0m7.4-.4h0m28.5 0h0m-48.4 .9h0m5.3-.1h0m41.2-.2h0m-39 1.5h0m6.3-.3h0m4.9-.2h0m-27.8 1h0m6.1 .5h0m10.3-.1h0m14.6 .4h0m-14.6 .3h0m.1 0h0m7.7 1h0m3.1 .2h0m-19.2 .9h0m12.4 .1h0m9-.3h0m2.4 .9h0m10.1 0h0m-31.4 .2h0m6-.2h0m1.4 .5h0m8.7 .2h0m-3.8 1.2h0m.5-.3h0m-.2 .5h0m6.4 0h0m-13.5 .9h0m4.9 .7h0m14.9 0h0m-15.1 .4h0m-5.2 1h0m-1.7 1.6h0m-1.2 1.1h0m10.9-.1h0m16.1 .1h0m-22.8 .4h0m2.8 1.6h0m2.1-.3h0m6 .4h0m10.3 .9h0m.3 .1h0m-15.6 .6h0m1.5 0h0m-5.9 .9h0m43.5 0h0m-42.2 1.3h0m4.6-.1h0m28.5 2.1h0m-15.1 1.6h0m.9 1.5h0"/><path id="c3m2" d="M47.7 8.1h0m1.9-.5h0m-2.5 1.7h0m.5-.4h0m1.4-.2h0m4.2-.1h0m12.7 .7h0m1.2-.4h0m-11.7 .9h0m2.6 .4h0m2.3-.1h0m3.3-.1h0m.3-.3h0m-21.1 1.2h0m2.8 .1h0m4-.2h0m2.5 .1h0m10.8 .5h0m3.1-.8h0m2.4 .5h0m-11.5 .7h0m17 .4h0m-31.5 .6h0m7.9 0h0m6 .6h0m2.5-.9h0m9.7 .5h0m-16.4 1h0m2.4-.4h0m.4 .9h0m.4-.8h0m6.1 .2h0m3.7-.4h0m8.8 .6h0m-27.1 .4h0m2.7 .9h0m1.2-.5h0m3.9 .1h0m25.9 .2h0m-35.5 .6h0m10.3 .7h0m10.8-.6h0m4.5 .5h0m6.1-.5h0m2 .2h0m-26.3 .9h0m4.4 .5h0m6.1-.7h0m6.5 .3h0m1.6 0h0m2.1 0h0m3.5 .2h0m-34.9 .8h0m21 .3h0m4.2-.8h0m1.5 .3h0m-24.7 .7h0m11.3 .8h0m5.4-.9h0m12.5 .8h0m-16.2 .8h0m5.9 0h0m.6 .1h0m1.1-.6h0m-16.8 1.2h0m4 0h0m11.8-.2h0m1.1 .2h0m13 .7h0m-39.5 .4h0m12.6-.4h0m8.3 .6h0m5.5-.6h0m5.2 .9h0m5-.1h0m-26.1 .3h0m16.1-.1h0m1.4 .7h0m3.8-.4h0m6.3 .5h0m1.2 .1h0m.7-.6h0m1.6-.1h0m-36.7 .8h0m7.6 .3h0m6.3 .6h0m3.1-.7h0m10.1 .4h0m1.7 .3h0m10.9 0h0m-40.4 .8h0m15-.6h0m2.2 .5h0m3.7-.2h0m11.7-.1h0m.8 .6h0m9-.1h0m-40.6 1.1h0m.7-.3h0m1.6 .1h0m2.8 .1h0m18.7-.5h0m9.7 .5h0m3-.1h0m-35.1 1h0m24.3 .1h0m5-.6h0m5 .8h0m2.5 .9h0m-29.4 .1h0m.1 .9h0m20.3-.4h0m4.9 0h0m-18.8 2.1h0m1.4-.4h0m4.5 .6h0m16.2-.8h0m1.2 .6h0m-26.9 1.4h0m19.9-.6h0m2.3 .4h0m-32.3 1h0m1.4-.2h0m2.8 0h0m8.3 0h0m3.5-.6h0m9.4 .8h0m2.3 0h0m9.7-.4h0m-52.7 .9h0m4.1-.1h0m2.4 .1h0m20.1 .3h0m.3-.5h0m.5 .3h0m22.4 .1h0m-34 .8h0m12.3 .1h0m6.4 .4h0m1.5-.6h0m1.6 0h0m2.6 .5h0m6.7-.2h0m-22 .6h0m3 .3h0m2.6 .2h0m4.4 .3h0m6.5-.8h0m-22.8 .9h0m14.3 .9h0m8.6-.6h0m-47.9 .9h0m5.9 .2h0m.6 .1h0m27.2-.2h0m20.2 .6h0m3.8-.2h0m-51.6 .6h0m17.6 .2h0m8.7-.2h0m13.9-.1h0m11.6 .3h0m-65.5 1.2h0m0-.1h0m8.5-.2h0m10.8 .3h0m25.9-.3h0m.9 .2h0m5.9-.2h0m7.7 .4h0m5.3-.1h0m-50.4 .8h0m11 .2h0m6-.1h0m2.8 .2h0m23.9-.2h0m-57.2 1h0m14 .1h0m9.8-.3h0m1.7 .3h0m7.4-.5h0m15 .8h0m13.6-.6h0m-49.4 1.3h0m3.6 .1h0m32.7-.3h0m2.3 .2h0m1.5-.4h0m5.6 .4h0m.4-.1h0m.5-.3h0m-47.5 .8h0m13.6 .6h0m10.2 0h0m13.7 .2h0m5.4-.5h0m8.2-.3h0m.2 .5h0m-58.5 1.3h0m5.5-.1h0m1.7 0h0m11-.3h0m3.8-.1h0m9.5-.2h0m3.5 1.3h0m14.7 .5h0m-31.7 .4h0m34.2 .6h0m-44.1 .7h0m.5-.6h0m14.7 0h0m3.3 0h0m25 .6h0m-54.9 .8h0m20.5 .2h0m22.3-.5h0m12.4 .2h0m2.7-.2h0m-60.4 1.1h0m5.1 .5h0m22.3-.4h0m2.4 .5h0m29.8-.8h0m-54.9 1.3h0m.4-.2h0m-1.4 1.8h0m22.1-.4h0m15.3 0h0m3.1 1.1h0m-37.6 1.3h0m3.3-.6h0m9.4-.1h0m1.5-.3h0m6.9 1h0m-21.4 .5h0m6.7-.1h0m2.1-.2h0m8.6-.1h0m19.6 0h0m-34.6 1.7h0m20.5-.3h0m-17.4 1h0m26.1 .5h0m-23.2 .7h0m1.2-.6h0m1.6 .6h0m5.3-.3h0m-8.1 1.5h0m29.5-.1h0m-15 .3h0m-5.8 1h0m2.8 1.6h0m-7.8 .6h0m1.8 .6h0m8-.2h0m24.7 .2h0m-39.1 .3h0m37.3 .6h0m8.2 .1h0m-36.5 .2h0m14 .4h0m-8.8 1.1h0m13 0h0m-5.7 .5h0m3.8 .5h0m-4.9 3.3h0m-5.8 2.4h0"/><path id="c3m3" d="M45.3 7.9h0m2.6-.1h0m5 .1h0m2 .3h0m6.2-.3h0m5.6 .2h0m-6.2 .9h0m5.8-.4h0m-23 1.9h0m.7-.4h0m4.9-0h0m9.1-.2h0m7.5 .6h0m1-.5h0m-26.3 1h0m6.8-.5h0m.8 .4h0m1-.1h0m13 .2h0m1.1-.1h0m4.3-.1h0m3.7-0h0m0 .7h0m-28.5 .7h0m.4-.3h0m4.7-.1h0m7.4-.1h0m-17.3 1h0m32.4-.1h0m7.1 .4h0m-20.8 1.4h0m1.4-.5h0m12.7 .2h0m9-0h0m-41.7 .8h0m17.1 .4h0m7.2 .2h0m9.7-.7h0m.4 .5h0m-34.8 1.1h0m17.7-.9h0m17.8 .1h0m1 .3h0m7.7-0h0m-18.5 .7h0m1.7 0h0m-14.8 1.4h0m10-.2h0m2.6 .2h0m-6.3 .8h0m18.9 .2h0m8.4-.4h0m-39.9 1.7h0m11.2-.6h0m9.7 .1h0m7.6 0h0m4 .4h0m-29.6 .6h0m8.3 0h0m10.5 .3h0m14.7-.1h0m-30.3 .6h0m3.6 .1h0m-6.8 .9h0m1.7-.1h0m1.9 .9h0m28.8 .5h0m1.3 0h0m-29.3 .8h0m3 0h0m1.4 .7h0m9.7-.9h0m-17.7 1h0m3.6 .4h0m.6 .4h0m8.9-.5h0m12.5 .2h0m5.7 .4h0m1.4-.3h0m-30 1.3h0m9-.1h0m19.7 0h0m-30.2 .6h0m2.2 0h0m9.1 .2h0m5.8 .4h0m12.6-.1h0m1.6-.1h0m-26.7 .7h0m1.7 .2h0m2.1 .3h0m10.3-.1h0m13.2-.7h0m-14.6 1.1h0m3.8-.1h0m7.3 .4h0m2.5 .1h0m2.5 0h0m.6 .2h0m-40.9 .4h0m34.5 0h0m.7 .4h0m2.8-.7h0m1.4 .9h0m-42.1 .3h0m16.3 .7h0m9.8-.5h0m-31.2 1.5h0m44.2-.7h0m-43.7 .9h0m16.7-.1h0m.3 .8h0m13-.4h0m6.2-.4h0m11.8 .7h0m-45 .7h0m30.3 .5h0m12.5-.8h0m-52.9 1.5h0m7.1 .1h0m6.4-.1h0m4.8 .2h0m35 .1h0m-42.7 .3h0m.7 .3h0m15.4 .3h0m8.8-.1h0m8.8 .1h0m8.2-.7h0m-58.2 1.7h0m41.9-.5h0m.5-.2h0m12.4-.1h0m-57.4 1.3h0m17 .1h0m30.1 .1h0m1 .2h0m2.3 .1h0m1.2-.4h0m4.3 .2h0m2 0h0m-20.6 .4h0m10.1 .3h0m1.7 .2h0m3.9-.2h0m-55.6 1.2h0m2.9-.4h0m4.3 .7h0m10.3-.8h0m25.9 .6h0m4.8-.1h0m12.2 .3h0m-61.3 .6h0m46.6 .2h0m11.5-.5h0m-0 .2h0m-59.1 .7h0m7.6 .1h0m1.6 .7h0m17.9-.2h0m4.6-.4h0m21.5 .2h0m.6 .2h0m7.2-.4h0m-60.9 1.4h0m17.7 .2h0m3.6-.2h0m5.9-.3h0m32.9 .3h0m1-.3h0m-42.8 1.4h0m8.5-.4h0m.7 .6h0m6.6-.6h0m-31.2 1.1h0m12-.2h0m16.9 .6h0m1.7 .1h0m-22.9 .1h0m.7 .5h0m2.4 .4h0m41-.7h0m-31.1 1.1h0m2.6 .6h0m21.2-.4h0m10.4-.3h0m-30.6 .8h0m1.7 1.1h0m3.9 .4h0m-11.5 1.3h0m-12.2 1.5h0m44.1 .6h0m-42.3 .2h0m1.7-0h0m1.7 .8h0m34.8-.2h0m-40.7 .4h0m.4 .7h0m5.6-.6h0m1.5 1.4h0m4.8 .4h0m-.4 .7h0m4.1-.2h0m5.1-0h0m-0 .5h0m-17.8 .5h0m24.2-.4h0m-19.1 2.7h0m6-.4h0m5.3-.1h0m-14.8 1h0m9.6 .4h0m-4.9 1.5h0m-2.4 .8h0m11.6 1.3h0m9.8 .1h0m-19.2 .7h0m20 .4h0m1.8-.1h0m-5.1 4h0m-.4 .9h0m.1 3.6h0"/><path id="c3m4" d="M52.6 7.1h0m9.2 .1h0m-8.6 1.4h0m6.9 .7h0m-19 .7h0m17.5 .2h0m12.3-.7h0m-22.3 1.2h0m2.9 .3h0m20.8 .3h0m-20.4 .6h0m12.5 .3h0m1.1-.2h0m3 .4h0m-25.8 .4h0m1.8 .1h0m.3 .1h0m12.4 .1h0m.6 0h0m11.2-.3h0m-11.6 1.6h0m3.4-.5h0m2-.3h0m7.4 .2h0m.8 .3h0m-30.6 1.2h0m2.3-.8h0m.4 .9h0m5.4-.1h0m4-.5h0m4.4 .5h0m1.7-.2h0m6-.3h0m7.4 .3h0m1.4-.4h0m-33.7 1.4h0m2.3 0h0m2.3-.5h0m6.2 .8h0m16.2-.2h0m.4-.4h0m5.9-.1h0m10.1 .7h0m-38.3 1.1h0m.7-.2h0m21.3 0h0m2.5-.2h0m-27.4 .8h0m18.9 .2h0m3 .3h0m3.1 .1h0m.5-.9h0m7.1-.1h0m-31.2 1.1h0m22.5 .8h0m13-.6h0m3.6 .4h0m-50.5 .9h0m13.2-.4h0m.2 .6h0m14.1-0h0m17.9-.7h0m-17.6 1.2h0m3.5 .1h0m7.2 .5h0m-31.8 1h0m33.3-.6h0m-26.6 1.4h0m29.5-.7h0m2.6 .8h0m2.8-.5h0m-40.2 1.4h0m4.6 .2h0m1.4-.5h0m7.8 .4h0m-11.3 1.1h0m1-.8h0m21.2 .5h0m12.9-.1h0m-13.2 .9h0m8 .5h0m4.7 0h0m.4-.5h0m-14.1 .8h0m12.9 .1h0m4.6-.2h0m-31.7 1.9h0m4.2-.3h0m21.7 .3h0m8.5-.2h0m-22.7 .4h0m19.6-.1h0m3.2 .2h0m-38.3 1.5h0m3.1-.4h0m10.4 .4h0m3.4 0h0m3.4-.6h0m-15.9 1h0m6.1 .3h0m1 .2h0m13.5 .1h0m5.7-.1h0m5.1-.4h0m2.7 .6h0m-33 .1h0m4.3 .3h0m10.7 .5h0m1.7-.7h0m1.8 .6h0m7.5-.4h0m2.4-.2h0m-30.5 1.7h0m3.4-.4h0m17.5-.3h0m-19.3 1.5h0m5.7-.1h0m22.4 .3h0m.7-.4h0m-25.7 1.3h0m4 .1h0m10.2-.2h0m9.8 0h0m-26.9 .6h0m5 .6h0m9.1-.8h0m2.3 1h0m.9-.2h0m-44.6 1.2h0m31.9-.2h0m7.2-.5h0m-18.7 1.5h0m11.9-.6h0m14.5 .4h0m-54.7 1.2h0m31.2 0h0m14.2 .1h0m9.3-.1h0m-3.2 1.2h0m10.1-.8h0m2.5 .3h0m2.2-.2h0m-45.7 .7h0m30.1 .7h0m-46 1.3h0m5.3-.1h0m30-.9h0m20.4 .2h0m-62 1h0m25.3 .6h0m11.7-.4h0m26-.2h0m-56.6 1.3h0m12.1 .4h0m7.5-.1h0m8.2-.1h0m19.9-.4h0m-51.9 1.4h0m10.9-.4h0m3.1-.1h0m.4-.2h0m13.5 .1h0m-24.3 1.8h0m.7-.6h0m11.4 .3h0m7.1-.5h0m7.9 .8h0m6.1-.7h0m11.3 .7h0m4.5 .1h0m4.1-.9h0m-53.7 1h0m3.9 .2h0m8.9 .3h0m9.1 0h0m10.3 0h0m23.7 0h0m-57.4 1.2h0m8.8-.4h0m.3 .3h0m15.9-.1h0m-26.3 .8h0m10-.2h0m10.7-.2h0m-15 1.2h0m18.8 .6h0m20.2-.1h0m-30.3 .3h0m14.1 .6h0m2.6-.2h0m-22.2 .6h0m2.5 1.1h0m9.2 .9h0m9.5-.2h0m9.4-.5h0m-31.9 .8h0m.4 .5h0m-3.3 .9h0m3.6-.1h0m.7 .2h0m6.7 1.2h0m11.2-.3h0m2.6 0h0m-13.8 1.4h0m-.2 .9h0m.5 .2h0m.4-.4h0m8.6 0h0m.4-.4h0m1.9 .7h0m-7.2 .6h0m26.5 .2h0m-35.3 2.1h0m2.1 .1h0m2.4-.8h0m14 .7h0m-19.3 .6h0m4.8-.1h0m3.3-.2h0m1.1-.1h0m-1.2 2.4h0m.5 1.1h0m6.1 .5h0m27.4 .9h0"/><path id="c3m5" d="M48.5 8.4h0m2.2-.2h0m9.6 1.2h0m5.8-.4h0m-23.2 1h0m-2.2 1.1h0m12.1 .3h0m.7-.9h0m.2 .7h0m1.4-.6h0m1.9 .2h0m9 1.2h0m-12.3 .8h0m2.7 .5h0m2.5-.2h0m9.7 .6h0m-25.4 1.4h0m5.2-.6h0m11.1 .2h0m2.9 1.2h0m13.4 .4h0m1.3 .1h0m-34.7 .5h0m2.1 0h0m9.4 .2h0m8.6-.4h0m6.1 .8h0m.5-.2h0m8.1-.5h0m.9 .1h0m1.5-.4h0m-22.1 1.6h0m3.6-.1h0m-21.5 .6h0m11.6 .9h0m3.5 .1h0m13-0h0m9.5 .2h0m.6 .2h0m.1-.3h0m.2 .2h0m-17.3 1.4h0m1.7-.8h0m-16.8 1.5h0m5.4-.3h0m5-.2h0m15.9 .2h0m1.2 .7h0m-21.9 .7h0m1.5 0h0m6.9-.5h0m16.6 .1h0m-18.5 1.3h0m9.5 0h0m7.8 0h0m1.1 .3h0m.2-.5h0m8.3-.1h0m-30.3 1.6h0m29.8-.3h0m-39.3 1.1h0m28.6-.5h0m1.1 .9h0m5.1-.1h0m-37 .6h0m8.3-.4h0m5.3 .4h0m5.9-.2h0m5.2 .5h0m2.7-.6h0m13.3 0h0m-37.4 1h0m-6.3 .9h0m5.7 .8h0m18.5-.4h0m8.6-.4h0m1.3 .2h0m.4 .3h0m7.2-.3h0m-44.2 1.2h0m11.4 .2h0m18.5 1.3h0m6.1-.1h0m-13.2 .7h0m2.7-.2h0m.6-.2h0m5.7-0h0m5.5 .5h0m.4-.3h0m-36.7 1.6h0m10.6-.2h0m20-.3h0m.7-.3h0m9.2 .7h0m-44.4 .3h0m16.3 .1h0m5.4 .6h0m.2-0h0m2-.4h0m17 .2h0m-23.6 .8h0m15.1-.2h0m3.3 .3h0m9.1-.5h0m-57.8 1.3h0m36 .6h0m4.2-.3h0m19.5-.4h0m3.4-0h0m-30.7 1h0m.1-.2h0m.6 .2h0m13.8 .4h0m4.9-.2h0m2.9-.3h0m5.3 .3h0m1.9 .3h0m-51.1 1h0m30.2-.5h0m5.4 .6h0m1.4 0h0m2-.9h0m-21.4 1.4h0m12.2 0h0m15.4 .2h0m-21.3 .6h0m22.2 .2h0m-59.5 1.5h0m24-.2h0m10 .2h0m15-.8h0m8.3 .6h0m-41.9 .4h0m32.7 .4h0m2.5-.4h0m7.7 .1h0m-58.8 1.7h0m26.2-.8h0m18.8 .3h0m7.1 .4h0m3.8-.2h0m1.3 .1h0m1.7-.5h0m-58.5 1.6h0m4.3 .1h0m27.4-.1h0m-7.1 .4h0m4.7 .3h0m28.3 .4h0m2.6-0h0m-48.6 .7h0m11.9 .3h0m28.5-.9h0m4.1 .3h0m-46.1 .9h0m8.1 .4h0m14.8-.2h0m23.9-.1h0m1.2 0h0m-55.9 1.4h0m6.6-.3h0m.7-.1h0m6.7 .1h0m1.5-.2h0m.3-.1h0m39.1 .9h0m-54.2 .6h0m1.3 .1h0m2.4 .1h0m26.3-.5h0m-26.5 1.7h0m8.4-.4h0m8.2 .2h0m-22.5 1.2h0m5.3 .2h0m12.6 1.2h0m3.9 .6h0m1.9-.2h0m3.3-.3h0m-8.3 1.2h0m-3.2 .7h0m11.4 .4h0m23.2-.5h0m-38.5 1.4h0m8.9-.4h0m.5 .5h0m1.6 .2h0m-3.4 .9h0m.6-.2h0m.4-.1h0m1.6 .6h0m-14.9 1.6h0m13.7-.5h0m26.1 .8h0m-35.8 1.2h0m4.9 .4h0m1.2 .1h0m3-.7h0m17.5-0h0m9.2 1.2h0m-13.9 .8h0m-12.9 1.3h0m-3.1 1.2h0m19.3 .3h0m-6.6 1.4h0m2.1 4h0m0 3.1h0m2.2-.1h0m-.6 1h0"/><path id="c3m6" d="M44.6 8.3h0m24.8 0h0m-25.1 .9h0m10.5-.6h0m10.7 .8h0m-11.1 1.2h0m-15.6 1.6h0m19.6-0h0m-10.9 .5h0m13.6 1.3h0m7 .5h0m-30.3 .5h0m7.3 .4h0m9.2-.2h0m5.5-.1h0m3.6 .1h0m5-.6h0m6.7 .4h0m.7 .4h0m-35.6 1h0m.3-.5h0m22.3 .1h0m11.4-.1h0m4.1-.2h0m-31 1.2h0m11.3 .1h0m9.5 .1h0m-6.3 .5h0m.5 .8h0m15.7-.2h0m-15.1 1.2h0m-23.8 .9h0m2.5-.3h0m5.8-.4h0m2 .4h0m12.6 .5h0m18.5-.6h0m-42.3 1.2h0m8.7-.4h0m12 .5h0m1.1 .1h0m9.6-.6h0m1.2 .4h0m-32.6 .9h0m7.4 .3h0m19.6-0h0m4-.7h0m4.3-.1h0m3.5 1h0m-24.2 .2h0m7.8 .5h0m8.6 .3h0m1.5-.9h0m8.1-0h0m-36 1.5h0m8.6-0h0m1.5 .2h0m3.2 .2h0m.2-.5h0m12.6-.2h0m5.6-.1h0m2.4-0h0m.3 .2h0m3.6 .4h0m-41 .4h0m11.4 .5h0m22.4-.5h0m7.3 .7h0m-26.5 .5h0m1.1 .1h0m2.2 .2h0m.6-.5h0m5.6-.1h0m12.7 .3h0m6.1-.3h0m-46.3 1.3h0m13.4-.3h0m0 .5h0m9.6 .4h0m4.1 0h0m4.1-1h0m3 .2h0m3.4-.2h0m3.9 .7h0m3.5-.2h0m-52.4 .9h0m26.2 .4h0m.1 .1h0m3.2-.6h0m23.2 .2h0m.2-.5h0m2.4 .3h0m-33.7 1.7h0m6.1-.5h0m.5-.3h0m16.6 .2h0m.4-.1h0m4.5-.1h0m-34 1.6h0m38.7-.2h0m-5.5 .4h0m4.6 .7h0m-31.6 1.1h0m7.7-.3h0m4.1-.2h0m.9-.1h0m.6 0h0m3.4-.1h0m12.8 .5h0m-26.9 .8h0m18.9 .3h0m-12.4 .9h0m1.7 0h0m17.4-.1h0m1.1 .5h0m-28.3 .5h0m4.6 .2h0m5.4-.4h0m4-.2h0m10.3 .2h0m2.8 .4h0m-30.6 .9h0m12.4 .4h0m7.5-.9h0m7.7 .8h0m5.3-.7h0m-63.7 1.3h0m3.8 .5h0m1.6-.5h0m7.8-.4h0m11.6 .7h0m7.6-.8h0m6.1 .2h0m1.1 .3h0m24-.5h0m-31 2h0m10.7-.4h0m.8 .2h0m7.1-.5h0m11.1 .4h0m-28.3 1.3h0m13.9-.4h0m-46.7 1.3h0m34.9-.1h0m15.3-.6h0m5.7 .7h0m-51.7 .6h0m54.3 .4h0m2.6-.7h0m-62 .9h0m14.8 .1h0m8.2 .5h0m12.6-.6h0m14.6 .3h0m3.3-.2h0m5.2 .6h0m-48.9 .8h0m4.6-.1h0m.5-.5h0m2.3 .6h0m3.3-.5h0m-20.2 1.4h0m4-.4h0m9.5 .8h0m-9.2 .3h0m9.8 .5h0m7.8 .3h0m9.4-1h0m.5 .3h0m.4 0h0m1.7 0h0m11.3 .2h0m-46.4 1h0m1.9 .2h0m17.2 .2h0m11.5-.9h0m3.1 .2h0m20.8 .4h0m4.2 .1h0m-49.8 .8h0m1.7 .5h0m4-.8h0m40.7 .3h0m3.3-.2h0m1.9-.3h0m1.4 .1h0m-44.4 1.6h0m-13.6 .4h0m2.8 .8h0m5.4-.7h0m4.1 .1h0m.7-.1h0m-.2 .9h0m4.5 .7h0m18.5 .8h0m-30.1 .6h0m11.8-.2h0m2.3 .6h0m33.5-.5h0m-49.5 1.2h0m5.6 .2h0m5.3-.1h0m4.9 .4h0m5 1.3h0m-17.4 1.3h0m2.4-.3h0m8.1 1.9h0m8.9-.4h0m29.1-.3h0m-47.7 1.6h0m2.1 0h0m1.9-.7h0m12.1 .5h0m28.4-.2h0m-45.2 3.9h0m3.1-.1h0m4.1 .6h0m15.2 0h0m23.8-.2h0m-41.1 1.1h0m4.7-.2h0m37 2.2h0m-33.9 .6h0m10 6.5h0"/><path id="c3m7" d="M46.6 8.1h0m8.8 1.1h0m13.2-.3h0m-29.4 .7h0m7.2 .2h0m10.8 .3h0m3.2 0h0m3.7 .3h0m-0-.5h0m7.8 .2h0m-27.2 .8h0m1 .4h0m25-.4h0m8 .3h0m-30.1 .9h0m4.6-.1h0m3.2 .1h0m17.1 .2h0m-25.2 .5h0m4.5-.2h0m16.8 0h0m3.3 .5h0m1.4-.3h0m-21.4 1.3h0m4.8-.3h0m1.1-.1h0m4.8 .2h0m10.8 .2h0m2.9 .1h0m-19.4 1.2h0m-0-.2h0m2.1-.3h0m4.9-.4h0m1.1 .9h0m3-.8h0m-17 1.8h0m5.6-.9h0m16.9 .2h0m5.6 .7h0m-3 1.8h0m1.6-.4h0m-19.8 1.9h0m.8 .3h0m3.9 .5h0m-14.5 .1h0m1.7 .2h0m1.6 0h0m3.1 .1h0m7.7-.3h0m1.4 .1h0m-28.8 1.6h0m12.5-.3h0m.5-.2h0m13.8-.2h0m5.2 .3h0m3 .5h0m3.3-.7h0m3.4 .4h0m-20.9 1h0m-0 .2h0m3 .2h0m2-.3h0m3.5-.3h0m6.2 .2h0m-22.8 1h0m9.4-.2h0m1.6 .2h0m12.5 0h0m6.5-.5h0m1.7 0h0m1.3 .8h0m-34.9 .7h0m3.3-.2h0m11.7 .4h0m5.8-.6h0m15.7-.1h0m-21.5 1.1h0m13.3 .4h0m-37 .9h0m3.6 .1h0m7.8-.1h0m.3-.1h0m-2.3 1.6h0m29.3-.2h0m-29.7 .4h0m5.4 .5h0m.8 0h0m14.7 .1h0m.2 .1h0m.9-.6h0m5.5-.1h0m-32.3 .8h0m6.6 .8h0m-8.3 .6h0m3-.2h0m18.7 .6h0m3-.1h0m16.4-.4h0m-21.4 1h0m19.1 .7h0m1.6-.1h0m3.1-.3h0m-30.3 .6h0m3.3 .1h0m1 .4h0m3 .1h0m14.6 .1h0m-27.4 1h0m1.1 .1h0m21.3-.9h0m1.9-.1h0m7.1 .1h0m-31.8 1h0m-2.6 1.9h0m11.3-.9h0m-21.4 1.3h0m3.8 .1h0m16.2 .2h0m8.7 .2h0m8.5-.1h0m5.2-.6h0m.7 .1h0m-46.2 1.6h0m.7-.3h0m7.7-.6h0m15.9 .9h0m-35.2 .4h0m9.9-.2h0m15.8-0h0m12 .8h0m6.2-.9h0m2.6 .8h0m-51.5 .2h0m.9 .7h0m3.1 .2h0m3.5 .1h0m33.7-.3h0m17.4 .3h0m4.5-.4h0m-26.2 .7h0m8.7-0h0m10.7 .3h0m-5.1 1.2h0m3.4 .1h0m6.2-.1h0m4-.5h0m-58 1h0m9.2-0h0m32.2 .3h0m.1-.2h0m1.9 .1h0m13-.2h0m-33.3 1.6h0m29.1-.3h0m-51.5 1.2h0m18.7-.2h0m28.8-.6h0m-58.2 1.2h0m3.5-0h0m6.4 .5h0m18.1-.6h0m.7 .5h0m2.4-0h0m1-.4h0m27.7 .1h0m.3-.3h0m1.1 1h0m-52.9 .8h0m7.6-.2h0m47.2 .1h0m-53.2 1.1h0m.6 .2h0m15.4-.8h0m1 .5h0m4.7-.6h0m-24.2 1.5h0m2.4 .3h0m1.7-.6h0m17.3 .4h0m-21.2 .8h0m20.1 .5h0m-7.3 .4h0m34.8-.1h0m5.5-.1h0m-46.7 1.3h0m3.8 .5h0m14.4-1h0m-2 1.9h0m-3.8 .5h0m1.9-.3h0m6.5 .5h0m-23.6 .9h0m5.3 .3h0m4 .5h0m2.7-.3h0m2.3 .4h0m34.1-.3h0m-40.4 1.4h0m43.1 .1h0m-50.3 .9h0m19-.4h0m-5.5 1.7h0m-11.1 .4h0m9.1-.2h0m-1.2 1.7h0m5.3-0h0m-13.1 .9h0m2-.4h0m19.8-.1h0m-20.2 1.1h0m2.6-0h0m.1-0h0m7 .7h0m4.6-.1h0m3.8-.5h0m-15.6 .7h0m6 .6h0m-3.3 .9h0m18.2 .8h0m4.5 2.1h0m-5.6 9.2h0"/><path id="c3m8" d="M48.6 7.5h0m11.3 .8h0m-14.8 .3h0m.4 .2h0m9.8 .3h0m7.2-.3h0m4.3 .7h0m2.2-.4h0m-23.5 .5h0m.7 .7h0m-.3 .8h0m11.3 .8h0m.7 .2h0m6.5 .2h0m1.6-.2h0m.4-.5h0m-18.5 1h0m20.8-.1h0m-30 1.5h0m7.2-.4h0m13 .3h0m5.9 .3h0m-15.2 1h0m3.3-.5h0m2 .2h0m5.2-.3h0m17.2 .3h0m-33.3 1.5h0m14-.4h0m4.4 .5h0m.7-.1h0m.1-.3h0m9.4 .4h0m-23.4 .6h0m5.6 .2h0m8.7 .2h0m.7-.4h0m.7-.5h0m7.1 .4h0m1.9 .1h0m-27.6 .4h0m5.9 1h0m12.8-.4h0m9-.6h0m-3.9 2h0m3.6-.8h0m1.1 .2h0m-26.3 1.5h0m-7.1 .2h0m4.5 .4h0m9.8-.1h0m2 1.2h0m5.5 .3h0m2.3-.9h0m14.6 .8h0m-35.9 .6h0m5.9-.2h0m14.3 .3h0m9.7 .1h0m-33.4 1.1h0m6.2 .2h0m7.1-.4h0m6.1 0h0m14.7 .1h0m1.7-.6h0m-34 1.9h0m16.8-.1h0m4-.6h0m19.1 .6h0m-42.2 .5h0m2.2 0h0m2.6 .2h0m.4-.2h0m3.3 .7h0m21.5-.9h0m2.5 .5h0m.3 .3h0m-34.6 .8h0m12.2-.2h0m5.6-.4h0m.2 0h0m6.9 .7h0m2.7-.2h0m.2 0h0m.4-.1h0m-16.3 .5h0m10.6 .3h0m8.3-.1h0m4.4 0h0m1.7 .5h0m-45.9 .5h0m20.4-.2h0m1.7 .8h0m2.7-.6h0m1.1 .1h0m6.9 .1h0m3.4-0h0m3.2-.3h0m2.1 .5h0m3.4 .1h0m9.7-.7h0m-0 .4h0m-35.3 1.4h0m.7-.8h0m19.7 .8h0m7.6-.4h0m2.1-.1h0m3 .6h0m-47.2 1.1h0m20.3-.8h0m9.8-.1h0m3.1 .5h0m15.8-.2h0m.9-.2h0m.3 .5h0m-32.7 .7h0m13.7 .3h0m6.1-.4h0m3.8 .2h0m3.7-0h0m-25.8 1.4h0m9.8-.1h0m5.3 .1h0m.7-.4h0m-32 1.1h0m12.7-.6h0m1.5 .8h0m23.4 .1h0m-33.6 .5h0m24.1 .4h0m3.5-.1h0m10.7 .1h0m2.5-.5h0m-4.1 .8h0m-58 1.8h0m28.1-.5h0m3.8-.1h0m.6 0h0m12.9-.2h0m6.4 .3h0m3.2 .4h0m5-.6h0m2.4 .5h0m-21.7 .4h0m10.5 0h0m2.6 .5h0m6.6 .1h0m1-.3h0m-25.9 .9h0m7.4 .2h0m3.3 .1h0m3.2-.5h0m-51.5 1.8h0m2.1-.9h0m27.1 .5h0m6.8 .1h0m24.5 .2h0m-61.1 .7h0m2.8 .1h0m2.9-.6h0m8.8 .2h0m7.5-.2h0m4.1 .9h0m29.2-.6h0m5.2 .3h0m.6-.4h0m-61.9 .9h0m3.2 .2h0m1.9 .5h0m.3-.3h0m.2 .2h0m41.1-.5h0m13.9 .7h0m4.2-0h0m-62.8 .7h0m16.4-.6h0m14.8 1h0m8-.2h0m5.4-.6h0m5.2 .6h0m5.6-.5h0m.3 .2h0m3.2-.3h0m-13.6 1.3h0m-41 1.1h0m8.3-.2h0m35.1 .1h0m-44 1.3h0m5.4 .1h0m8.6-.3h0m4.4 .1h0m36.2-.6h0m.9 .2h0m-60.8 1.6h0m13.2-.6h0m3.1 .2h0m5.2-0h0m.3 .2h0m1.8-.7h0m6.9 .2h0m-5 1.6h0m6.7-.5h0m24.3 .6h0m1.1-.1h0m-39.6 1h0m1.6-.4h0m5.6 .2h0m29.4 .1h0m-32.5 1.2h0m10.3-.4h0m-30.3 .9h0m5.9-.2h0m15.4 .2h0m-13.1 1.2h0m1.6-.4h0m13.3-0h0m6.7-0h0m-17.4 1h0m.4 .3h0m2.1-.4h0m8.8 .4h0m2.1 1.3h0m-16 .7h0m.1-.3h0m44.5 .6h0m-42.6 .5h0m10.8-0h0m1.7 .1h0m3.3 .5h0m6.4-.7h0m.5 .6h0m5.5 .2h0m-34.4 .5h0m2.8-0h0m17.2 .2h0m27.3-.2h0m-38.5 .8h0m31.6-.2h0m-29.9 1.6h0m-1.5 .4h0m6.5 .1h0m7 .2h0m11.9 .2h0m-27.1 .8h0m.6 .3h0m5.7 .4h0m3.4-0h0m19 .3h0m6.4-.3h0m-25.5 1.6h0m29.7-.3h0m-26.6 1.2h0m.3-.2h0m-5.8 2.1h0m2.2-.1h0m8.1 .1h0m-16.6 1.4h0m16.1-.7h0m1.5 5.5h0"/><path id="c3m9" d="M54.8 7.6h0m5.1 1.8h0m4.8 0h0m-13.9 1h0m7.7-.1h0m8.7-.6h0m-24.4 1h0m17.2 .1h0m10.3 .3h0m2.3 .1h0m1.5-.6h0m-31.9 1.3h0m1-.4h0m1.5 .1h0m10.4 .5h0m.7-.2h0m2.3-0h0m18 .5h0m-37.7 .8h0m.5-.2h0m5.5 .4h0m22.6-.4h0m2.2-.2h0m-14.3 1.5h0m.1-.7h0m-.5 1.9h0m2.1-.7h0m5.2 .3h0m11.6-.6h0m4.1 .1h0m-22.5 1.7h0m.2-.7h0m1.1 .5h0m19.4-.5h0m8.1 .7h0m-48.9 1.1h0m33-.4h0m5.6-.1h0m.4 .2h0m1.6-.4h0m-22.1 1.2h0m.5 .1h0m14.6-.2h0m5.6 .4h0m-34.8 1.2h0m4.8-.5h0m12-.1h0m1.4 .2h0m5.9 .2h0m-19.1 1.1h0m1.9-.8h0m14.7 .9h0m1.7-.5h0m19.8-.3h0m-24.4 1.5h0m-18.1 1h0m.7-.3h0m5.7-0h0m7.4-.2h0m1 .6h0m4.9-.6h0m9.9 .1h0m3.2 .4h0m1 .1h0m.5 .2h0m5.4-.5h0m-35.8 .8h0m1.1 .4h0m.8-.2h0m2.3 .2h0m20-.3h0m.7 .5h0m2.7-.3h0m.7 .1h0m7.3-.4h0m-34.9 1.1h0m13.2 .5h0m4.9-.4h0m-22.5 1.2h0m4.8-.2h0m13.5 .2h0m4.7-.5h0m4.7 .8h0m4.4-0h0m7.4-.7h0m-18.8 1.2h0m10-0h0m3.3 .2h0m1.1-.1h0m4.8-.5h0m.5 .8h0m3.6-.2h0m-36.2 1.1h0m7.9-.5h0m11-.1h0m15.9 .4h0m-34.1 .6h0m19 .4h0m-8.2 1.1h0m22.8 .2h0m-27.6 .8h0m10.4 .3h0m3.3-.2h0m-41.5 .4h0m38.9 .6h0m6.2-.4h0m0 .6h0m-18.6 .9h0m1.1-.8h0m26.9 .7h0m-47 .5h0m4-.1h0m34.2 .3h0m4.3 .6h0m-32 .9h0m6.3-.4h0m2.5-0h0m7.5-.1h0m-23.6 1.2h0m18.4-0h0m6.6 .4h0m-38.8 .3h0m42.9 .2h0m5.5-.4h0m3 .3h0m-39.3 1.5h0m3.1-.3h0m1.1 .2h0m14-.1h0m4.5-.3h0m20 .4h0m3-.1h0m-60.1 .9h0m27.5 .2h0m1.4-.3h0m5-.2h0m5.5 .2h0m10.1-.4h0m1.5 .3h0m8.6 .2h0m-37.5 1.3h0m24-.8h0m5 .3h0m-56.6 1.3h0m4.4-.7h0m-6.8 1.5h0m50.2-0h0m11.3-0h0m-43.7 1.2h0m3.2-.1h0m16.2 .7h0m27.5 .1h0m4 .6h0m-65.5 .4h0m3.2-.3h0m2.2 .8h0m7.7-.3h0m6.3-.6h0m26.3 .3h0m-43 .8h0m15.4 .6h0m-20.1 .7h0m4-.2h0m1.9 .1h0m5.7-.1h0m10.7 .1h0m-15.3 .9h0m9.3 .5h0m7.4-.3h0m38.7-.3h0m-57 1h0m15.2-0h0m.8 .3h0m5.5 .6h0m5.6-.1h0m27.8-.8h0m-52.8 .9h0m11.7 .9h0m3.8-.3h0m8.9-.2h0m26.2 .6h0m-43.6 .3h0m2.8 .2h0m5.3-.2h0m2.5 .6h0m34.4-.3h0m-41.9 .6h0m3.4 .2h0m-6.7 .8h0m8.3 .4h0m11-0h0m-16.2 1.5h0m3.4 .5h0m3.7-.6h0m31.7 1h0m-40.2 .2h0m11 .6h0m1.6 .4h0m14-0h0m-30.5 1.4h0m5.1-.3h0m5.5 .5h0m.9-.7h0m.6 .8h0m30.1 .1h0m-37.8 .2h0m12.7-.1h0m-17.9 1.2h0m7.5 .5h0m20.9-.2h0m-18.2 .7h0m16.2-.2h0m-23 2.8h0m3.5-.8h0m42.8 .1h0m-30.9 1.7h0m2.4-.3h0m-15.9 .8h0m9.2-0h0m-4.9 1h0m-5.1 1.5h0m10.1 .9h0m20.8 .5h0m2.7-.2h0m2.1 1.2h0m-16.1 8.7h0m1 .6h0"/><path id="c3b0" d="M55.5 8.7h0m1.2 .3h0m12.3-.1h0m-26.6 1.4h0m3.3 .1h0m.3-.4h0m6.7 .5h0m-1.7 .7h0m10.7 .2h0m14.8 .1h0"/><path id="c3b1" d="M55.4 7h0m5.4 2.4h0m9.2-.6h0m1.7-.3h0m-8.4 1.5h0m-20.6 1.1h0m7-.1h0m10.3-.3h0m5.5 .1h0m-19.1 1.2h0m31.8 1.5h0m.4 2.1h0m.5 .5h0m-.6 1.3h0"/><path id="c3b2" d="M65.8 7.5h0m-14.6 .1h0m6.3 .8h0m-6.7 .4h0m-3.9 1.1h0m14.2 .5h0m-18.4 .5h0m23.9 .5h0m4.3 2.1h0m1-.4h0m4.3 .3h0m1 1.3h0m2.9 .6h0m-4.6 .7h0m5.2-.1h0"/><path id="c3b3" d="M48.6 8.3h0m.2-.4h0m4.5-.2h0m11.9 1.2h0m.5-.2h0m-1.2 .8h0m10.5 1.5h0m.4 2.5h0m-3.1 .4h0m2.7-.2h0m2.1 1.5h0m4.1 1.8h0"/><path id="c3b4" d="M43.4 9.2h0m2.8-.1h0m8.4-.2h0m8.4 .1h0m-18.7 1.4h0m3.9-.7h0m4.4 .4h0m-9.1 .7h0m2.5 .4h0m26.8-.2h0m1.6 1.2h0m-1.4 .4h0"/><path id="c3b5" d="M60.6 6.8h0m9.1 1.4h0m-16.4 .8h0m2.4 .2h0m-11.6 1.2h0m21-.4h0m4-.3h0m-14.3 1.8h0m18.6-.6h0m1.1 1.1h0m2.6 1.1h0m-.2 3h0m1.5 .6h0"/><path id="c3b6" d="M62.5 6.2h0m-14.8 1.6h0m1.3 .3h0m1.8-0h0m4.1-.4h0m2.4 .6h0m12.9-.4h0m-7.3 2.3h0"/><path id="c3b7" d="M44.4 7.1h0m.9 .9h0m7 .4h0m6.6-.6h0m-16.7 1.5h0m18.8-.7h0m-11.4 1.3h0m12.6 .4h0m8.3-.4h0m-12.1 1h0m19.1 2.8h0m.6 1.4h0m.5-.2h0"/><path id="c3b8" d="M60 8.2h0m-16.1 1.8h0m16.3 .4h0m-15.9 .8h0m13.7-.5h0m-2.1 1.2h0m20.8 .4h0m1.5 3h0m-.5 2.9h0"/><path id="c3b9" d="M54.8 6.9h0m5.1 1h0m4 0h0m1.4 .5h0m1.9-.6h0m-12.9 1.3h0m4.1 1.9h0m4.2 .1h0m6.1 .1h0m12.9 5.4h0"/></defs>
<g transform="translate(35.9,37.2)" fill="none" stroke-width="1.9" stroke-linecap="round">
<use href="#c0m0" stroke="#148888"/>
<use href="#c0m1" stroke="#14c040"/>
<use href="#c0m2" stroke="#1e3fd8"/>
<use href="#c0m3" stroke="#30ec30"/>
<use href="#c0m4" stroke="#148888"/>
<use href="#c0m5" stroke="#1e3fd8"/>
<use href="#c0m6" stroke="#30ec30"/>
<use href="#c0m7" stroke="#148888"/>
<use href="#c0m8" stroke="#1e3fd8"/>
<use href="#c0m9" stroke="#14c040"/>
<use href="#c0y0" stroke="#f8e800"/>
<use href="#c0y1" stroke="#ffd800"/>
<use href="#c0y2" stroke="#f0f000"/>
<use href="#c0y3" stroke="#ffc800"/>
<use href="#c0y4" stroke="#e8f000"/>
<use href="#c0y5" stroke="#f8e800"/>
<use href="#c0y6" stroke="#ffe000"/>
<use href="#c0y7" stroke="#f8e000"/>
<use href="#c0y8" stroke="#f8e800"/>
<use href="#c0y9" stroke="#d8f000"/>
<use href="#c0t0" stroke="#c8f000"/>
<use href="#c0t1" stroke="#a0f000"/>
<use href="#c0t2" stroke="#e0f000"/>
<use href="#c0t3" stroke="#c8f000"/>
<use href="#c0t4" stroke="#a0f000"/>
<use href="#c0t5" stroke="#e0f000"/>
<use href="#c0t6" stroke="#c8f000"/>
<use href="#c0t7" stroke="#a0f000"/>
<use href="#c0t8" stroke="#e0f000"/>
<use href="#c0t9" stroke="#c8f000"/>
<use href="#c0e0" stroke="#30ec30"/>
<use href="#c0e1" stroke="#a0e820"/>
<use href="#c0e2" stroke="#148888"/>
<use href="#c0e3" stroke="#14c040"/>
<use href="#c0e4" stroke="#30ec30"/>
<use href="#c0e5" stroke="#1e3fd8"/>
<use href="#c0e6" stroke="#14c040"/>
<use href="#c0e7" stroke="#30ec30"/>
<use href="#c0e8" stroke="#d8f000"/>
<use href="#c0e9" stroke="#148888"/>
</g>
<g transform="translate(147.2,37.2)" fill="none" stroke-width="1.9" stroke-linecap="round">
<use href="#c1m0" stroke="#148888"/>
<use href="#c1m1" stroke="#14c040"/>
<use href="#c1m2" stroke="#1e3fd8"/>
<use href="#c1m3" stroke="#30ec30"/>
<use href="#c1m4" stroke="#148888"/>
<use href="#c1m5" stroke="#1e3fd8"/>
<use href="#c1m6" stroke="#30ec30"/>
<use href="#c1m7" stroke="#148888"/>
<use href="#c1m8" stroke="#1e3fd8"/>
<use href="#c1m9" stroke="#14c040"/>
<use href="#c1Y030d040" stroke="#30d040"/>
<use href="#c1Y040e040" stroke="#40e040"/>
<use href="#c1Y080e820" stroke="#80e820"/>
<use href="#c1Y0a8f000" stroke="#a8f000"/>
<use href="#c1Y0d8f000" stroke="#d8f000"/>
<use href="#c1Y0f0f000" stroke="#f0f000"/>
<use href="#c1Y0ff9000" stroke="#ff9000"/>
<use href="#c1Y0ffd000" stroke="#ffd000"/>
<use href="#c1Y0ffe800" stroke="#ffe800"/>
</g>
<g transform="translate(257.8,37.2)" fill="none" stroke-width="1.9" stroke-linecap="round">
<use href="#c2m0" stroke="#148888"/>
<use href="#c2m1" stroke="#14c040"/>
<use href="#c2m2" stroke="#1e3fd8"/>
<use href="#c2m3" stroke="#30ec30"/>
<use href="#c2m4" stroke="#148888"/>
<use href="#c2m5" stroke="#14c040"/>
<use href="#c2m6" stroke="#30ec30"/>
<use href="#c2m7" stroke="#148888"/>
<use href="#c2m8" stroke="#1e3fd8"/>
<use href="#c2m9" stroke="#14c040"/>
<use href="#c2b0" stroke="#1e3fd8"/>
<use href="#c2b1" stroke="#1e3fd8"/>
<use href="#c2b2" stroke="#148888"/>
<use href="#c2b3" stroke="#1e3fd8"/>
<use href="#c2b4" stroke="#14c040"/>
<use href="#c2b5" stroke="#1e3fd8"/>
<use href="#c2b6" stroke="#148888"/>
<use href="#c2b7" stroke="#1e3fd8"/>
<use href="#c2b8" stroke="#30ec30"/>
<use href="#c2b9" stroke="#1e3fd8"/>
</g>
<g transform="translate(372.5,37.2)" fill="none" stroke-width="1.9" stroke-linecap="round">
<use href="#c3m0" stroke="#148888"/>
<use href="#c3m1" stroke="#14c040"/>
<use href="#c3m2" stroke="#1e3fd8"/>
<use href="#c3m3" stroke="#30ec30"/>
<use href="#c3m4" stroke="#148888"/>
<use href="#c3m5" stroke="#14c040"/>
<use href="#c3m6" stroke="#30ec30"/>
<use href="#c3m7" stroke="#148888"/>
<use href="#c3m8" stroke="#1e3fd8"/>
<use href="#c3m9" stroke="#14c040"/>
<use href="#c3b0" stroke="#1e3fd8"/>
<use href="#c3b1" stroke="#1e3fd8"/>
<use href="#c3b2" stroke="#148888"/>
<use href="#c3b3" stroke="#1e3fd8"/>
<use href="#c3b4" stroke="#14c040"/>
<use href="#c3b5" stroke="#1e3fd8"/>
<use href="#c3b6" stroke="#148888"/>
<use href="#c3b7" stroke="#1e3fd8"/>
<use href="#c3b8" stroke="#30ec30"/>
<use href="#c3b9" stroke="#1e3fd8"/>
</g>
<g transform="translate(35.9,149.9)" fill="none" stroke-width="1.9" stroke-linecap="round">
<use href="#c0m0" stroke="#20c030"/>
<use href="#c0m1" stroke="#40e040"/>
<use href="#c0m2" stroke="#10a060"/>
<use href="#c0m3" stroke="#88e030"/>
<use href="#c0m4" stroke="#20c030"/>
<use href="#c0m5" stroke="#40e040"/>
<use href="#c0m6" stroke="#10a060"/>
<use href="#c0m7" stroke="#1a8a78"/>
<use href="#c0m8" stroke="#40e040"/>
<use href="#c0m9" stroke="#20c030"/>
<use href="#c0y0" stroke="#ffc020"/>
<use href="#c0y1" stroke="#f8e800"/>
<use href="#c0y2" stroke="#ff9030"/>
<use href="#c0y3" stroke="#ffd000"/>
<use href="#c0y4" stroke="#a0f000"/>
<use href="#c0y5" stroke="#ffc020"/>
<use href="#c0y6" stroke="#f8e800"/>
<use href="#c0y7" stroke="#ff9a00"/>
<use href="#c0y8" stroke="#ffe000"/>
<use href="#c0y9" stroke="#ffc000"/>
<use href="#c0t0" stroke="#a0f000"/>
<use href="#c0t1" stroke="#c8f000"/>
<use href="#c0t2" stroke="#a0f000"/>
<use href="#c0t3" stroke="#60e030"/>
<use href="#c0t4" stroke="#a0f000"/>
<use href="#c0t5" stroke="#c8f000"/>
<use href="#c0t6" stroke="#a0f000"/>
<use href="#c0t7" stroke="#60e030"/>
<use href="#c0t8" stroke="#a0f000"/>
<use href="#c0t9" stroke="#c8f000"/>
<use href="#c0e0" stroke="#ffd000"/>
<use href="#c0e1" stroke="#ff9a30"/>
<use href="#c0e2" stroke="#a0f000"/>
<use href="#c0e3" stroke="#ffe000"/>
<use href="#c0e4" stroke="#40e040"/>
<use href="#c0e5" stroke="#ffc000"/>
<use href="#c0e6" stroke="#f8e800"/>
<use href="#c0e7" stroke="#ff9a30"/>
<use href="#c0e8" stroke="#a0f000"/>
<use href="#c0e9" stroke="#ffd000"/>
</g>
<g transform="translate(147.2,149.9)" fill="none" stroke-width="1.9" stroke-linecap="round">
<use href="#c1m0" stroke="#20c030"/>
<use href="#c1m1" stroke="#40e040"/>
<use href="#c1m2" stroke="#10a060"/>
<use href="#c1m3" stroke="#88e030"/>
<use href="#c1m4" stroke="#20c030"/>
<use href="#c1m5" stroke="#40e040"/>
<use href="#c1m6" stroke="#10a060"/>
<use href="#c1m7" stroke="#1a8a78"/>
<use href="#c1m8" stroke="#40e040"/>
<use href="#c1m9" stroke="#20c030"/>
<use href="#c1Y130d040" stroke="#30d040"/>
<use href="#c1Y140e040" stroke="#40e040"/>
<use href="#c1Y160e030" stroke="#60e030"/>
<use href="#c1Y180e820" stroke="#80e820"/>
<use href="#c1Y1a0f000" stroke="#a0f000"/>
<use href="#c1Y1c0f000" stroke="#c0f000"/>
<use href="#c1Y1f0e800" stroke="#f0e800"/>
<use href="#c1Y1ff6000" stroke="#ff6000"/>
<use href="#c1Y1ffd000" stroke="#ffd000"/>
</g>
<g transform="translate(257.8,149.9)" fill="none" stroke-width="1.9" stroke-linecap="round">
<use href="#c2m0" stroke="#20c030"/>
<use href="#c2m1" stroke="#40e040"/>
<use href="#c2m2" stroke="#10a060"/>
<use href="#c2m3" stroke="#88e030"/>
<use href="#c2m4" stroke="#20c030"/>
<use href="#c2m5" stroke="#40e040"/>
<use href="#c2m6" stroke="#10a060"/>
<use href="#c2m7" stroke="#1a8a78"/>
<use href="#c2m8" stroke="#40e040"/>
<use href="#c2m9" stroke="#20c030"/>
<use href="#c2b0" stroke="#2a6aa0"/>
<use href="#c2b1" stroke="#10a060"/>
<use href="#c2b2" stroke="#20c030"/>
<use href="#c2b3" stroke="#2a6aa0"/>
<use href="#c2b4" stroke="#10a060"/>
<use href="#c2b5" stroke="#20c030"/>
<use href="#c2b6" stroke="#40e040"/>
<use href="#c2b7" stroke="#10a060"/>
<use href="#c2b8" stroke="#2a6aa0"/>
<use href="#c2b9" stroke="#20c030"/>
</g>
<g transform="translate(372.5,149.9)" fill="none" stroke-width="1.9" stroke-linecap="round">
<use href="#c3m0" stroke="#20c030"/>
<use href="#c3m1" stroke="#40e040"/>
<use href="#c3m2" stroke="#10a060"/>
<use href="#c3m3" stroke="#88e030"/>
<use href="#c3m4" stroke="#20c030"/>
<use href="#c3m5" stroke="#40e040"/>
<use href="#c3m6" stroke="#10a060"/>
<use href="#c3m7" stroke="#1a8a78"/>
<use href="#c3m8" stroke="#40e040"/>
<use href="#c3m9" stroke="#20c030"/>
<use href="#c3b0" stroke="#2a6aa0"/>
<use href="#c3b1" stroke="#10a060"/>
<use href="#c3b2" stroke="#20c030"/>
<use href="#c3b3" stroke="#2a6aa0"/>
<use href="#c3b4" stroke="#10a060"/>
<use href="#c3b5" stroke="#20c030"/>
<use href="#c3b6" stroke="#40e040"/>
<use href="#c3b7" stroke="#10a060"/>
<use href="#c3b8" stroke="#2a6aa0"/>
<use href="#c3b9" stroke="#20c030"/>
</g>
<rect x="35.9" y="37.2" width="93.5" height="92.6" fill="none" stroke="#1e1e1e" stroke-width="1.3"/>
<path d="M38.85 129.8v1.6 M43.3 129.8v2.6 M47.75 129.8v1.6 M52.2 129.8v1.6 M56.65 129.8v1.6 M61.1 129.8v1.6 M65.55 129.8v2.6 M70 129.8v1.6 M74.45 129.8v1.6 M78.9 129.8v1.6 M83.35 129.8v1.6 M87.8 129.8v2.6 M92.25 129.8v1.6 M96.7 129.8v1.6 M101.15 129.8v1.6 M105.6 129.8v1.6 M110.05 129.8v2.6 M114.5 129.8v1.6 M118.95 129.8v1.6 M123.4 129.8v1.6 M127.85 129.8v1.6 M35.9 127.44h-1.6 M35.9 121.8h-2.6 M35.9 116.16h-1.6 M35.9 110.52h-1.6 M35.9 104.88h-1.6 M35.9 99.24h-1.6 M35.9 93.6h-2.6 M35.9 87.96h-1.6 M35.9 82.32h-1.6 M35.9 76.68h-1.6 M35.9 71.04h-1.6 M35.9 65.4h-2.6 M35.9 59.76h-1.6 M35.9 54.12h-1.6 M35.9 48.48h-1.6 M35.9 42.84h-1.6 M35.9 37.2h-2.6" stroke="#1e1e1e" stroke-width="1.1" fill="none"/>
<text x="43.3" y="141.5" font-size="7.8" text-anchor="middle" fill="#2a2a2a" textLength="4" lengthAdjust="spacingAndGlyphs">0</text>
<text x="65.55" y="141.5" font-size="7.8" text-anchor="middle" fill="#2a2a2a" textLength="9.2" lengthAdjust="spacingAndGlyphs">5.0</text>
<text x="87.8" y="141.5" font-size="7.8" text-anchor="middle" fill="#2a2a2a" textLength="7.3" lengthAdjust="spacingAndGlyphs">10</text>
<text x="110.05" y="141.5" font-size="7.8" text-anchor="middle" fill="#2a2a2a" textLength="7.3" lengthAdjust="spacingAndGlyphs">15</text>
<text x="31.7" y="125.2" font-size="7.8" text-anchor="end" fill="#2a2a2a" textLength="4" lengthAdjust="spacingAndGlyphs">0</text>
<text x="31.7" y="97" font-size="7.8" text-anchor="end" fill="#2a2a2a" textLength="9.2" lengthAdjust="spacingAndGlyphs">5.0</text>
<text x="31.7" y="68.8" font-size="7.8" text-anchor="end" fill="#2a2a2a" textLength="7.3" lengthAdjust="spacingAndGlyphs">10</text>
<text x="31.7" y="40.6" font-size="7.8" text-anchor="end" fill="#2a2a2a" textLength="7.3" lengthAdjust="spacingAndGlyphs">15</text>
<rect x="147.2" y="37.2" width="93.6" height="92.6" fill="none" stroke="#1e1e1e" stroke-width="1.3"/>
<path d="M150.15 129.8v1.6 M154.6 129.8v2.6 M159.05 129.8v1.6 M163.5 129.8v1.6 M167.95 129.8v1.6 M172.4 129.8v1.6 M176.85 129.8v2.6 M181.3 129.8v1.6 M185.75 129.8v1.6 M190.2 129.8v1.6 M194.65 129.8v1.6 M199.1 129.8v2.6 M203.55 129.8v1.6 M208 129.8v1.6 M212.45 129.8v1.6 M216.9 129.8v1.6 M221.35 129.8v2.6 M225.8 129.8v1.6 M230.25 129.8v1.6 M234.7 129.8v1.6 M239.15 129.8v1.6 M147.2 127.44h-1.6 M147.2 121.8h-2.6 M147.2 116.16h-1.6 M147.2 110.52h-1.6 M147.2 104.88h-1.6 M147.2 99.24h-1.6 M147.2 93.6h-2.6 M147.2 87.96h-1.6 M147.2 82.32h-1.6 M147.2 76.68h-1.6 M147.2 71.04h-1.6 M147.2 65.4h-2.6 M147.2 59.76h-1.6 M147.2 54.12h-1.6 M147.2 48.48h-1.6 M147.2 42.84h-1.6 M147.2 37.2h-2.6" stroke="#1e1e1e" stroke-width="1.1" fill="none"/>
<text x="154.6" y="141.5" font-size="7.8" text-anchor="middle" fill="#2a2a2a" textLength="4" lengthAdjust="spacingAndGlyphs">0</text>
<text x="176.85" y="141.5" font-size="7.8" text-anchor="middle" fill="#2a2a2a" textLength="9.2" lengthAdjust="spacingAndGlyphs">5.0</text>
<text x="199.1" y="141.5" font-size="7.8" text-anchor="middle" fill="#2a2a2a" textLength="7.3" lengthAdjust="spacingAndGlyphs">10</text>
<text x="221.35" y="141.5" font-size="7.8" text-anchor="middle" fill="#2a2a2a" textLength="7.3" lengthAdjust="spacingAndGlyphs">15</text>
<text x="143" y="125.2" font-size="7.8" text-anchor="end" fill="#2a2a2a" textLength="4" lengthAdjust="spacingAndGlyphs">0</text>
<text x="143" y="97" font-size="7.8" text-anchor="end" fill="#2a2a2a" textLength="9.2" lengthAdjust="spacingAndGlyphs">5.0</text>
<text x="143" y="68.8" font-size="7.8" text-anchor="end" fill="#2a2a2a" textLength="7.3" lengthAdjust="spacingAndGlyphs">10</text>
<text x="143" y="40.6" font-size="7.8" text-anchor="end" fill="#2a2a2a" textLength="7.3" lengthAdjust="spacingAndGlyphs">15</text>
<rect x="257.8" y="37.2" width="93.3" height="92.6" fill="none" stroke="#1e1e1e" stroke-width="1.3"/>
<path d="M260.75 129.8v1.6 M265.2 129.8v2.6 M269.65 129.8v1.6 M274.1 129.8v1.6 M278.55 129.8v1.6 M283 129.8v1.6 M287.45 129.8v2.6 M291.9 129.8v1.6 M296.35 129.8v1.6 M300.8 129.8v1.6 M305.25 129.8v1.6 M309.7 129.8v2.6 M314.15 129.8v1.6 M318.6 129.8v1.6 M323.05 129.8v1.6 M327.5 129.8v1.6 M331.95 129.8v2.6 M336.4 129.8v1.6 M340.85 129.8v1.6 M345.3 129.8v1.6 M349.75 129.8v1.6 M257.8 127.44h-1.6 M257.8 121.8h-2.6 M257.8 116.16h-1.6 M257.8 110.52h-1.6 M257.8 104.88h-1.6 M257.8 99.24h-1.6 M257.8 93.6h-2.6 M257.8 87.96h-1.6 M257.8 82.32h-1.6 M257.8 76.68h-1.6 M257.8 71.04h-1.6 M257.8 65.4h-2.6 M257.8 59.76h-1.6 M257.8 54.12h-1.6 M257.8 48.48h-1.6 M257.8 42.84h-1.6 M257.8 37.2h-2.6" stroke="#1e1e1e" stroke-width="1.1" fill="none"/>
<text x="265.2" y="141.5" font-size="7.8" text-anchor="middle" fill="#2a2a2a" textLength="4" lengthAdjust="spacingAndGlyphs">0</text>
<text x="287.45" y="141.5" font-size="7.8" text-anchor="middle" fill="#2a2a2a" textLength="9.2" lengthAdjust="spacingAndGlyphs">5.0</text>
<text x="309.7" y="141.5" font-size="7.8" text-anchor="middle" fill="#2a2a2a" textLength="7.3" lengthAdjust="spacingAndGlyphs">10</text>
<text x="331.95" y="141.5" font-size="7.8" text-anchor="middle" fill="#2a2a2a" textLength="7.3" lengthAdjust="spacingAndGlyphs">15</text>
<text x="253.6" y="125.2" font-size="7.8" text-anchor="end" fill="#2a2a2a" textLength="4" lengthAdjust="spacingAndGlyphs">0</text>
<text x="253.6" y="97" font-size="7.8" text-anchor="end" fill="#2a2a2a" textLength="9.2" lengthAdjust="spacingAndGlyphs">5.0</text>
<text x="253.6" y="68.8" font-size="7.8" text-anchor="end" fill="#2a2a2a" textLength="7.3" lengthAdjust="spacingAndGlyphs">10</text>
<text x="253.6" y="40.6" font-size="7.8" text-anchor="end" fill="#2a2a2a" textLength="7.3" lengthAdjust="spacingAndGlyphs">15</text>
<rect x="372.5" y="37.2" width="92.5" height="92.6" fill="none" stroke="#1e1e1e" stroke-width="1.3"/>
<path d="M375.45 129.8v1.6 M379.9 129.8v2.6 M384.35 129.8v1.6 M388.8 129.8v1.6 M393.25 129.8v1.6 M397.7 129.8v1.6 M402.15 129.8v2.6 M406.6 129.8v1.6 M411.05 129.8v1.6 M415.5 129.8v1.6 M419.95 129.8v1.6 M424.4 129.8v2.6 M428.85 129.8v1.6 M433.3 129.8v1.6 M437.75 129.8v1.6 M442.2 129.8v1.6 M446.65 129.8v2.6 M451.1 129.8v1.6 M455.55 129.8v1.6 M460 129.8v1.6 M464.45 129.8v1.6 M372.5 127.44h-1.6 M372.5 121.8h-2.6 M372.5 116.16h-1.6 M372.5 110.52h-1.6 M372.5 104.88h-1.6 M372.5 99.24h-1.6 M372.5 93.6h-2.6 M372.5 87.96h-1.6 M372.5 82.32h-1.6 M372.5 76.68h-1.6 M372.5 71.04h-1.6 M372.5 65.4h-2.6 M372.5 59.76h-1.6 M372.5 54.12h-1.6 M372.5 48.48h-1.6 M372.5 42.84h-1.6 M372.5 37.2h-2.6" stroke="#1e1e1e" stroke-width="1.1" fill="none"/>
<text x="379.9" y="141.5" font-size="7.8" text-anchor="middle" fill="#2a2a2a" textLength="4" lengthAdjust="spacingAndGlyphs">0</text>
<text x="402.15" y="141.5" font-size="7.8" text-anchor="middle" fill="#2a2a2a" textLength="9.2" lengthAdjust="spacingAndGlyphs">5.0</text>
<text x="424.4" y="141.5" font-size="7.8" text-anchor="middle" fill="#2a2a2a" textLength="7.3" lengthAdjust="spacingAndGlyphs">10</text>
<text x="446.65" y="141.5" font-size="7.8" text-anchor="middle" fill="#2a2a2a" textLength="7.3" lengthAdjust="spacingAndGlyphs">15</text>
<text x="368.3" y="125.2" font-size="7.8" text-anchor="end" fill="#2a2a2a" textLength="4" lengthAdjust="spacingAndGlyphs">0</text>
<text x="368.3" y="97" font-size="7.8" text-anchor="end" fill="#2a2a2a" textLength="9.2" lengthAdjust="spacingAndGlyphs">5.0</text>
<text x="368.3" y="68.8" font-size="7.8" text-anchor="end" fill="#2a2a2a" textLength="7.3" lengthAdjust="spacingAndGlyphs">10</text>
<text x="368.3" y="40.6" font-size="7.8" text-anchor="end" fill="#2a2a2a" textLength="7.3" lengthAdjust="spacingAndGlyphs">15</text>
<rect x="35.9" y="149.9" width="93.5" height="92.8" fill="none" stroke="#1e1e1e" stroke-width="1.3"/>
<path d="M38.85 242.7v1.6 M43.3 242.7v2.6 M47.75 242.7v1.6 M52.2 242.7v1.6 M56.65 242.7v1.6 M61.1 242.7v1.6 M65.55 242.7v2.6 M70 242.7v1.6 M74.45 242.7v1.6 M78.9 242.7v1.6 M83.35 242.7v1.6 M87.8 242.7v2.6 M92.25 242.7v1.6 M96.7 242.7v1.6 M101.15 242.7v1.6 M105.6 242.7v1.6 M110.05 242.7v2.6 M114.5 242.7v1.6 M118.95 242.7v1.6 M123.4 242.7v1.6 M127.85 242.7v1.6 M35.9 240.14h-1.6 M35.9 234.5h-2.6 M35.9 228.86h-1.6 M35.9 223.22h-1.6 M35.9 217.58h-1.6 M35.9 211.94h-1.6 M35.9 206.3h-2.6 M35.9 200.66h-1.6 M35.9 195.02h-1.6 M35.9 189.38h-1.6 M35.9 183.74h-1.6 M35.9 178.1h-2.6 M35.9 172.46h-1.6 M35.9 166.82h-1.6 M35.9 161.18h-1.6 M35.9 155.54h-1.6 M35.9 149.9h-2.6" stroke="#1e1e1e" stroke-width="1.1" fill="none"/>
<text x="43.3" y="254.4" font-size="7.8" text-anchor="middle" fill="#2a2a2a" textLength="4" lengthAdjust="spacingAndGlyphs">0</text>
<text x="65.55" y="254.4" font-size="7.8" text-anchor="middle" fill="#2a2a2a" textLength="9.2" lengthAdjust="spacingAndGlyphs">5.0</text>
<text x="87.8" y="254.4" font-size="7.8" text-anchor="middle" fill="#2a2a2a" textLength="7.3" lengthAdjust="spacingAndGlyphs">10</text>
<text x="110.05" y="254.4" font-size="7.8" text-anchor="middle" fill="#2a2a2a" textLength="7.3" lengthAdjust="spacingAndGlyphs">15</text>
<text x="31.7" y="237.9" font-size="7.8" text-anchor="end" fill="#2a2a2a" textLength="4" lengthAdjust="spacingAndGlyphs">0</text>
<text x="31.7" y="209.7" font-size="7.8" text-anchor="end" fill="#2a2a2a" textLength="9.2" lengthAdjust="spacingAndGlyphs">5.0</text>
<text x="31.7" y="181.5" font-size="7.8" text-anchor="end" fill="#2a2a2a" textLength="7.3" lengthAdjust="spacingAndGlyphs">10</text>
<text x="31.7" y="153.3" font-size="7.8" text-anchor="end" fill="#2a2a2a" textLength="7.3" lengthAdjust="spacingAndGlyphs">15</text>
<rect x="147.2" y="149.9" width="93.6" height="92.8" fill="none" stroke="#1e1e1e" stroke-width="1.3"/>
<path d="M150.15 242.7v1.6 M154.6 242.7v2.6 M159.05 242.7v1.6 M163.5 242.7v1.6 M167.95 242.7v1.6 M172.4 242.7v1.6 M176.85 242.7v2.6 M181.3 242.7v1.6 M185.75 242.7v1.6 M190.2 242.7v1.6 M194.65 242.7v1.6 M199.1 242.7v2.6 M203.55 242.7v1.6 M208 242.7v1.6 M212.45 242.7v1.6 M216.9 242.7v1.6 M221.35 242.7v2.6 M225.8 242.7v1.6 M230.25 242.7v1.6 M234.7 242.7v1.6 M239.15 242.7v1.6 M147.2 240.14h-1.6 M147.2 234.5h-2.6 M147.2 228.86h-1.6 M147.2 223.22h-1.6 M147.2 217.58h-1.6 M147.2 211.94h-1.6 M147.2 206.3h-2.6 M147.2 200.66h-1.6 M147.2 195.02h-1.6 M147.2 189.38h-1.6 M147.2 183.74h-1.6 M147.2 178.1h-2.6 M147.2 172.46h-1.6 M147.2 166.82h-1.6 M147.2 161.18h-1.6 M147.2 155.54h-1.6 M147.2 149.9h-2.6" stroke="#1e1e1e" stroke-width="1.1" fill="none"/>
<text x="154.6" y="254.4" font-size="7.8" text-anchor="middle" fill="#2a2a2a" textLength="4" lengthAdjust="spacingAndGlyphs">0</text>
<text x="176.85" y="254.4" font-size="7.8" text-anchor="middle" fill="#2a2a2a" textLength="9.2" lengthAdjust="spacingAndGlyphs">5.0</text>
<text x="199.1" y="254.4" font-size="7.8" text-anchor="middle" fill="#2a2a2a" textLength="7.3" lengthAdjust="spacingAndGlyphs">10</text>
<text x="221.35" y="254.4" font-size="7.8" text-anchor="middle" fill="#2a2a2a" textLength="7.3" lengthAdjust="spacingAndGlyphs">15</text>
<text x="143" y="237.9" font-size="7.8" text-anchor="end" fill="#2a2a2a" textLength="4" lengthAdjust="spacingAndGlyphs">0</text>
<text x="143" y="209.7" font-size="7.8" text-anchor="end" fill="#2a2a2a" textLength="9.2" lengthAdjust="spacingAndGlyphs">5.0</text>
<text x="143" y="181.5" font-size="7.8" text-anchor="end" fill="#2a2a2a" textLength="7.3" lengthAdjust="spacingAndGlyphs">10</text>
<text x="143" y="153.3" font-size="7.8" text-anchor="end" fill="#2a2a2a" textLength="7.3" lengthAdjust="spacingAndGlyphs">15</text>
<rect x="257.8" y="149.9" width="93.3" height="92.8" fill="none" stroke="#1e1e1e" stroke-width="1.3"/>
<path d="M260.75 242.7v1.6 M265.2 242.7v2.6 M269.65 242.7v1.6 M274.1 242.7v1.6 M278.55 242.7v1.6 M283 242.7v1.6 M287.45 242.7v2.6 M291.9 242.7v1.6 M296.35 242.7v1.6 M300.8 242.7v1.6 M305.25 242.7v1.6 M309.7 242.7v2.6 M314.15 242.7v1.6 M318.6 242.7v1.6 M323.05 242.7v1.6 M327.5 242.7v1.6 M331.95 242.7v2.6 M336.4 242.7v1.6 M340.85 242.7v1.6 M345.3 242.7v1.6 M349.75 242.7v1.6 M257.8 240.14h-1.6 M257.8 234.5h-2.6 M257.8 228.86h-1.6 M257.8 223.22h-1.6 M257.8 217.58h-1.6 M257.8 211.94h-1.6 M257.8 206.3h-2.6 M257.8 200.66h-1.6 M257.8 195.02h-1.6 M257.8 189.38h-1.6 M257.8 183.74h-1.6 M257.8 178.1h-2.6 M257.8 172.46h-1.6 M257.8 166.82h-1.6 M257.8 161.18h-1.6 M257.8 155.54h-1.6 M257.8 149.9h-2.6" stroke="#1e1e1e" stroke-width="1.1" fill="none"/>
<text x="265.2" y="254.4" font-size="7.8" text-anchor="middle" fill="#2a2a2a" textLength="4" lengthAdjust="spacingAndGlyphs">0</text>
<text x="287.45" y="254.4" font-size="7.8" text-anchor="middle" fill="#2a2a2a" textLength="9.2" lengthAdjust="spacingAndGlyphs">5.0</text>
<text x="309.7" y="254.4" font-size="7.8" text-anchor="middle" fill="#2a2a2a" textLength="7.3" lengthAdjust="spacingAndGlyphs">10</text>
<text x="331.95" y="254.4" font-size="7.8" text-anchor="middle" fill="#2a2a2a" textLength="7.3" lengthAdjust="spacingAndGlyphs">15</text>
<text x="253.6" y="237.9" font-size="7.8" text-anchor="end" fill="#2a2a2a" textLength="4" lengthAdjust="spacingAndGlyphs">0</text>
<text x="253.6" y="209.7" font-size="7.8" text-anchor="end" fill="#2a2a2a" textLength="9.2" lengthAdjust="spacingAndGlyphs">5.0</text>
<text x="253.6" y="181.5" font-size="7.8" text-anchor="end" fill="#2a2a2a" textLength="7.3" lengthAdjust="spacingAndGlyphs">10</text>
<text x="253.6" y="153.3" font-size="7.8" text-anchor="end" fill="#2a2a2a" textLength="7.3" lengthAdjust="spacingAndGlyphs">15</text>
<rect x="372.5" y="149.9" width="92.5" height="92.8" fill="none" stroke="#1e1e1e" stroke-width="1.3"/>
<path d="M375.45 242.7v1.6 M379.9 242.7v2.6 M384.35 242.7v1.6 M388.8 242.7v1.6 M393.25 242.7v1.6 M397.7 242.7v1.6 M402.15 242.7v2.6 M406.6 242.7v1.6 M411.05 242.7v1.6 M415.5 242.7v1.6 M419.95 242.7v1.6 M424.4 242.7v2.6 M428.85 242.7v1.6 M433.3 242.7v1.6 M437.75 242.7v1.6 M442.2 242.7v1.6 M446.65 242.7v2.6 M451.1 242.7v1.6 M455.55 242.7v1.6 M460 242.7v1.6 M464.45 242.7v1.6 M372.5 240.14h-1.6 M372.5 234.5h-2.6 M372.5 228.86h-1.6 M372.5 223.22h-1.6 M372.5 217.58h-1.6 M372.5 211.94h-1.6 M372.5 206.3h-2.6 M372.5 200.66h-1.6 M372.5 195.02h-1.6 M372.5 189.38h-1.6 M372.5 183.74h-1.6 M372.5 178.1h-2.6 M372.5 172.46h-1.6 M372.5 166.82h-1.6 M372.5 161.18h-1.6 M372.5 155.54h-1.6 M372.5 149.9h-2.6" stroke="#1e1e1e" stroke-width="1.1" fill="none"/>
<text x="379.9" y="254.4" font-size="7.8" text-anchor="middle" fill="#2a2a2a" textLength="4" lengthAdjust="spacingAndGlyphs">0</text>
<text x="402.15" y="254.4" font-size="7.8" text-anchor="middle" fill="#2a2a2a" textLength="9.2" lengthAdjust="spacingAndGlyphs">5.0</text>
<text x="424.4" y="254.4" font-size="7.8" text-anchor="middle" fill="#2a2a2a" textLength="7.3" lengthAdjust="spacingAndGlyphs">10</text>
<text x="446.65" y="254.4" font-size="7.8" text-anchor="middle" fill="#2a2a2a" textLength="7.3" lengthAdjust="spacingAndGlyphs">15</text>
<text x="368.3" y="237.9" font-size="7.8" text-anchor="end" fill="#2a2a2a" textLength="4" lengthAdjust="spacingAndGlyphs">0</text>
<text x="368.3" y="209.7" font-size="7.8" text-anchor="end" fill="#2a2a2a" textLength="9.2" lengthAdjust="spacingAndGlyphs">5.0</text>
<text x="368.3" y="181.5" font-size="7.8" text-anchor="end" fill="#2a2a2a" textLength="7.3" lengthAdjust="spacingAndGlyphs">10</text>
<text x="368.3" y="153.3" font-size="7.8" text-anchor="end" fill="#2a2a2a" textLength="7.3" lengthAdjust="spacingAndGlyphs">15</text>
<polygon points="37.03,47.85 38.57,45.15 49.58,51.42 50.44,49.9 52.2,54.7 47.18,55.64 48.04,54.12" fill="#c5102e"/>
<polygon points="147.33,48.05 148.87,45.35 159.88,51.62 160.74,50.1 162.5,54.9 157.48,55.84 158.34,54.32" fill="#c5102e"/>
<polygon points="259.63,48.05 261.17,45.35 272.18,51.62 273.04,50.1 274.8,54.9 269.78,55.84 270.64,54.32" fill="#c5102e"/>
<polygon points="373.43,48.05 374.97,45.35 385.98,51.62 386.84,50.1 388.6,54.9 383.58,55.84 384.44,54.32" fill="#c5102e"/>
<path d="M8.75 8.05H14.95V9.9H10.6V11.8H14.7V13.4H10.6V15.15H14.95V17H8.75Z" fill="#000"/>
<path d="M8.85 283.2H14.8V284.95H10.6V287.1H14.4V288.7H10.6V292.4H8.85Z" fill="#000"/>
<text x="218.8" y="17.2" font-size="9" font-weight="bold" fill="#111" style="stroke:none" textLength="54.4" lengthAdjust="spacingAndGlyphs">CD8<tspan font-size="7" dy="-3.6">+</tspan><tspan dy="3.6"> T cells</tspan></text>
<text x="89" y="30.4" font-size="8.6" text-anchor="start" textLength="11.6" lengthAdjust="spacingAndGlyphs" style="stroke-width:.1px">HC</text>
<text x="173.1" y="30.4" font-size="8.6" text-anchor="start" textLength="41" lengthAdjust="spacingAndGlyphs" style="stroke-width:.1px">SCID other</text>
<text x="277.4" y="30.4" font-size="8.6" text-anchor="start" textLength="35.4" lengthAdjust="spacingAndGlyphs" style="stroke-width:.1px">GC/JAK3</text>
<text x="380.1" y="30.4" font-size="8.6" text-anchor="start" textLength="58" lengthAdjust="spacingAndGlyphs" style="stroke-width:.1px">GC/JAK3+IgRT</text>
<defs><linearGradient id="cb" x1="0" x2="1" y1="0" y2="0"><stop offset="0" stop-color="#0010e8"/><stop offset="0.1" stop-color="#0030c8"/><stop offset="0.2" stop-color="#009a50"/><stop offset="0.3" stop-color="#00e000"/><stop offset="0.45" stop-color="#50f000"/><stop offset="0.62" stop-color="#e0ff00"/><stop offset="0.67" stop-color="#ffff00"/><stop offset="0.8" stop-color="#ffb000"/><stop offset="0.92" stop-color="#ff5000"/><stop offset="1" stop-color="#ff1000"/></linearGradient></defs>
<rect x="477.9" y="84" width="33.9" height="7" fill="url(#cb)"/>
<rect x="477.9" y="189.9" width="33.9" height="6.7" fill="url(#cb)"/>
<text x="482" y="78.7" font-size="7.3" text-anchor="start" fill="#333" textLength="23.1" lengthAdjust="spacingAndGlyphs">CRTH2</text>
<text x="483.9" y="184.6" font-size="7.3" text-anchor="start" fill="#333" textLength="19" lengthAdjust="spacingAndGlyphs">CCR4</text>
<path d="M13.7 42 V205.2" stroke="#111" stroke-width="1.5"/>
<polygon points="13.7,36.9 17.1,42.8 10.3,42.8" fill="#000"/>
<text transform="translate(17.2,242.2) rotate(-90)" font-size="10.6" fill="#222" textLength="32.9" lengthAdjust="spacingAndGlyphs">UMAP2</text>
<text x="45.2" y="265.1" font-size="9.8" text-anchor="start" textLength="31.1" lengthAdjust="spacingAndGlyphs">UMAP1</text>
<path d="M78.8 262.7 H460" stroke="#111" stroke-width="1.5"/>
<polygon points="465.2,262.7 459.2,259.4 459.2,266" fill="#000"/>
<path d="M97.3 293.2 V385.3 H96 M97.3 392.8 V481 H220" stroke="#1e1e1e" stroke-width="1.3" fill="none"/>
<text x="90.8" y="300.2" font-size="8.4" text-anchor="end" fill="#1a1a1a" textLength="10.4" lengthAdjust="spacingAndGlyphs">1.4</text>
<text x="90.8" y="313.07" font-size="8.4" text-anchor="end" fill="#1a1a1a" textLength="10.4" lengthAdjust="spacingAndGlyphs">1.2</text>
<text x="90.8" y="325.94" font-size="8.4" text-anchor="end" fill="#1a1a1a" textLength="10.4" lengthAdjust="spacingAndGlyphs">1.0</text>
<text x="90.8" y="338.81" font-size="8.4" text-anchor="end" fill="#1a1a1a" textLength="10.4" lengthAdjust="spacingAndGlyphs">0.8</text>
<text x="90.8" y="351.68" font-size="8.4" text-anchor="end" fill="#1a1a1a" textLength="10.4" lengthAdjust="spacingAndGlyphs">0.6</text>
<text x="90.8" y="364.55" font-size="8.4" text-anchor="end" fill="#1a1a1a" textLength="10.4" lengthAdjust="spacingAndGlyphs">0.4</text>
<text x="90.8" y="377.42" font-size="8.4" text-anchor="end" fill="#1a1a1a" textLength="10.4" lengthAdjust="spacingAndGlyphs">0.2</text>
<text x="90.5" y="395.6" font-size="8.4" text-anchor="end" fill="#1a1a1a" textLength="15.2" lengthAdjust="spacingAndGlyphs">0.04</text>
<text x="90.5" y="417.7" font-size="8.4" text-anchor="end" fill="#1a1a1a" textLength="15.2" lengthAdjust="spacingAndGlyphs">0.03</text>
<text x="90.5" y="439.8" font-size="8.4" text-anchor="end" fill="#1a1a1a" textLength="15.2" lengthAdjust="spacingAndGlyphs">0.02</text>
<text x="90.5" y="461.9" font-size="8.4" text-anchor="end" fill="#1a1a1a" textLength="15.2" lengthAdjust="spacingAndGlyphs">0.01</text>
<text x="90.5" y="484" font-size="8.4" text-anchor="end" fill="#1a1a1a" textLength="15.2" lengthAdjust="spacingAndGlyphs">0.00</text>
<path d="M97.3 297.3h-3.1 M97.3 310.17h-3.1 M97.3 323.04h-3.1 M97.3 335.91h-3.1 M97.3 348.78h-3.1 M97.3 361.65h-3.1 M97.3 374.52h-3.1 M97.3 392.6h-3.1 M97.3 414.7h-3.1 M97.3 436.8h-3.1 M97.3 458.9h-3.1 M97.3 481h-3.1 M112.5 481v3 M143.1 481v3 M173.8 481v3 M204.3 481v3" stroke="#1e1e1e" stroke-width="1.1" fill="none"/>
<rect x="102.3" y="397.7" width="20.5" height="62.3" fill="#a88cbf"/>
<rect x="133.2" y="456.8" width="20" height="24.2" fill="#a9dcaa"/>
<rect x="163.8" y="465.8" width="20" height="15.2" fill="#e28b9d"/>
<rect x="194.3" y="465.8" width="20.3" height="15.2" fill="#88a7c7"/>
<path d="M102.3 423.8H122.8 M112.5 393V397.7 M112.5 460V476.5 M108 476.5H117 M108.5 381.9H117.5 M133.2 468H153.2 M143.1 342.5V385.3 M143.1 392.8V456.8 M138.5 342.5H148 M173.8 459.1V465.8 M168.8 459.1H178.9 M204.3 454.9V465.8 M199.3 454.9H209.3" stroke="#333" stroke-width="1.5" fill="none"/>
<circle cx="104.75" cy="381.5" r="2.85" fill="#5c1f74"/>
<circle cx="109.4" cy="384" r="2.85" fill="#5c1f74"/>
<circle cx="114.75" cy="385.25" r="2.85" fill="#5c1f74"/>
<circle cx="120.4" cy="382.5" r="2.85" fill="#5c1f74"/>
<circle cx="105.6" cy="410.7" r="2.85" fill="#5c1f74"/>
<circle cx="112.4" cy="410.7" r="2.85" fill="#5c1f74"/>
<circle cx="119.2" cy="410.7" r="2.85" fill="#5c1f74"/>
<circle cx="108.9" cy="417.1" r="2.85" fill="#5c1f74"/>
<circle cx="115.9" cy="423.8" r="2.85" fill="#5c1f74"/>
<circle cx="116.25" cy="434.5" r="2.85" fill="#5c1f74"/>
<circle cx="109.25" cy="439.25" r="2.85" fill="#5c1f74"/>
<circle cx="112.5" cy="448" r="2.85" fill="#5c1f74"/>
<circle cx="112.5" cy="457" r="2.85" fill="#5c1f74"/>
<circle cx="109.25" cy="463.25" r="2.85" fill="#5c1f74"/>
<circle cx="119.25" cy="465.75" r="2.85" fill="#5c1f74"/>
<circle cx="115.75" cy="469.5" r="2.85" fill="#5c1f74"/>
<circle cx="109.25" cy="476.5" r="2.85" fill="#5c1f74"/>
<circle cx="143.1" cy="342.5" r="2.85" fill="#3dba4a"/>
<circle cx="143.25" cy="456.5" r="2.85" fill="#3dba4a"/>
<circle cx="139.5" cy="463.25" r="2.85" fill="#3dba4a"/>
<circle cx="147" cy="468" r="2.85" fill="#3dba4a"/>
<circle cx="136.25" cy="476.5" r="2.85" fill="#3dba4a"/>
<circle cx="149.5" cy="476.5" r="2.85" fill="#3dba4a"/>
<circle cx="143.25" cy="481" r="2.85" fill="#3dba4a"/>
<circle cx="173.8" cy="458.9" r="2.85" fill="#c9112f"/>
<circle cx="173.8" cy="468" r="2.85" fill="#c9112f"/>
<circle cx="181.5" cy="474.6" r="2.85" fill="#c9112f"/>
<circle cx="165.8" cy="478.9" r="2.85" fill="#c9112f"/>
<circle cx="169.7" cy="478.9" r="2.85" fill="#c9112f"/>
<circle cx="173.5" cy="478.9" r="2.85" fill="#c9112f"/>
<circle cx="177.4" cy="478.9" r="2.85" fill="#c9112f"/>
<circle cx="204.3" cy="454.9" r="2.85" fill="#1f4e8a"/>
<circle cx="212" cy="476.5" r="2.85" fill="#1f4e8a"/>
<circle cx="196.9" cy="478.9" r="2.85" fill="#1f4e8a"/>
<circle cx="201.8" cy="480.8" r="2.85" fill="#1f4e8a"/>
<circle cx="206.9" cy="480.8" r="2.85" fill="#1f4e8a"/>
<path d="M146.6 304.9H206.9 M146.9 312.9H179.3 M118.7 320.9H206.9 M118.7 328.5H178.8 M118 336.5H143" stroke="#444" stroke-width="1.3" fill="none"/>
<text x="171" y="301.7" font-size="7.6" text-anchor="start" font-style="italic" textLength="11.8" lengthAdjust="spacingAndGlyphs" style="stroke-width:.08px">n.s.</text>
<text x="156.8" y="310.9" font-size="7.6" text-anchor="start" font-style="italic" textLength="12" lengthAdjust="spacingAndGlyphs" style="stroke-width:.08px">n.s.</text>
<text x="162.3" y="321.8" font-size="9.2" text-anchor="middle" textLength="7" lengthAdjust="spacingAndGlyphs">**</text>
<text x="148.5" y="329.1" font-size="9.2" text-anchor="middle">*</text>
<text x="124.8" y="334.6" font-size="7.6" text-anchor="start" font-style="italic" textLength="12" lengthAdjust="spacingAndGlyphs" style="stroke-width:.08px">n.s.</text>
<text transform="translate(68.4,443.5) rotate(-90)" font-size="9" fill="#222" textLength="102" lengthAdjust="spacingAndGlyphs">% of Tc2 (CRTh2<tspan font-size="6.2" dy="-3.6">+</tspan><tspan dy="3.6">) cells in CD45</tspan><tspan font-size="6.2" dy="-3.6">+</tspan></text>
<text transform="translate(112.9,490.8) rotate(-45)" font-size="7.8" text-anchor="end" fill="#222" textLength="14.5" lengthAdjust="spacingAndGlyphs" dy="2.8">HC</text>
<text transform="translate(143.9,489.4) rotate(-45)" font-size="7.8" text-anchor="end" fill="#222" textLength="43" lengthAdjust="spacingAndGlyphs" dy="2.8">SCID other</text>
<text transform="translate(173.5,488) rotate(-45)" font-size="7.8" text-anchor="end" fill="#222" textLength="37.5" lengthAdjust="spacingAndGlyphs" dy="2.8">GC/JAK3</text>
<text transform="translate(207.1,489.4) rotate(-45)" font-size="7.8" text-anchor="end" fill="#222" textLength="60" lengthAdjust="spacingAndGlyphs" dy="2.8">GC/JAK3+IgRT</text>
<path d="M286.0 291.5 V383.82 H284.8 M286.0 391.6 V481 H410" stroke="#1e1e1e" stroke-width="1.3" fill="none"/>
<text x="280" y="298.6" font-size="8.2" text-anchor="end" fill="#1a1a1a" textLength="11.2" lengthAdjust="spacingAndGlyphs">1.6</text>
<text x="280" y="313.27" font-size="8.2" text-anchor="end" fill="#1a1a1a" textLength="11.2" lengthAdjust="spacingAndGlyphs">1.4</text>
<text x="280" y="327.94" font-size="8.2" text-anchor="end" fill="#1a1a1a" textLength="11.2" lengthAdjust="spacingAndGlyphs">1.2</text>
<text x="280" y="342.61" font-size="8.2" text-anchor="end" fill="#1a1a1a" textLength="11.2" lengthAdjust="spacingAndGlyphs">1.0</text>
<text x="280" y="357.28" font-size="8.2" text-anchor="end" fill="#1a1a1a" textLength="11.2" lengthAdjust="spacingAndGlyphs">0.8</text>
<text x="280" y="371.95" font-size="8.2" text-anchor="end" fill="#1a1a1a" textLength="11.2" lengthAdjust="spacingAndGlyphs">0.6</text>
<text x="280" y="386.62" font-size="8.2" text-anchor="end" fill="#1a1a1a" textLength="11.2" lengthAdjust="spacingAndGlyphs">0.4</text>
<text x="280" y="394.4" font-size="8.2" text-anchor="end" fill="#1a1a1a" textLength="11.2" lengthAdjust="spacingAndGlyphs">0.4</text>
<text x="280" y="416.75" font-size="8.2" text-anchor="end" fill="#1a1a1a" textLength="11.2" lengthAdjust="spacingAndGlyphs">0.3</text>
<text x="280" y="439.1" font-size="8.2" text-anchor="end" fill="#1a1a1a" textLength="11.2" lengthAdjust="spacingAndGlyphs">0.2</text>
<text x="280" y="461.45" font-size="8.2" text-anchor="end" fill="#1a1a1a" textLength="11.2" lengthAdjust="spacingAndGlyphs">0.1</text>
<text x="280" y="483.8" font-size="8.2" text-anchor="end" fill="#1a1a1a" textLength="11.2" lengthAdjust="spacingAndGlyphs">0.0</text>
<path d="M286.0 295.8h-3.1 M286.0 310.47h-3.1 M286.0 325.14h-3.1 M286.0 339.81h-3.1 M286.0 354.48h-3.1 M286.0 369.15h-3.1 M286.0 383.82h-3.1 M286.0 391.6h-3.1 M286.0 413.95h-3.1 M286.0 436.3h-3.1 M286.0 458.65h-3.1 M286.0 481h-3.1 M301.5 481v3 M332.2 481v3 M363.2 481v3 M394.2 481v3" stroke="#1e1e1e" stroke-width="1.1" fill="none"/>
<rect x="291" y="449" width="20.8" height="16.2" fill="#a88cbf"/>
<rect x="353" y="419.6" width="20.3" height="54.2" fill="#e28b9d"/>
<rect x="384.5" y="392.5" width="20.2" height="84.8" fill="#88a7c7"/>
<rect x="384.5" y="382" width="20.2" height="2.8" fill="#88a7c7"/>
<path d="M291 459.2H311.8 M301.3 428.2V477.3 M296 428.2H306.7 M296.5 477.3H306.7 M332.2 339.1V383.8 M332.2 391.6V479 M327.5 339.1H337 M328 479.2H336 M353 468H373.3 M363.2 394.5V419.6 M358.5 394.5H368 M384.5 470.4H404.7 M394.2 358.5V382 M389.5 358.5H399" stroke="#333" stroke-width="1.5" fill="none"/>
<circle cx="298" cy="427.8" r="3.0" fill="#5c1f74"/>
<circle cx="304.5" cy="432.4" r="3.0" fill="#5c1f74"/>
<circle cx="301.3" cy="441.5" r="3.0" fill="#5c1f74"/>
<circle cx="298" cy="448" r="3.0" fill="#5c1f74"/>
<circle cx="304.9" cy="449.6" r="3.0" fill="#5c1f74"/>
<circle cx="309.1" cy="452.3" r="3.0" fill="#5c1f74"/>
<circle cx="293.7" cy="454.6" r="3.0" fill="#5c1f74"/>
<circle cx="303.7" cy="454.4" r="3.0" fill="#5c1f74"/>
<circle cx="308.5" cy="459.2" r="3.0" fill="#5c1f74"/>
<circle cx="298.9" cy="458.6" r="3.0" fill="#5c1f74"/>
<circle cx="294.7" cy="462.2" r="3.0" fill="#5c1f74"/>
<circle cx="300.7" cy="463.4" r="3.0" fill="#5c1f74"/>
<circle cx="304.3" cy="462.2" r="3.0" fill="#5c1f74"/>
<circle cx="297.7" cy="465.2" r="3.0" fill="#5c1f74"/>
<circle cx="301.9" cy="466.4" r="3.0" fill="#5c1f74"/>
<circle cx="294.7" cy="470.7" r="3.0" fill="#5c1f74"/>
<circle cx="308.3" cy="472.7" r="3.0" fill="#5c1f74"/>
<circle cx="301.3" cy="477.3" r="3.0" fill="#5c1f74"/>
<circle cx="329.13" cy="470.95" r="2.85" fill="#3dba4a"/>
<circle cx="324.8" cy="473.26" r="2.85" fill="#3dba4a"/>
<circle cx="334.9" cy="471.53" r="2.85" fill="#3dba4a"/>
<circle cx="340.09" cy="472.97" r="2.85" fill="#3dba4a"/>
<circle cx="331.15" cy="475.86" r="2.85" fill="#3dba4a"/>
<circle cx="329.13" cy="479.03" r="2.85" fill="#3dba4a"/>
<circle cx="332.2" cy="339.1" r="2.85" fill="#3dba4a"/>
<circle cx="363.16" cy="394.52" r="2.85" fill="#c9112f"/>
<circle cx="363.16" cy="427.69" r="2.85" fill="#c9112f"/>
<circle cx="363.16" cy="463.16" r="2.85" fill="#c9112f"/>
<circle cx="355.95" cy="472.39" r="2.85" fill="#c9112f"/>
<circle cx="363.16" cy="475.28" r="2.85" fill="#c9112f"/>
<circle cx="370.37" cy="473.84" r="2.85" fill="#c9112f"/>
<circle cx="394.03" cy="456.53" r="2.85" fill="#1f4e8a"/>
<circle cx="394.03" cy="470.95" r="2.85" fill="#1f4e8a"/>
<circle cx="397.49" cy="473.26" r="2.85" fill="#1f4e8a"/>
<circle cx="391.14" cy="480.47" r="2.85" fill="#1f4e8a"/>
<circle cx="394.2" cy="358.5" r="2.85" fill="#1f4e8a"/>
<path d="M332.2 299.9H392.8 M332.2 308.3H364.8 M303.4 316.3H392.8 M303.4 323.8H364.8 M302.5 331.9H328.5" stroke="#444" stroke-width="1.3" fill="none"/>
<text x="362.5" y="297.9" font-size="7.6" text-anchor="middle" font-style="italic" textLength="12" lengthAdjust="spacingAndGlyphs" style="stroke-width:.08px">n.s.</text>
<text x="348" y="306" font-size="7.6" text-anchor="middle" font-style="italic" textLength="12" lengthAdjust="spacingAndGlyphs" style="stroke-width:.08px">n.s.</text>
<text x="348" y="314.3" font-size="7.6" text-anchor="middle" font-style="italic" textLength="12" lengthAdjust="spacingAndGlyphs" style="stroke-width:.08px">n.s.</text>
<text x="333.6" y="321.8" font-size="7.6" text-anchor="middle" font-style="italic" textLength="12" lengthAdjust="spacingAndGlyphs" style="stroke-width:.08px">n.s.</text>
<text x="315.5" y="329.9" font-size="7.6" text-anchor="middle" font-style="italic" textLength="12" lengthAdjust="spacingAndGlyphs" style="stroke-width:.08px">n.s.</text>
<text transform="translate(262.6,442.4) rotate(-90)" font-size="9" fill="#222" textLength="105.5" lengthAdjust="spacingAndGlyphs">% of Tc2 (CCR4<tspan font-size="6.2" dy="-3.6">+</tspan><tspan dy="3.6">) cells in CD45</tspan><tspan font-size="6.2" dy="-3.6">+</tspan></text>
<text transform="translate(303,488.8) rotate(-45)" font-size="7.8" text-anchor="end" fill="#222" textLength="14.5" lengthAdjust="spacingAndGlyphs" dy="2.8">HC</text>
<text transform="translate(333.8,488.8) rotate(-45)" font-size="7.8" text-anchor="end" fill="#222" textLength="43" lengthAdjust="spacingAndGlyphs" dy="2.8">SCID other</text>
<text transform="translate(364.6,488.8) rotate(-45)" font-size="7.8" text-anchor="end" fill="#222" textLength="37.5" lengthAdjust="spacingAndGlyphs" dy="2.8">GC/JAK3</text>
<text transform="translate(397,488.8) rotate(-45)" font-size="7.8" text-anchor="end" fill="#222" textLength="60" lengthAdjust="spacingAndGlyphs" dy="2.8">GC/JAK3+IgRT</text>
<path d="M0 0H520V539H0Z M1.5 1.5V537.5H518.5V1.5Z" fill="#000" fill-rule="evenodd"/>
</svg></body></html>
